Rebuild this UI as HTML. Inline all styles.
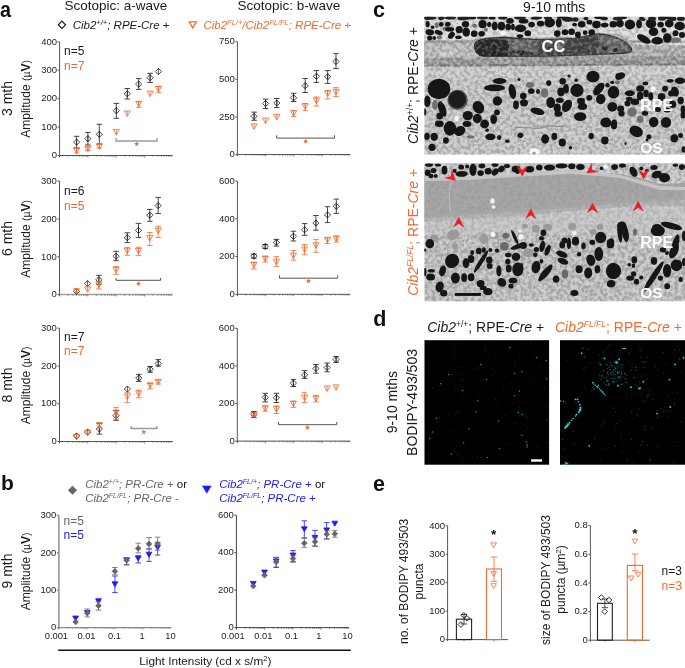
<!DOCTYPE html>
<html><head><meta charset="utf-8"><style>
html,body{margin:0;padding:0;background:#fff;}
body{width:685px;height:668px;overflow:hidden;position:relative;}
svg{display:block;position:absolute;left:0;top:0;will-change:transform;}
svg text{font-family:"Liberation Sans", sans-serif;}
</style></head><body>
<svg width="685" height="668" viewBox="0 0 685 668">
<text x="0" y="0" font-size="22" fill="#111" text-anchor="start" font-weight="bold" transform="translate(-0.1 16.9) scale(0.9 1)">a</text>
<text x="1" y="489.8" font-size="21" fill="#111" text-anchor="start" font-weight="bold" >b</text>
<text x="373.0" y="16.9" font-size="21.5" fill="#111" text-anchor="start" font-weight="bold" >c</text>
<text x="373.2" y="325.9" font-size="21.5" fill="#111" text-anchor="start" font-weight="bold" >d</text>
<text x="373.0" y="490.5" font-size="21.5" fill="#111" text-anchor="start" font-weight="bold" >e</text>
<text x="64.5" y="9.6" font-size="13.5" fill="#1a1a1a" text-anchor="start" >Scotopic: a-wave</text>
<text x="237.4" y="9.6" font-size="13.5" fill="#1a1a1a" text-anchor="start" >Scotopic: b-wave</text>
<path d="M61.9 21.2L65.5 24.8L61.9 28.400000000000002L58.3 24.8Z" fill="none" stroke="#1a1a1a" stroke-width="1.2"/>
<text x="72.7" y="29.4" font-size="11.5" fill="#1a1a1a" text-anchor="start" ><tspan font-style="italic">Cib2</tspan><tspan font-size="7.5" dy="-4.3" font-style="italic">+/+</tspan><tspan dy="4.3" font-style="italic">; RPE-Cre</tspan> +</text>
<path d="M189.20000000000002 21.799999999999997L196.4 21.799999999999997L192.8 28.0Z" fill="none" stroke="#EE6A30" stroke-width="1.2" stroke-linejoin="miter"/>
<text x="203.4" y="29.4" font-size="11.5" fill="#EE6A30" text-anchor="start" font-style="italic" >Cib2<tspan font-size="7.5" dy="-4.3">FL/+</tspan><tspan dy="4.3">/Cib2</tspan><tspan font-size="7.5" dy="-4.3">FL/FL</tspan><tspan dy="4.3">; RPE-Cre +</tspan></text>
<text x="0" y="0" font-size="14" fill="#1a1a1a" text-anchor="middle" transform="translate(12.4 98.5) rotate(-90)">3 mth</text>
<text x="0" y="0" font-size="14" fill="#1a1a1a" text-anchor="middle" transform="translate(12.4 238.5) rotate(-90)">6 mth</text>
<text x="0" y="0" font-size="14" fill="#1a1a1a" text-anchor="middle" transform="translate(12.4 385) rotate(-90)">8 mth</text>
<text x="0" y="0" font-size="14" fill="#1a1a1a" text-anchor="middle" transform="translate(12.4 571) rotate(-90)">9 mth</text>
<text x="0" y="0" font-size="12" fill="#1a1a1a" text-anchor="middle" transform="translate(30.2 98.9) rotate(-90)">Amplitude <tspan font-size="10.5">(µ</tspan><tspan font-weight="bold">V</tspan><tspan font-size="10.5">)</tspan></text>
<text x="0" y="0" font-size="12" fill="#1a1a1a" text-anchor="middle" transform="translate(30.2 238.9) rotate(-90)">Amplitude <tspan font-size="10.5">(µ</tspan><tspan font-weight="bold">V</tspan><tspan font-size="10.5">)</tspan></text>
<text x="0" y="0" font-size="12" fill="#1a1a1a" text-anchor="middle" transform="translate(30.2 385.4) rotate(-90)">Amplitude <tspan font-size="10.5">(µ</tspan><tspan font-weight="bold">V</tspan><tspan font-size="10.5">)</tspan></text>
<text x="0" y="0" font-size="12" fill="#1a1a1a" text-anchor="middle" transform="translate(30.2 571.4) rotate(-90)">Amplitude <tspan font-size="10.5">(µ</tspan><tspan font-weight="bold">V</tspan><tspan font-size="10.5">)</tspan></text>
<line x1="59.6" y1="41.8" x2="59.6" y2="157.0" stroke="#555555" stroke-width="1.0"/>
<line x1="59.6" y1="155.5" x2="172.7" y2="155.5" stroke="#555555" stroke-width="1.0"/>
<line x1="57.6" y1="41.8" x2="59.6" y2="41.8" stroke="#555555" stroke-width="1.0"/>
<text x="57.0" y="44.5" font-size="9.5" fill="#222" text-anchor="end" >400</text>
<line x1="57.6" y1="70.2" x2="59.6" y2="70.2" stroke="#555555" stroke-width="1.0"/>
<text x="57.0" y="72.9" font-size="9.5" fill="#222" text-anchor="end" >300</text>
<line x1="57.6" y1="98.7" x2="59.6" y2="98.7" stroke="#555555" stroke-width="1.0"/>
<text x="57.0" y="101.4" font-size="9.5" fill="#222" text-anchor="end" >200</text>
<line x1="57.6" y1="127.1" x2="59.6" y2="127.1" stroke="#555555" stroke-width="1.0"/>
<text x="57.0" y="129.79999999999998" font-size="9.5" fill="#222" text-anchor="end" >100</text>
<line x1="57.6" y1="155.5" x2="59.6" y2="155.5" stroke="#555555" stroke-width="1.0"/>
<text x="57.0" y="158.2" font-size="9.5" fill="#222" text-anchor="end" >0</text>
<line x1="59.60" y1="155.5" x2="59.60" y2="157.5" stroke="#555555" stroke-width="0.7"/>
<line x1="68.11" y1="155.5" x2="68.11" y2="156.7" stroke="#555555" stroke-width="0.7"/>
<line x1="73.09" y1="155.5" x2="73.09" y2="156.7" stroke="#555555" stroke-width="0.7"/>
<line x1="76.62" y1="155.5" x2="76.62" y2="156.7" stroke="#555555" stroke-width="0.7"/>
<line x1="79.36" y1="155.5" x2="79.36" y2="156.7" stroke="#555555" stroke-width="0.7"/>
<line x1="81.60" y1="155.5" x2="81.60" y2="156.7" stroke="#555555" stroke-width="0.7"/>
<line x1="83.50" y1="155.5" x2="83.50" y2="156.7" stroke="#555555" stroke-width="0.7"/>
<line x1="85.13" y1="155.5" x2="85.13" y2="156.7" stroke="#555555" stroke-width="0.7"/>
<line x1="86.58" y1="155.5" x2="86.58" y2="156.7" stroke="#555555" stroke-width="0.7"/>
<line x1="87.88" y1="155.5" x2="87.88" y2="157.5" stroke="#555555" stroke-width="0.7"/>
<line x1="96.39" y1="155.5" x2="96.39" y2="156.7" stroke="#555555" stroke-width="0.7"/>
<line x1="101.37" y1="155.5" x2="101.37" y2="156.7" stroke="#555555" stroke-width="0.7"/>
<line x1="104.90" y1="155.5" x2="104.90" y2="156.7" stroke="#555555" stroke-width="0.7"/>
<line x1="107.64" y1="155.5" x2="107.64" y2="156.7" stroke="#555555" stroke-width="0.7"/>
<line x1="109.88" y1="155.5" x2="109.88" y2="156.7" stroke="#555555" stroke-width="0.7"/>
<line x1="111.77" y1="155.5" x2="111.77" y2="156.7" stroke="#555555" stroke-width="0.7"/>
<line x1="113.41" y1="155.5" x2="113.41" y2="156.7" stroke="#555555" stroke-width="0.7"/>
<line x1="114.86" y1="155.5" x2="114.86" y2="156.7" stroke="#555555" stroke-width="0.7"/>
<line x1="116.15" y1="155.5" x2="116.15" y2="157.5" stroke="#555555" stroke-width="0.7"/>
<line x1="124.66" y1="155.5" x2="124.66" y2="156.7" stroke="#555555" stroke-width="0.7"/>
<line x1="129.64" y1="155.5" x2="129.64" y2="156.7" stroke="#555555" stroke-width="0.7"/>
<line x1="133.17" y1="155.5" x2="133.17" y2="156.7" stroke="#555555" stroke-width="0.7"/>
<line x1="135.91" y1="155.5" x2="135.91" y2="156.7" stroke="#555555" stroke-width="0.7"/>
<line x1="138.15" y1="155.5" x2="138.15" y2="156.7" stroke="#555555" stroke-width="0.7"/>
<line x1="140.05" y1="155.5" x2="140.05" y2="156.7" stroke="#555555" stroke-width="0.7"/>
<line x1="141.68" y1="155.5" x2="141.68" y2="156.7" stroke="#555555" stroke-width="0.7"/>
<line x1="143.13" y1="155.5" x2="143.13" y2="156.7" stroke="#555555" stroke-width="0.7"/>
<line x1="144.42" y1="155.5" x2="144.42" y2="157.5" stroke="#555555" stroke-width="0.7"/>
<line x1="152.94" y1="155.5" x2="152.94" y2="156.7" stroke="#555555" stroke-width="0.7"/>
<line x1="157.92" y1="155.5" x2="157.92" y2="156.7" stroke="#555555" stroke-width="0.7"/>
<line x1="161.45" y1="155.5" x2="161.45" y2="156.7" stroke="#555555" stroke-width="0.7"/>
<line x1="164.19" y1="155.5" x2="164.19" y2="156.7" stroke="#555555" stroke-width="0.7"/>
<line x1="166.43" y1="155.5" x2="166.43" y2="156.7" stroke="#555555" stroke-width="0.7"/>
<line x1="168.32" y1="155.5" x2="168.32" y2="156.7" stroke="#555555" stroke-width="0.7"/>
<line x1="169.96" y1="155.5" x2="169.96" y2="156.7" stroke="#555555" stroke-width="0.7"/>
<line x1="171.41" y1="155.5" x2="171.41" y2="156.7" stroke="#555555" stroke-width="0.7"/>
<text x="64.1" y="55.0" font-size="12" fill="#1a1a1a" text-anchor="start" >n=5</text>
<text x="64.1" y="69.9" font-size="12" fill="#EE6A30" text-anchor="start" >n=7</text>
<line x1="76.6" y1="136.3" x2="76.6" y2="148" stroke="#1a1a1a" stroke-width="0.8"/>
<line x1="73.8" y1="136.3" x2="79.39999999999999" y2="136.3" stroke="#1a1a1a" stroke-width="0.8"/>
<line x1="73.8" y1="148" x2="79.39999999999999" y2="148" stroke="#1a1a1a" stroke-width="0.8"/>
<path d="M76.6 139.0L79.69999999999999 142.1L76.6 145.2L73.5 142.1Z" fill="none" stroke="#1a1a1a" stroke-width="0.8"/>
<line x1="76.6" y1="139.1" x2="76.6" y2="145.1" stroke="#1a1a1a" stroke-width="0.7"/>
<line x1="87.9" y1="132.4" x2="87.9" y2="145" stroke="#1a1a1a" stroke-width="0.8"/>
<line x1="85.10000000000001" y1="132.4" x2="90.7" y2="132.4" stroke="#1a1a1a" stroke-width="0.8"/>
<line x1="85.10000000000001" y1="145" x2="90.7" y2="145" stroke="#1a1a1a" stroke-width="0.8"/>
<path d="M87.9 135.6L91.0 138.7L87.9 141.79999999999998L84.80000000000001 138.7Z" fill="none" stroke="#1a1a1a" stroke-width="0.8"/>
<line x1="87.9" y1="135.7" x2="87.9" y2="141.7" stroke="#1a1a1a" stroke-width="0.7"/>
<line x1="99.3" y1="124.3" x2="99.3" y2="144" stroke="#1a1a1a" stroke-width="0.8"/>
<line x1="96.5" y1="124.3" x2="102.1" y2="124.3" stroke="#1a1a1a" stroke-width="0.8"/>
<line x1="96.5" y1="144" x2="102.1" y2="144" stroke="#1a1a1a" stroke-width="0.8"/>
<path d="M99.3 131.20000000000002L102.39999999999999 134.3L99.3 137.4L96.2 134.3Z" fill="none" stroke="#1a1a1a" stroke-width="0.8"/>
<line x1="99.3" y1="131.3" x2="99.3" y2="137.3" stroke="#1a1a1a" stroke-width="0.7"/>
<line x1="116.3" y1="103.4" x2="116.3" y2="118.3" stroke="#1a1a1a" stroke-width="0.8"/>
<line x1="113.5" y1="103.4" x2="119.1" y2="103.4" stroke="#1a1a1a" stroke-width="0.8"/>
<line x1="113.5" y1="118.3" x2="119.1" y2="118.3" stroke="#1a1a1a" stroke-width="0.8"/>
<path d="M116.3 107.60000000000001L119.39999999999999 110.7L116.3 113.8L113.2 110.7Z" fill="none" stroke="#1a1a1a" stroke-width="0.8"/>
<line x1="116.3" y1="107.7" x2="116.3" y2="113.7" stroke="#1a1a1a" stroke-width="0.7"/>
<line x1="127.3" y1="88.5" x2="127.3" y2="99.0" stroke="#1a1a1a" stroke-width="0.8"/>
<line x1="124.5" y1="88.5" x2="130.1" y2="88.5" stroke="#1a1a1a" stroke-width="0.8"/>
<line x1="124.5" y1="99.0" x2="130.1" y2="99.0" stroke="#1a1a1a" stroke-width="0.8"/>
<path d="M127.3 90.7L130.4 93.8L127.3 96.89999999999999L124.2 93.8Z" fill="none" stroke="#1a1a1a" stroke-width="0.8"/>
<line x1="127.3" y1="90.8" x2="127.3" y2="96.8" stroke="#1a1a1a" stroke-width="0.7"/>
<line x1="138.7" y1="78.6" x2="138.7" y2="89.4" stroke="#1a1a1a" stroke-width="0.8"/>
<line x1="135.89999999999998" y1="78.6" x2="141.5" y2="78.6" stroke="#1a1a1a" stroke-width="0.8"/>
<line x1="135.89999999999998" y1="89.4" x2="141.5" y2="89.4" stroke="#1a1a1a" stroke-width="0.8"/>
<path d="M138.7 81.0L141.79999999999998 84.1L138.7 87.19999999999999L135.6 84.1Z" fill="none" stroke="#1a1a1a" stroke-width="0.8"/>
<line x1="138.7" y1="81.1" x2="138.7" y2="87.1" stroke="#1a1a1a" stroke-width="0.7"/>
<line x1="150.1" y1="73.3" x2="150.1" y2="82.5" stroke="#1a1a1a" stroke-width="0.8"/>
<line x1="147.29999999999998" y1="73.3" x2="152.9" y2="73.3" stroke="#1a1a1a" stroke-width="0.8"/>
<line x1="147.29999999999998" y1="82.5" x2="152.9" y2="82.5" stroke="#1a1a1a" stroke-width="0.8"/>
<path d="M150.1 74.60000000000001L153.2 77.7L150.1 80.8L147.0 77.7Z" fill="none" stroke="#1a1a1a" stroke-width="0.8"/>
<line x1="150.1" y1="74.7" x2="150.1" y2="80.7" stroke="#1a1a1a" stroke-width="0.7"/>
<path d="M158.4 68.4L161.5 71.5L158.4 74.6L155.3 71.5Z" fill="none" stroke="#1a1a1a" stroke-width="0.8"/>
<line x1="158.4" y1="68.5" x2="158.4" y2="74.5" stroke="#1a1a1a" stroke-width="0.7"/>
<line x1="76.6" y1="148" x2="76.6" y2="153" stroke="#EE6A30" stroke-width="0.8"/>
<line x1="73.8" y1="148" x2="79.39999999999999" y2="148" stroke="#EE6A30" stroke-width="0.8"/>
<line x1="73.8" y1="153" x2="79.39999999999999" y2="153" stroke="#EE6A30" stroke-width="0.8"/>
<path d="M73.5 147.9L79.69999999999999 147.9L76.6 153.29999999999998Z" fill="none" stroke="#EE6A30" stroke-width="0.8" stroke-linejoin="miter"/>
<line x1="76.6" y1="147.9" x2="76.6" y2="153.29999999999998" stroke="#EE6A30" stroke-width="0.8"/>
<line x1="87.9" y1="147" x2="87.9" y2="150.5" stroke="#EE6A30" stroke-width="0.8"/>
<line x1="85.10000000000001" y1="147" x2="90.7" y2="147" stroke="#EE6A30" stroke-width="0.8"/>
<line x1="85.10000000000001" y1="150.5" x2="90.7" y2="150.5" stroke="#EE6A30" stroke-width="0.8"/>
<path d="M84.80000000000001 146.0L91.0 146.0L87.9 151.39999999999998Z" fill="none" stroke="#EE6A30" stroke-width="0.8" stroke-linejoin="miter"/>
<line x1="87.9" y1="146.0" x2="87.9" y2="151.39999999999998" stroke="#EE6A30" stroke-width="0.8"/>
<line x1="99.3" y1="144.2" x2="99.3" y2="148" stroke="#EE6A30" stroke-width="0.8"/>
<line x1="96.5" y1="144.2" x2="102.1" y2="144.2" stroke="#EE6A30" stroke-width="0.8"/>
<line x1="96.5" y1="148" x2="102.1" y2="148" stroke="#EE6A30" stroke-width="0.8"/>
<path d="M96.2 143.9L102.39999999999999 143.9L99.3 149.29999999999998Z" fill="none" stroke="#EE6A30" stroke-width="0.8" stroke-linejoin="miter"/>
<line x1="99.3" y1="143.9" x2="99.3" y2="149.29999999999998" stroke="#EE6A30" stroke-width="0.8"/>
<path d="M113.2 129.4L119.39999999999999 129.4L116.3 134.79999999999998Z" fill="none" stroke="#EE6A30" stroke-width="0.8" stroke-linejoin="miter"/>
<line x1="116.3" y1="129.4" x2="116.3" y2="134.79999999999998" stroke="#EE6A30" stroke-width="0.8"/>
<path d="M124.2 111.0L130.4 111.0L127.3 116.4Z" fill="none" stroke="#EE6A30" stroke-width="0.8" stroke-linejoin="miter"/>
<line x1="127.3" y1="111.0" x2="127.3" y2="116.4" stroke="#EE6A30" stroke-width="0.8"/>
<line x1="138.7" y1="101.6" x2="138.7" y2="107.4" stroke="#EE6A30" stroke-width="0.8"/>
<line x1="135.89999999999998" y1="101.6" x2="141.5" y2="101.6" stroke="#EE6A30" stroke-width="0.8"/>
<line x1="135.89999999999998" y1="107.4" x2="141.5" y2="107.4" stroke="#EE6A30" stroke-width="0.8"/>
<path d="M135.6 101.3L141.79999999999998 101.3L138.7 106.7Z" fill="none" stroke="#EE6A30" stroke-width="0.8" stroke-linejoin="miter"/>
<line x1="138.7" y1="101.3" x2="138.7" y2="106.7" stroke="#EE6A30" stroke-width="0.8"/>
<path d="M147.0 91.1L153.2 91.1L150.1 96.5Z" fill="none" stroke="#EE6A30" stroke-width="0.8" stroke-linejoin="miter"/>
<line x1="150.1" y1="91.1" x2="150.1" y2="96.5" stroke="#EE6A30" stroke-width="0.8"/>
<line x1="158.4" y1="86.4" x2="158.4" y2="92.4" stroke="#EE6A30" stroke-width="0.8"/>
<line x1="155.6" y1="86.4" x2="161.20000000000002" y2="86.4" stroke="#EE6A30" stroke-width="0.8"/>
<line x1="155.6" y1="92.4" x2="161.20000000000002" y2="92.4" stroke="#EE6A30" stroke-width="0.8"/>
<path d="M155.3 86.39999999999999L161.5 86.39999999999999L158.4 91.8Z" fill="none" stroke="#EE6A30" stroke-width="0.8" stroke-linejoin="miter"/>
<line x1="158.4" y1="86.39999999999999" x2="158.4" y2="91.8" stroke="#EE6A30" stroke-width="0.8"/>
<path d="M116.2 138.2L116.2 141.0L157.1 141.0L157.1 138.2" fill="none" stroke="#9a9a9a" stroke-width="1.5"/>
<polygon points="136.70,141.30 137.38,143.07 139.27,143.17 137.79,144.36 138.29,146.18 136.70,145.15 135.11,146.18 135.61,144.36 134.13,143.17 136.02,143.07" fill="#EE6A30"/>
<line x1="237.4" y1="41.7" x2="237.4" y2="156.0" stroke="#555555" stroke-width="1.0"/>
<line x1="237.4" y1="154.5" x2="350.4" y2="154.5" stroke="#555555" stroke-width="1.0"/>
<line x1="235.4" y1="41.7" x2="237.4" y2="41.7" stroke="#555555" stroke-width="1.0"/>
<text x="234.8" y="44.400000000000006" font-size="9.5" fill="#222" text-anchor="end" >750</text>
<line x1="235.4" y1="79.3" x2="237.4" y2="79.3" stroke="#555555" stroke-width="1.0"/>
<text x="234.8" y="82.0" font-size="9.5" fill="#222" text-anchor="end" >500</text>
<line x1="235.4" y1="117.0" x2="237.4" y2="117.0" stroke="#555555" stroke-width="1.0"/>
<text x="234.8" y="119.7" font-size="9.5" fill="#222" text-anchor="end" >250</text>
<line x1="235.4" y1="154.6" x2="237.4" y2="154.6" stroke="#555555" stroke-width="1.0"/>
<text x="234.8" y="157.29999999999998" font-size="9.5" fill="#222" text-anchor="end" >0</text>
<line x1="237.40" y1="154.5" x2="237.40" y2="156.5" stroke="#555555" stroke-width="0.7"/>
<line x1="245.90" y1="154.5" x2="245.90" y2="155.7" stroke="#555555" stroke-width="0.7"/>
<line x1="250.88" y1="154.5" x2="250.88" y2="155.7" stroke="#555555" stroke-width="0.7"/>
<line x1="254.41" y1="154.5" x2="254.41" y2="155.7" stroke="#555555" stroke-width="0.7"/>
<line x1="257.15" y1="154.5" x2="257.15" y2="155.7" stroke="#555555" stroke-width="0.7"/>
<line x1="259.38" y1="154.5" x2="259.38" y2="155.7" stroke="#555555" stroke-width="0.7"/>
<line x1="261.27" y1="154.5" x2="261.27" y2="155.7" stroke="#555555" stroke-width="0.7"/>
<line x1="262.91" y1="154.5" x2="262.91" y2="155.7" stroke="#555555" stroke-width="0.7"/>
<line x1="264.36" y1="154.5" x2="264.36" y2="155.7" stroke="#555555" stroke-width="0.7"/>
<line x1="265.65" y1="154.5" x2="265.65" y2="156.5" stroke="#555555" stroke-width="0.7"/>
<line x1="274.15" y1="154.5" x2="274.15" y2="155.7" stroke="#555555" stroke-width="0.7"/>
<line x1="279.13" y1="154.5" x2="279.13" y2="155.7" stroke="#555555" stroke-width="0.7"/>
<line x1="282.66" y1="154.5" x2="282.66" y2="155.7" stroke="#555555" stroke-width="0.7"/>
<line x1="285.40" y1="154.5" x2="285.40" y2="155.7" stroke="#555555" stroke-width="0.7"/>
<line x1="287.63" y1="154.5" x2="287.63" y2="155.7" stroke="#555555" stroke-width="0.7"/>
<line x1="289.52" y1="154.5" x2="289.52" y2="155.7" stroke="#555555" stroke-width="0.7"/>
<line x1="291.16" y1="154.5" x2="291.16" y2="155.7" stroke="#555555" stroke-width="0.7"/>
<line x1="292.61" y1="154.5" x2="292.61" y2="155.7" stroke="#555555" stroke-width="0.7"/>
<line x1="293.90" y1="154.5" x2="293.90" y2="156.5" stroke="#555555" stroke-width="0.7"/>
<line x1="302.40" y1="154.5" x2="302.40" y2="155.7" stroke="#555555" stroke-width="0.7"/>
<line x1="307.38" y1="154.5" x2="307.38" y2="155.7" stroke="#555555" stroke-width="0.7"/>
<line x1="310.91" y1="154.5" x2="310.91" y2="155.7" stroke="#555555" stroke-width="0.7"/>
<line x1="313.65" y1="154.5" x2="313.65" y2="155.7" stroke="#555555" stroke-width="0.7"/>
<line x1="315.88" y1="154.5" x2="315.88" y2="155.7" stroke="#555555" stroke-width="0.7"/>
<line x1="317.77" y1="154.5" x2="317.77" y2="155.7" stroke="#555555" stroke-width="0.7"/>
<line x1="319.41" y1="154.5" x2="319.41" y2="155.7" stroke="#555555" stroke-width="0.7"/>
<line x1="320.86" y1="154.5" x2="320.86" y2="155.7" stroke="#555555" stroke-width="0.7"/>
<line x1="322.15" y1="154.5" x2="322.15" y2="156.5" stroke="#555555" stroke-width="0.7"/>
<line x1="330.65" y1="154.5" x2="330.65" y2="155.7" stroke="#555555" stroke-width="0.7"/>
<line x1="335.63" y1="154.5" x2="335.63" y2="155.7" stroke="#555555" stroke-width="0.7"/>
<line x1="339.16" y1="154.5" x2="339.16" y2="155.7" stroke="#555555" stroke-width="0.7"/>
<line x1="341.90" y1="154.5" x2="341.90" y2="155.7" stroke="#555555" stroke-width="0.7"/>
<line x1="344.13" y1="154.5" x2="344.13" y2="155.7" stroke="#555555" stroke-width="0.7"/>
<line x1="346.02" y1="154.5" x2="346.02" y2="155.7" stroke="#555555" stroke-width="0.7"/>
<line x1="347.66" y1="154.5" x2="347.66" y2="155.7" stroke="#555555" stroke-width="0.7"/>
<line x1="349.11" y1="154.5" x2="349.11" y2="155.7" stroke="#555555" stroke-width="0.7"/>
<line x1="254.1" y1="112.1" x2="254.1" y2="120.3" stroke="#1a1a1a" stroke-width="0.8"/>
<line x1="251.29999999999998" y1="112.1" x2="256.9" y2="112.1" stroke="#1a1a1a" stroke-width="0.8"/>
<line x1="251.29999999999998" y1="120.3" x2="256.9" y2="120.3" stroke="#1a1a1a" stroke-width="0.8"/>
<path d="M254.1 113.30000000000001L257.2 116.4L254.1 119.5L251.0 116.4Z" fill="none" stroke="#1a1a1a" stroke-width="0.8"/>
<line x1="254.1" y1="113.4" x2="254.1" y2="119.4" stroke="#1a1a1a" stroke-width="0.7"/>
<line x1="265.6" y1="99.1" x2="265.6" y2="108.5" stroke="#1a1a1a" stroke-width="0.8"/>
<line x1="262.8" y1="99.1" x2="268.40000000000003" y2="99.1" stroke="#1a1a1a" stroke-width="0.8"/>
<line x1="262.8" y1="108.5" x2="268.40000000000003" y2="108.5" stroke="#1a1a1a" stroke-width="0.8"/>
<path d="M265.6 100.4L268.70000000000005 103.5L265.6 106.6L262.5 103.5Z" fill="none" stroke="#1a1a1a" stroke-width="0.8"/>
<line x1="265.6" y1="100.5" x2="265.6" y2="106.5" stroke="#1a1a1a" stroke-width="0.7"/>
<line x1="276.8" y1="98.5" x2="276.8" y2="107.6" stroke="#1a1a1a" stroke-width="0.8"/>
<line x1="274.0" y1="98.5" x2="279.6" y2="98.5" stroke="#1a1a1a" stroke-width="0.8"/>
<line x1="274.0" y1="107.6" x2="279.6" y2="107.6" stroke="#1a1a1a" stroke-width="0.8"/>
<path d="M276.8 99.9L279.90000000000003 103.0L276.8 106.1L273.7 103.0Z" fill="none" stroke="#1a1a1a" stroke-width="0.8"/>
<line x1="276.8" y1="100.0" x2="276.8" y2="106.0" stroke="#1a1a1a" stroke-width="0.7"/>
<line x1="293.6" y1="93.3" x2="293.6" y2="101.5" stroke="#1a1a1a" stroke-width="0.8"/>
<line x1="290.8" y1="93.3" x2="296.40000000000003" y2="93.3" stroke="#1a1a1a" stroke-width="0.8"/>
<line x1="290.8" y1="101.5" x2="296.40000000000003" y2="101.5" stroke="#1a1a1a" stroke-width="0.8"/>
<path d="M293.6 94.7L296.70000000000005 97.8L293.6 100.89999999999999L290.5 97.8Z" fill="none" stroke="#1a1a1a" stroke-width="0.8"/>
<line x1="293.6" y1="94.8" x2="293.6" y2="100.8" stroke="#1a1a1a" stroke-width="0.7"/>
<line x1="305.2" y1="78.5" x2="305.2" y2="92.5" stroke="#1a1a1a" stroke-width="0.8"/>
<line x1="302.4" y1="78.5" x2="308.0" y2="78.5" stroke="#1a1a1a" stroke-width="0.8"/>
<line x1="302.4" y1="92.5" x2="308.0" y2="92.5" stroke="#1a1a1a" stroke-width="0.8"/>
<path d="M305.2 82.60000000000001L308.3 85.7L305.2 88.8L302.09999999999997 85.7Z" fill="none" stroke="#1a1a1a" stroke-width="0.8"/>
<line x1="305.2" y1="82.7" x2="305.2" y2="88.7" stroke="#1a1a1a" stroke-width="0.7"/>
<line x1="316.4" y1="70.6" x2="316.4" y2="82.4" stroke="#1a1a1a" stroke-width="0.8"/>
<line x1="313.59999999999997" y1="70.6" x2="319.2" y2="70.6" stroke="#1a1a1a" stroke-width="0.8"/>
<line x1="313.59999999999997" y1="82.4" x2="319.2" y2="82.4" stroke="#1a1a1a" stroke-width="0.8"/>
<path d="M316.4 73.2L319.5 76.3L316.4 79.39999999999999L313.29999999999995 76.3Z" fill="none" stroke="#1a1a1a" stroke-width="0.8"/>
<line x1="316.4" y1="73.3" x2="316.4" y2="79.3" stroke="#1a1a1a" stroke-width="0.7"/>
<line x1="327.7" y1="70.6" x2="327.7" y2="83.4" stroke="#1a1a1a" stroke-width="0.8"/>
<line x1="324.9" y1="70.6" x2="330.5" y2="70.6" stroke="#1a1a1a" stroke-width="0.8"/>
<line x1="324.9" y1="83.4" x2="330.5" y2="83.4" stroke="#1a1a1a" stroke-width="0.8"/>
<path d="M327.7 73.7L330.8 76.8L327.7 79.89999999999999L324.59999999999997 76.8Z" fill="none" stroke="#1a1a1a" stroke-width="0.8"/>
<line x1="327.7" y1="73.8" x2="327.7" y2="79.8" stroke="#1a1a1a" stroke-width="0.7"/>
<line x1="336.0" y1="53.6" x2="336.0" y2="68.6" stroke="#1a1a1a" stroke-width="0.8"/>
<line x1="333.2" y1="53.6" x2="338.8" y2="53.6" stroke="#1a1a1a" stroke-width="0.8"/>
<line x1="333.2" y1="68.6" x2="338.8" y2="68.6" stroke="#1a1a1a" stroke-width="0.8"/>
<path d="M336.0 58.4L339.1 61.5L336.0 64.6L332.9 61.5Z" fill="none" stroke="#1a1a1a" stroke-width="0.8"/>
<line x1="336.0" y1="58.5" x2="336.0" y2="64.5" stroke="#1a1a1a" stroke-width="0.7"/>
<path d="M251.0 123.89999999999999L257.2 123.89999999999999L254.1 129.29999999999998Z" fill="none" stroke="#EE6A30" stroke-width="0.8" stroke-linejoin="miter"/>
<line x1="254.1" y1="123.89999999999999" x2="254.1" y2="129.29999999999998" stroke="#EE6A30" stroke-width="0.8"/>
<path d="M262.5 118.1L268.70000000000005 118.1L265.6 123.5Z" fill="none" stroke="#EE6A30" stroke-width="0.8" stroke-linejoin="miter"/>
<line x1="265.6" y1="118.1" x2="265.6" y2="123.5" stroke="#EE6A30" stroke-width="0.8"/>
<path d="M273.7 114.5L279.90000000000003 114.5L276.8 119.9Z" fill="none" stroke="#EE6A30" stroke-width="0.8" stroke-linejoin="miter"/>
<line x1="276.8" y1="114.5" x2="276.8" y2="119.9" stroke="#EE6A30" stroke-width="0.8"/>
<line x1="293.6" y1="110.6" x2="293.6" y2="116.4" stroke="#EE6A30" stroke-width="0.8"/>
<line x1="290.8" y1="110.6" x2="296.40000000000003" y2="110.6" stroke="#EE6A30" stroke-width="0.8"/>
<line x1="290.8" y1="116.4" x2="296.40000000000003" y2="116.4" stroke="#EE6A30" stroke-width="0.8"/>
<path d="M290.5 110.7L296.70000000000005 110.7L293.6 116.10000000000001Z" fill="none" stroke="#EE6A30" stroke-width="0.8" stroke-linejoin="miter"/>
<line x1="293.6" y1="110.7" x2="293.6" y2="116.10000000000001" stroke="#EE6A30" stroke-width="0.8"/>
<line x1="305.2" y1="103.5" x2="305.2" y2="110.4" stroke="#EE6A30" stroke-width="0.8"/>
<line x1="302.4" y1="103.5" x2="308.0" y2="103.5" stroke="#EE6A30" stroke-width="0.8"/>
<line x1="302.4" y1="110.4" x2="308.0" y2="110.4" stroke="#EE6A30" stroke-width="0.8"/>
<path d="M302.09999999999997 103.8L308.3 103.8L305.2 109.2Z" fill="none" stroke="#EE6A30" stroke-width="0.8" stroke-linejoin="miter"/>
<line x1="305.2" y1="103.8" x2="305.2" y2="109.2" stroke="#EE6A30" stroke-width="0.8"/>
<line x1="316.4" y1="97" x2="316.4" y2="106" stroke="#EE6A30" stroke-width="0.8"/>
<line x1="313.59999999999997" y1="97" x2="319.2" y2="97" stroke="#EE6A30" stroke-width="0.8"/>
<line x1="313.59999999999997" y1="106" x2="319.2" y2="106" stroke="#EE6A30" stroke-width="0.8"/>
<path d="M313.29999999999995 98.0L319.5 98.0L316.4 103.4Z" fill="none" stroke="#EE6A30" stroke-width="0.8" stroke-linejoin="miter"/>
<line x1="316.4" y1="98.0" x2="316.4" y2="103.4" stroke="#EE6A30" stroke-width="0.8"/>
<line x1="327.7" y1="90.4" x2="327.7" y2="98.9" stroke="#EE6A30" stroke-width="0.8"/>
<line x1="324.9" y1="90.4" x2="330.5" y2="90.4" stroke="#EE6A30" stroke-width="0.8"/>
<line x1="324.9" y1="98.9" x2="330.5" y2="98.9" stroke="#EE6A30" stroke-width="0.8"/>
<path d="M324.59999999999997 90.89999999999999L330.8 90.89999999999999L327.7 96.3Z" fill="none" stroke="#EE6A30" stroke-width="0.8" stroke-linejoin="miter"/>
<line x1="327.7" y1="90.89999999999999" x2="327.7" y2="96.3" stroke="#EE6A30" stroke-width="0.8"/>
<line x1="336.0" y1="87.6" x2="336.0" y2="96.6" stroke="#EE6A30" stroke-width="0.8"/>
<line x1="333.2" y1="87.6" x2="338.8" y2="87.6" stroke="#EE6A30" stroke-width="0.8"/>
<line x1="333.2" y1="96.6" x2="338.8" y2="96.6" stroke="#EE6A30" stroke-width="0.8"/>
<path d="M332.9 89.3L339.1 89.3L336.0 94.7Z" fill="none" stroke="#EE6A30" stroke-width="0.8" stroke-linejoin="miter"/>
<line x1="336.0" y1="89.3" x2="336.0" y2="94.7" stroke="#EE6A30" stroke-width="0.8"/>
<path d="M276.7 135.3L276.7 138.1L334.5 138.1L334.5 135.3" fill="none" stroke="#555" stroke-width="1.0"/>
<polygon points="305.70,138.70 306.38,140.47 308.27,140.57 306.79,141.76 307.29,143.58 305.70,142.55 304.11,143.58 304.61,141.76 303.13,140.57 305.02,140.47" fill="#EE6A30"/>
<line x1="59.5" y1="181.1" x2="59.5" y2="296.0" stroke="#555555" stroke-width="1.0"/>
<line x1="59.5" y1="294.5" x2="172.7" y2="294.5" stroke="#a0a0a0" stroke-width="1.5"/>
<line x1="57.5" y1="181.1" x2="59.5" y2="181.1" stroke="#555555" stroke-width="1.0"/>
<text x="56.9" y="183.79999999999998" font-size="9.5" fill="#222" text-anchor="end" >300</text>
<line x1="57.5" y1="219.0" x2="59.5" y2="219.0" stroke="#555555" stroke-width="1.0"/>
<text x="56.9" y="221.7" font-size="9.5" fill="#222" text-anchor="end" >200</text>
<line x1="57.5" y1="256.8" x2="59.5" y2="256.8" stroke="#555555" stroke-width="1.0"/>
<text x="56.9" y="259.5" font-size="9.5" fill="#222" text-anchor="end" >100</text>
<line x1="57.5" y1="294.5" x2="59.5" y2="294.5" stroke="#555555" stroke-width="1.0"/>
<text x="56.9" y="297.2" font-size="9.5" fill="#222" text-anchor="end" >0</text>
<line x1="59.50" y1="294.5" x2="59.50" y2="296.5" stroke="#555555" stroke-width="0.7"/>
<line x1="68.02" y1="294.5" x2="68.02" y2="295.7" stroke="#555555" stroke-width="0.7"/>
<line x1="73.00" y1="294.5" x2="73.00" y2="295.7" stroke="#555555" stroke-width="0.7"/>
<line x1="76.54" y1="294.5" x2="76.54" y2="295.7" stroke="#555555" stroke-width="0.7"/>
<line x1="79.28" y1="294.5" x2="79.28" y2="295.7" stroke="#555555" stroke-width="0.7"/>
<line x1="81.52" y1="294.5" x2="81.52" y2="295.7" stroke="#555555" stroke-width="0.7"/>
<line x1="83.42" y1="294.5" x2="83.42" y2="295.7" stroke="#555555" stroke-width="0.7"/>
<line x1="85.06" y1="294.5" x2="85.06" y2="295.7" stroke="#555555" stroke-width="0.7"/>
<line x1="86.51" y1="294.5" x2="86.51" y2="295.7" stroke="#555555" stroke-width="0.7"/>
<line x1="87.80" y1="294.5" x2="87.80" y2="296.5" stroke="#555555" stroke-width="0.7"/>
<line x1="96.32" y1="294.5" x2="96.32" y2="295.7" stroke="#555555" stroke-width="0.7"/>
<line x1="101.30" y1="294.5" x2="101.30" y2="295.7" stroke="#555555" stroke-width="0.7"/>
<line x1="104.84" y1="294.5" x2="104.84" y2="295.7" stroke="#555555" stroke-width="0.7"/>
<line x1="107.58" y1="294.5" x2="107.58" y2="295.7" stroke="#555555" stroke-width="0.7"/>
<line x1="109.82" y1="294.5" x2="109.82" y2="295.7" stroke="#555555" stroke-width="0.7"/>
<line x1="111.72" y1="294.5" x2="111.72" y2="295.7" stroke="#555555" stroke-width="0.7"/>
<line x1="113.36" y1="294.5" x2="113.36" y2="295.7" stroke="#555555" stroke-width="0.7"/>
<line x1="114.81" y1="294.5" x2="114.81" y2="295.7" stroke="#555555" stroke-width="0.7"/>
<line x1="116.10" y1="294.5" x2="116.10" y2="296.5" stroke="#555555" stroke-width="0.7"/>
<line x1="124.62" y1="294.5" x2="124.62" y2="295.7" stroke="#555555" stroke-width="0.7"/>
<line x1="129.60" y1="294.5" x2="129.60" y2="295.7" stroke="#555555" stroke-width="0.7"/>
<line x1="133.14" y1="294.5" x2="133.14" y2="295.7" stroke="#555555" stroke-width="0.7"/>
<line x1="135.88" y1="294.5" x2="135.88" y2="295.7" stroke="#555555" stroke-width="0.7"/>
<line x1="138.12" y1="294.5" x2="138.12" y2="295.7" stroke="#555555" stroke-width="0.7"/>
<line x1="140.02" y1="294.5" x2="140.02" y2="295.7" stroke="#555555" stroke-width="0.7"/>
<line x1="141.66" y1="294.5" x2="141.66" y2="295.7" stroke="#555555" stroke-width="0.7"/>
<line x1="143.11" y1="294.5" x2="143.11" y2="295.7" stroke="#555555" stroke-width="0.7"/>
<line x1="144.40" y1="294.5" x2="144.40" y2="296.5" stroke="#555555" stroke-width="0.7"/>
<line x1="152.92" y1="294.5" x2="152.92" y2="295.7" stroke="#555555" stroke-width="0.7"/>
<line x1="157.90" y1="294.5" x2="157.90" y2="295.7" stroke="#555555" stroke-width="0.7"/>
<line x1="161.44" y1="294.5" x2="161.44" y2="295.7" stroke="#555555" stroke-width="0.7"/>
<line x1="164.18" y1="294.5" x2="164.18" y2="295.7" stroke="#555555" stroke-width="0.7"/>
<line x1="166.42" y1="294.5" x2="166.42" y2="295.7" stroke="#555555" stroke-width="0.7"/>
<line x1="168.32" y1="294.5" x2="168.32" y2="295.7" stroke="#555555" stroke-width="0.7"/>
<line x1="169.96" y1="294.5" x2="169.96" y2="295.7" stroke="#555555" stroke-width="0.7"/>
<line x1="171.41" y1="294.5" x2="171.41" y2="295.7" stroke="#555555" stroke-width="0.7"/>
<text x="64.1" y="194.7" font-size="12" fill="#1a1a1a" text-anchor="start" >n=6</text>
<text x="64.1" y="209.7" font-size="12" fill="#EE6A30" text-anchor="start" >n=5</text>
<path d="M76.5 288.29999999999995L79.6 291.4L76.5 294.5L73.4 291.4Z" fill="none" stroke="#1a1a1a" stroke-width="0.8"/>
<line x1="76.5" y1="288.4" x2="76.5" y2="294.4" stroke="#1a1a1a" stroke-width="0.7"/>
<path d="M87.6 280.5L90.69999999999999 283.6L87.6 286.70000000000005L84.5 283.6Z" fill="none" stroke="#1a1a1a" stroke-width="0.8"/>
<line x1="87.6" y1="280.6" x2="87.6" y2="286.6" stroke="#1a1a1a" stroke-width="0.7"/>
<line x1="98.9" y1="275.3" x2="98.9" y2="284.3" stroke="#1a1a1a" stroke-width="0.8"/>
<line x1="96.10000000000001" y1="275.3" x2="101.7" y2="275.3" stroke="#1a1a1a" stroke-width="0.8"/>
<line x1="96.10000000000001" y1="284.3" x2="101.7" y2="284.3" stroke="#1a1a1a" stroke-width="0.8"/>
<path d="M98.9 276.7L102.0 279.8L98.9 282.90000000000003L95.80000000000001 279.8Z" fill="none" stroke="#1a1a1a" stroke-width="0.8"/>
<line x1="98.9" y1="276.8" x2="98.9" y2="282.8" stroke="#1a1a1a" stroke-width="0.7"/>
<line x1="116.1" y1="251.3" x2="116.1" y2="260.7" stroke="#1a1a1a" stroke-width="0.8"/>
<line x1="113.3" y1="251.3" x2="118.89999999999999" y2="251.3" stroke="#1a1a1a" stroke-width="0.8"/>
<line x1="113.3" y1="260.7" x2="118.89999999999999" y2="260.7" stroke="#1a1a1a" stroke-width="0.8"/>
<path d="M116.1 253.1L119.19999999999999 256.2L116.1 259.3L113.0 256.2Z" fill="none" stroke="#1a1a1a" stroke-width="0.8"/>
<line x1="116.1" y1="253.2" x2="116.1" y2="259.2" stroke="#1a1a1a" stroke-width="0.7"/>
<line x1="127.3" y1="232.8" x2="127.3" y2="242.6" stroke="#1a1a1a" stroke-width="0.8"/>
<line x1="124.5" y1="232.8" x2="130.1" y2="232.8" stroke="#1a1a1a" stroke-width="0.8"/>
<line x1="124.5" y1="242.6" x2="130.1" y2="242.6" stroke="#1a1a1a" stroke-width="0.8"/>
<path d="M127.3 234.6L130.4 237.7L127.3 240.79999999999998L124.2 237.7Z" fill="none" stroke="#1a1a1a" stroke-width="0.8"/>
<line x1="127.3" y1="234.7" x2="127.3" y2="240.7" stroke="#1a1a1a" stroke-width="0.7"/>
<line x1="138.5" y1="223.4" x2="138.5" y2="237.4" stroke="#1a1a1a" stroke-width="0.8"/>
<line x1="135.7" y1="223.4" x2="141.3" y2="223.4" stroke="#1a1a1a" stroke-width="0.8"/>
<line x1="135.7" y1="237.4" x2="141.3" y2="237.4" stroke="#1a1a1a" stroke-width="0.8"/>
<path d="M138.5 227.3L141.6 230.4L138.5 233.5L135.4 230.4Z" fill="none" stroke="#1a1a1a" stroke-width="0.8"/>
<line x1="138.5" y1="227.4" x2="138.5" y2="233.4" stroke="#1a1a1a" stroke-width="0.7"/>
<line x1="149.8" y1="209.4" x2="149.8" y2="221.3" stroke="#1a1a1a" stroke-width="0.8"/>
<line x1="147.0" y1="209.4" x2="152.60000000000002" y2="209.4" stroke="#1a1a1a" stroke-width="0.8"/>
<line x1="147.0" y1="221.3" x2="152.60000000000002" y2="221.3" stroke="#1a1a1a" stroke-width="0.8"/>
<path d="M149.8 212.1L152.9 215.2L149.8 218.29999999999998L146.70000000000002 215.2Z" fill="none" stroke="#1a1a1a" stroke-width="0.8"/>
<line x1="149.8" y1="212.2" x2="149.8" y2="218.2" stroke="#1a1a1a" stroke-width="0.7"/>
<line x1="158.2" y1="197.4" x2="158.2" y2="213.5" stroke="#1a1a1a" stroke-width="0.8"/>
<line x1="155.39999999999998" y1="197.4" x2="161.0" y2="197.4" stroke="#1a1a1a" stroke-width="0.8"/>
<line x1="155.39999999999998" y1="213.5" x2="161.0" y2="213.5" stroke="#1a1a1a" stroke-width="0.8"/>
<path d="M158.2 202.5L161.29999999999998 205.6L158.2 208.7L155.1 205.6Z" fill="none" stroke="#1a1a1a" stroke-width="0.8"/>
<line x1="158.2" y1="202.6" x2="158.2" y2="208.6" stroke="#1a1a1a" stroke-width="0.7"/>
<path d="M73.4 288.7L79.6 288.7L76.5 294.09999999999997Z" fill="none" stroke="#EE6A30" stroke-width="0.8" stroke-linejoin="miter"/>
<line x1="76.5" y1="288.7" x2="76.5" y2="294.09999999999997" stroke="#EE6A30" stroke-width="0.8"/>
<path d="M84.5 286.8L90.69999999999999 286.8L87.6 292.2Z" fill="none" stroke="#EE6A30" stroke-width="0.8" stroke-linejoin="miter"/>
<line x1="87.6" y1="286.8" x2="87.6" y2="292.2" stroke="#EE6A30" stroke-width="0.8"/>
<line x1="98.9" y1="281.7" x2="98.9" y2="288.9" stroke="#EE6A30" stroke-width="0.8"/>
<line x1="96.10000000000001" y1="281.7" x2="101.7" y2="281.7" stroke="#EE6A30" stroke-width="0.8"/>
<line x1="96.10000000000001" y1="288.9" x2="101.7" y2="288.9" stroke="#EE6A30" stroke-width="0.8"/>
<path d="M95.80000000000001 282.3L102.0 282.3L98.9 287.7Z" fill="none" stroke="#EE6A30" stroke-width="0.8" stroke-linejoin="miter"/>
<line x1="98.9" y1="282.3" x2="98.9" y2="287.7" stroke="#EE6A30" stroke-width="0.8"/>
<line x1="116.1" y1="266.6" x2="116.1" y2="274.3" stroke="#EE6A30" stroke-width="0.8"/>
<line x1="113.3" y1="266.6" x2="118.89999999999999" y2="266.6" stroke="#EE6A30" stroke-width="0.8"/>
<line x1="113.3" y1="274.3" x2="118.89999999999999" y2="274.3" stroke="#EE6A30" stroke-width="0.8"/>
<path d="M113.0 267.3L119.19999999999999 267.3L116.1 272.7Z" fill="none" stroke="#EE6A30" stroke-width="0.8" stroke-linejoin="miter"/>
<line x1="116.1" y1="267.3" x2="116.1" y2="272.7" stroke="#EE6A30" stroke-width="0.8"/>
<line x1="127.3" y1="247.6" x2="127.3" y2="255.3" stroke="#EE6A30" stroke-width="0.8"/>
<line x1="124.5" y1="247.6" x2="130.1" y2="247.6" stroke="#EE6A30" stroke-width="0.8"/>
<line x1="124.5" y1="255.3" x2="130.1" y2="255.3" stroke="#EE6A30" stroke-width="0.8"/>
<path d="M124.2 248.20000000000002L130.4 248.20000000000002L127.3 253.6Z" fill="none" stroke="#EE6A30" stroke-width="0.8" stroke-linejoin="miter"/>
<line x1="127.3" y1="248.20000000000002" x2="127.3" y2="253.6" stroke="#EE6A30" stroke-width="0.8"/>
<line x1="138.5" y1="247.2" x2="138.5" y2="255.6" stroke="#EE6A30" stroke-width="0.8"/>
<line x1="135.7" y1="247.2" x2="141.3" y2="247.2" stroke="#EE6A30" stroke-width="0.8"/>
<line x1="135.7" y1="255.6" x2="141.3" y2="255.6" stroke="#EE6A30" stroke-width="0.8"/>
<path d="M135.4 248.4L141.6 248.4L138.5 253.79999999999998Z" fill="none" stroke="#EE6A30" stroke-width="0.8" stroke-linejoin="miter"/>
<line x1="138.5" y1="248.4" x2="138.5" y2="253.79999999999998" stroke="#EE6A30" stroke-width="0.8"/>
<line x1="149.8" y1="232.5" x2="149.8" y2="245.5" stroke="#EE6A30" stroke-width="0.8"/>
<line x1="147.0" y1="232.5" x2="152.60000000000002" y2="232.5" stroke="#EE6A30" stroke-width="0.8"/>
<line x1="147.0" y1="245.5" x2="152.60000000000002" y2="245.5" stroke="#EE6A30" stroke-width="0.8"/>
<path d="M146.70000000000002 235.4L152.9 235.4L149.8 240.79999999999998Z" fill="none" stroke="#EE6A30" stroke-width="0.8" stroke-linejoin="miter"/>
<line x1="149.8" y1="235.4" x2="149.8" y2="240.79999999999998" stroke="#EE6A30" stroke-width="0.8"/>
<line x1="158.2" y1="226.2" x2="158.2" y2="237.4" stroke="#EE6A30" stroke-width="0.8"/>
<line x1="155.39999999999998" y1="226.2" x2="161.0" y2="226.2" stroke="#EE6A30" stroke-width="0.8"/>
<line x1="155.39999999999998" y1="237.4" x2="161.0" y2="237.4" stroke="#EE6A30" stroke-width="0.8"/>
<path d="M155.1 228.10000000000002L161.29999999999998 228.10000000000002L158.2 233.5Z" fill="none" stroke="#EE6A30" stroke-width="0.8" stroke-linejoin="miter"/>
<line x1="158.2" y1="228.10000000000002" x2="158.2" y2="233.5" stroke="#EE6A30" stroke-width="0.8"/>
<path d="M116.1 278.0L116.1 280.3L160.6 280.3L160.6 278.0" fill="none" stroke="#555" stroke-width="1.0"/>
<polygon points="138.50,281.00 139.18,282.77 141.07,282.87 139.59,284.06 140.09,285.88 138.50,284.85 136.91,285.88 137.41,284.06 135.93,282.87 137.82,282.77" fill="#EE6A30"/>
<line x1="237.4" y1="181.1" x2="237.4" y2="295.8" stroke="#555555" stroke-width="1.0"/>
<line x1="237.4" y1="294.3" x2="350.4" y2="294.3" stroke="#555555" stroke-width="1.0"/>
<line x1="235.4" y1="181.1" x2="237.4" y2="181.1" stroke="#555555" stroke-width="1.0"/>
<text x="234.8" y="183.79999999999998" font-size="9.5" fill="#222" text-anchor="end" >600</text>
<line x1="235.4" y1="218.8" x2="237.4" y2="218.8" stroke="#555555" stroke-width="1.0"/>
<text x="234.8" y="221.5" font-size="9.5" fill="#222" text-anchor="end" >400</text>
<line x1="235.4" y1="256.6" x2="237.4" y2="256.6" stroke="#555555" stroke-width="1.0"/>
<text x="234.8" y="259.3" font-size="9.5" fill="#222" text-anchor="end" >200</text>
<line x1="235.4" y1="294.3" x2="237.4" y2="294.3" stroke="#555555" stroke-width="1.0"/>
<text x="234.8" y="297.0" font-size="9.5" fill="#222" text-anchor="end" >0</text>
<line x1="237.40" y1="294.3" x2="237.40" y2="296.3" stroke="#555555" stroke-width="0.7"/>
<line x1="245.90" y1="294.3" x2="245.90" y2="295.5" stroke="#555555" stroke-width="0.7"/>
<line x1="250.88" y1="294.3" x2="250.88" y2="295.5" stroke="#555555" stroke-width="0.7"/>
<line x1="254.41" y1="294.3" x2="254.41" y2="295.5" stroke="#555555" stroke-width="0.7"/>
<line x1="257.15" y1="294.3" x2="257.15" y2="295.5" stroke="#555555" stroke-width="0.7"/>
<line x1="259.38" y1="294.3" x2="259.38" y2="295.5" stroke="#555555" stroke-width="0.7"/>
<line x1="261.27" y1="294.3" x2="261.27" y2="295.5" stroke="#555555" stroke-width="0.7"/>
<line x1="262.91" y1="294.3" x2="262.91" y2="295.5" stroke="#555555" stroke-width="0.7"/>
<line x1="264.36" y1="294.3" x2="264.36" y2="295.5" stroke="#555555" stroke-width="0.7"/>
<line x1="265.65" y1="294.3" x2="265.65" y2="296.3" stroke="#555555" stroke-width="0.7"/>
<line x1="274.15" y1="294.3" x2="274.15" y2="295.5" stroke="#555555" stroke-width="0.7"/>
<line x1="279.13" y1="294.3" x2="279.13" y2="295.5" stroke="#555555" stroke-width="0.7"/>
<line x1="282.66" y1="294.3" x2="282.66" y2="295.5" stroke="#555555" stroke-width="0.7"/>
<line x1="285.40" y1="294.3" x2="285.40" y2="295.5" stroke="#555555" stroke-width="0.7"/>
<line x1="287.63" y1="294.3" x2="287.63" y2="295.5" stroke="#555555" stroke-width="0.7"/>
<line x1="289.52" y1="294.3" x2="289.52" y2="295.5" stroke="#555555" stroke-width="0.7"/>
<line x1="291.16" y1="294.3" x2="291.16" y2="295.5" stroke="#555555" stroke-width="0.7"/>
<line x1="292.61" y1="294.3" x2="292.61" y2="295.5" stroke="#555555" stroke-width="0.7"/>
<line x1="293.90" y1="294.3" x2="293.90" y2="296.3" stroke="#555555" stroke-width="0.7"/>
<line x1="302.40" y1="294.3" x2="302.40" y2="295.5" stroke="#555555" stroke-width="0.7"/>
<line x1="307.38" y1="294.3" x2="307.38" y2="295.5" stroke="#555555" stroke-width="0.7"/>
<line x1="310.91" y1="294.3" x2="310.91" y2="295.5" stroke="#555555" stroke-width="0.7"/>
<line x1="313.65" y1="294.3" x2="313.65" y2="295.5" stroke="#555555" stroke-width="0.7"/>
<line x1="315.88" y1="294.3" x2="315.88" y2="295.5" stroke="#555555" stroke-width="0.7"/>
<line x1="317.77" y1="294.3" x2="317.77" y2="295.5" stroke="#555555" stroke-width="0.7"/>
<line x1="319.41" y1="294.3" x2="319.41" y2="295.5" stroke="#555555" stroke-width="0.7"/>
<line x1="320.86" y1="294.3" x2="320.86" y2="295.5" stroke="#555555" stroke-width="0.7"/>
<line x1="322.15" y1="294.3" x2="322.15" y2="296.3" stroke="#555555" stroke-width="0.7"/>
<line x1="330.65" y1="294.3" x2="330.65" y2="295.5" stroke="#555555" stroke-width="0.7"/>
<line x1="335.63" y1="294.3" x2="335.63" y2="295.5" stroke="#555555" stroke-width="0.7"/>
<line x1="339.16" y1="294.3" x2="339.16" y2="295.5" stroke="#555555" stroke-width="0.7"/>
<line x1="341.90" y1="294.3" x2="341.90" y2="295.5" stroke="#555555" stroke-width="0.7"/>
<line x1="344.13" y1="294.3" x2="344.13" y2="295.5" stroke="#555555" stroke-width="0.7"/>
<line x1="346.02" y1="294.3" x2="346.02" y2="295.5" stroke="#555555" stroke-width="0.7"/>
<line x1="347.66" y1="294.3" x2="347.66" y2="295.5" stroke="#555555" stroke-width="0.7"/>
<line x1="349.11" y1="294.3" x2="349.11" y2="295.5" stroke="#555555" stroke-width="0.7"/>
<line x1="253.9" y1="254" x2="253.9" y2="258.2" stroke="#1a1a1a" stroke-width="0.8"/>
<line x1="251.1" y1="254" x2="256.7" y2="254" stroke="#1a1a1a" stroke-width="0.8"/>
<line x1="251.1" y1="258.2" x2="256.7" y2="258.2" stroke="#1a1a1a" stroke-width="0.8"/>
<path d="M253.9 253.00000000000003L257.0 256.1L253.9 259.20000000000005L250.8 256.1Z" fill="none" stroke="#1a1a1a" stroke-width="0.8"/>
<line x1="253.9" y1="253.10000000000002" x2="253.9" y2="259.1" stroke="#1a1a1a" stroke-width="0.7"/>
<line x1="265.2" y1="244.5" x2="265.2" y2="248.5" stroke="#1a1a1a" stroke-width="0.8"/>
<line x1="262.4" y1="244.5" x2="268.0" y2="244.5" stroke="#1a1a1a" stroke-width="0.8"/>
<line x1="262.4" y1="248.5" x2="268.0" y2="248.5" stroke="#1a1a1a" stroke-width="0.8"/>
<path d="M265.2 243.4L268.3 246.5L265.2 249.6L262.09999999999997 246.5Z" fill="none" stroke="#1a1a1a" stroke-width="0.8"/>
<line x1="265.2" y1="243.5" x2="265.2" y2="249.5" stroke="#1a1a1a" stroke-width="0.7"/>
<line x1="276.4" y1="239.4" x2="276.4" y2="246.1" stroke="#1a1a1a" stroke-width="0.8"/>
<line x1="273.59999999999997" y1="239.4" x2="279.2" y2="239.4" stroke="#1a1a1a" stroke-width="0.8"/>
<line x1="273.59999999999997" y1="246.1" x2="279.2" y2="246.1" stroke="#1a1a1a" stroke-width="0.8"/>
<path d="M276.4 239.3L279.5 242.4L276.4 245.5L273.29999999999995 242.4Z" fill="none" stroke="#1a1a1a" stroke-width="0.8"/>
<line x1="276.4" y1="239.4" x2="276.4" y2="245.4" stroke="#1a1a1a" stroke-width="0.7"/>
<line x1="293.4" y1="231.2" x2="293.4" y2="241" stroke="#1a1a1a" stroke-width="0.8"/>
<line x1="290.59999999999997" y1="231.2" x2="296.2" y2="231.2" stroke="#1a1a1a" stroke-width="0.8"/>
<line x1="290.59999999999997" y1="241" x2="296.2" y2="241" stroke="#1a1a1a" stroke-width="0.8"/>
<path d="M293.4 233.20000000000002L296.5 236.3L293.4 239.4L290.29999999999995 236.3Z" fill="none" stroke="#1a1a1a" stroke-width="0.8"/>
<line x1="293.4" y1="233.3" x2="293.4" y2="239.3" stroke="#1a1a1a" stroke-width="0.7"/>
<line x1="304.6" y1="223.6" x2="304.6" y2="235.3" stroke="#1a1a1a" stroke-width="0.8"/>
<line x1="301.8" y1="223.6" x2="307.40000000000003" y2="223.6" stroke="#1a1a1a" stroke-width="0.8"/>
<line x1="301.8" y1="235.3" x2="307.40000000000003" y2="235.3" stroke="#1a1a1a" stroke-width="0.8"/>
<path d="M304.6 226.70000000000002L307.70000000000005 229.8L304.6 232.9L301.5 229.8Z" fill="none" stroke="#1a1a1a" stroke-width="0.8"/>
<line x1="304.6" y1="226.8" x2="304.6" y2="232.8" stroke="#1a1a1a" stroke-width="0.7"/>
<line x1="315.9" y1="215.5" x2="315.9" y2="230.2" stroke="#1a1a1a" stroke-width="0.8"/>
<line x1="313.09999999999997" y1="215.5" x2="318.7" y2="215.5" stroke="#1a1a1a" stroke-width="0.8"/>
<line x1="313.09999999999997" y1="230.2" x2="318.7" y2="230.2" stroke="#1a1a1a" stroke-width="0.8"/>
<path d="M315.9 219.9L319.0 223.0L315.9 226.1L312.79999999999995 223.0Z" fill="none" stroke="#1a1a1a" stroke-width="0.8"/>
<line x1="315.9" y1="220.0" x2="315.9" y2="226.0" stroke="#1a1a1a" stroke-width="0.7"/>
<line x1="327.5" y1="206.7" x2="327.5" y2="222.6" stroke="#1a1a1a" stroke-width="0.8"/>
<line x1="324.7" y1="206.7" x2="330.3" y2="206.7" stroke="#1a1a1a" stroke-width="0.8"/>
<line x1="324.7" y1="222.6" x2="330.3" y2="222.6" stroke="#1a1a1a" stroke-width="0.8"/>
<path d="M327.5 211.8L330.6 214.9L327.5 218.0L324.4 214.9Z" fill="none" stroke="#1a1a1a" stroke-width="0.8"/>
<line x1="327.5" y1="211.9" x2="327.5" y2="217.9" stroke="#1a1a1a" stroke-width="0.7"/>
<line x1="336.3" y1="199.1" x2="336.3" y2="213.4" stroke="#1a1a1a" stroke-width="0.8"/>
<line x1="333.5" y1="199.1" x2="339.1" y2="199.1" stroke="#1a1a1a" stroke-width="0.8"/>
<line x1="333.5" y1="213.4" x2="339.1" y2="213.4" stroke="#1a1a1a" stroke-width="0.8"/>
<path d="M336.3 203.20000000000002L339.40000000000003 206.3L336.3 209.4L333.2 206.3Z" fill="none" stroke="#1a1a1a" stroke-width="0.8"/>
<line x1="336.3" y1="203.3" x2="336.3" y2="209.3" stroke="#1a1a1a" stroke-width="0.7"/>
<line x1="253.9" y1="262.5" x2="253.9" y2="269" stroke="#EE6A30" stroke-width="0.8"/>
<line x1="251.1" y1="262.5" x2="256.7" y2="262.5" stroke="#EE6A30" stroke-width="0.8"/>
<line x1="251.1" y1="269" x2="256.7" y2="269" stroke="#EE6A30" stroke-width="0.8"/>
<path d="M250.8 262.2L257.0 262.2L253.9 267.59999999999997Z" fill="none" stroke="#EE6A30" stroke-width="0.8" stroke-linejoin="miter"/>
<line x1="253.9" y1="262.2" x2="253.9" y2="267.59999999999997" stroke="#EE6A30" stroke-width="0.8"/>
<line x1="265.2" y1="256.3" x2="265.2" y2="261.9" stroke="#EE6A30" stroke-width="0.8"/>
<line x1="262.4" y1="256.3" x2="268.0" y2="256.3" stroke="#EE6A30" stroke-width="0.8"/>
<line x1="262.4" y1="261.9" x2="268.0" y2="261.9" stroke="#EE6A30" stroke-width="0.8"/>
<path d="M262.09999999999997 256.1L268.3 256.1L265.2 261.5Z" fill="none" stroke="#EE6A30" stroke-width="0.8" stroke-linejoin="miter"/>
<line x1="265.2" y1="256.1" x2="265.2" y2="261.5" stroke="#EE6A30" stroke-width="0.8"/>
<line x1="276.4" y1="256.7" x2="276.4" y2="266.4" stroke="#EE6A30" stroke-width="0.8"/>
<line x1="273.59999999999997" y1="256.7" x2="279.2" y2="256.7" stroke="#EE6A30" stroke-width="0.8"/>
<line x1="273.59999999999997" y1="266.4" x2="279.2" y2="266.4" stroke="#EE6A30" stroke-width="0.8"/>
<path d="M273.29999999999995 259.2L279.5 259.2L276.4 264.59999999999997Z" fill="none" stroke="#EE6A30" stroke-width="0.8" stroke-linejoin="miter"/>
<line x1="276.4" y1="259.2" x2="276.4" y2="264.59999999999997" stroke="#EE6A30" stroke-width="0.8"/>
<line x1="293.4" y1="250.6" x2="293.4" y2="260.2" stroke="#EE6A30" stroke-width="0.8"/>
<line x1="290.59999999999997" y1="250.6" x2="296.2" y2="250.6" stroke="#EE6A30" stroke-width="0.8"/>
<line x1="290.59999999999997" y1="260.2" x2="296.2" y2="260.2" stroke="#EE6A30" stroke-width="0.8"/>
<path d="M290.29999999999995 253.0L296.5 253.0L293.4 258.4Z" fill="none" stroke="#EE6A30" stroke-width="0.8" stroke-linejoin="miter"/>
<line x1="293.4" y1="253.0" x2="293.4" y2="258.4" stroke="#EE6A30" stroke-width="0.8"/>
<line x1="304.6" y1="244.5" x2="304.6" y2="254.7" stroke="#EE6A30" stroke-width="0.8"/>
<line x1="301.8" y1="244.5" x2="307.40000000000003" y2="244.5" stroke="#EE6A30" stroke-width="0.8"/>
<line x1="301.8" y1="254.7" x2="307.40000000000003" y2="254.7" stroke="#EE6A30" stroke-width="0.8"/>
<path d="M301.5 246.9L307.70000000000005 246.9L304.6 252.29999999999998Z" fill="none" stroke="#EE6A30" stroke-width="0.8" stroke-linejoin="miter"/>
<line x1="304.6" y1="246.9" x2="304.6" y2="252.29999999999998" stroke="#EE6A30" stroke-width="0.8"/>
<line x1="315.9" y1="239.4" x2="315.9" y2="252.3" stroke="#EE6A30" stroke-width="0.8"/>
<line x1="313.09999999999997" y1="239.4" x2="318.7" y2="239.4" stroke="#EE6A30" stroke-width="0.8"/>
<line x1="313.09999999999997" y1="252.3" x2="318.7" y2="252.3" stroke="#EE6A30" stroke-width="0.8"/>
<path d="M312.79999999999995 242.8L319.0 242.8L315.9 248.2Z" fill="none" stroke="#EE6A30" stroke-width="0.8" stroke-linejoin="miter"/>
<line x1="315.9" y1="242.8" x2="315.9" y2="248.2" stroke="#EE6A30" stroke-width="0.8"/>
<line x1="327.5" y1="238" x2="327.5" y2="243.5" stroke="#EE6A30" stroke-width="0.8"/>
<line x1="324.7" y1="238" x2="330.3" y2="238" stroke="#EE6A30" stroke-width="0.8"/>
<line x1="324.7" y1="243.5" x2="330.3" y2="243.5" stroke="#EE6A30" stroke-width="0.8"/>
<path d="M324.4 237.3L330.6 237.3L327.5 242.7Z" fill="none" stroke="#EE6A30" stroke-width="0.8" stroke-linejoin="miter"/>
<line x1="327.5" y1="237.3" x2="327.5" y2="242.7" stroke="#EE6A30" stroke-width="0.8"/>
<line x1="336.3" y1="235.9" x2="336.3" y2="242" stroke="#EE6A30" stroke-width="0.8"/>
<line x1="333.5" y1="235.9" x2="339.1" y2="235.9" stroke="#EE6A30" stroke-width="0.8"/>
<line x1="333.5" y1="242" x2="339.1" y2="242" stroke="#EE6A30" stroke-width="0.8"/>
<path d="M333.2 236.3L339.40000000000003 236.3L336.3 241.7Z" fill="none" stroke="#EE6A30" stroke-width="0.8" stroke-linejoin="miter"/>
<line x1="336.3" y1="236.3" x2="336.3" y2="241.7" stroke="#EE6A30" stroke-width="0.8"/>
<path d="M279.5 275.3L279.5 278.2L337.7 278.2L337.7 275.3" fill="none" stroke="#555" stroke-width="1.0"/>
<polygon points="308.50,278.30 309.18,280.07 311.07,280.17 309.59,281.36 310.09,283.18 308.50,282.15 306.91,283.18 307.41,281.36 305.93,280.17 307.82,280.07" fill="#EE6A30"/>
<line x1="59.5" y1="328.2" x2="59.5" y2="443.0" stroke="#555555" stroke-width="1.0"/>
<line x1="59.5" y1="441.5" x2="172.7" y2="441.5" stroke="#555555" stroke-width="1.0"/>
<line x1="57.5" y1="328.2" x2="59.5" y2="328.2" stroke="#555555" stroke-width="1.0"/>
<text x="56.9" y="330.9" font-size="9.5" fill="#222" text-anchor="end" >300</text>
<line x1="57.5" y1="366.0" x2="59.5" y2="366.0" stroke="#555555" stroke-width="1.0"/>
<text x="56.9" y="368.7" font-size="9.5" fill="#222" text-anchor="end" >200</text>
<line x1="57.5" y1="403.7" x2="59.5" y2="403.7" stroke="#555555" stroke-width="1.0"/>
<text x="56.9" y="406.4" font-size="9.5" fill="#222" text-anchor="end" >100</text>
<line x1="57.5" y1="441.5" x2="59.5" y2="441.5" stroke="#555555" stroke-width="1.0"/>
<text x="56.9" y="444.2" font-size="9.5" fill="#222" text-anchor="end" >0</text>
<line x1="59.50" y1="441.5" x2="59.50" y2="443.5" stroke="#555555" stroke-width="0.7"/>
<line x1="68.02" y1="441.5" x2="68.02" y2="442.7" stroke="#555555" stroke-width="0.7"/>
<line x1="73.00" y1="441.5" x2="73.00" y2="442.7" stroke="#555555" stroke-width="0.7"/>
<line x1="76.54" y1="441.5" x2="76.54" y2="442.7" stroke="#555555" stroke-width="0.7"/>
<line x1="79.28" y1="441.5" x2="79.28" y2="442.7" stroke="#555555" stroke-width="0.7"/>
<line x1="81.52" y1="441.5" x2="81.52" y2="442.7" stroke="#555555" stroke-width="0.7"/>
<line x1="83.42" y1="441.5" x2="83.42" y2="442.7" stroke="#555555" stroke-width="0.7"/>
<line x1="85.06" y1="441.5" x2="85.06" y2="442.7" stroke="#555555" stroke-width="0.7"/>
<line x1="86.51" y1="441.5" x2="86.51" y2="442.7" stroke="#555555" stroke-width="0.7"/>
<line x1="87.80" y1="441.5" x2="87.80" y2="443.5" stroke="#555555" stroke-width="0.7"/>
<line x1="96.32" y1="441.5" x2="96.32" y2="442.7" stroke="#555555" stroke-width="0.7"/>
<line x1="101.30" y1="441.5" x2="101.30" y2="442.7" stroke="#555555" stroke-width="0.7"/>
<line x1="104.84" y1="441.5" x2="104.84" y2="442.7" stroke="#555555" stroke-width="0.7"/>
<line x1="107.58" y1="441.5" x2="107.58" y2="442.7" stroke="#555555" stroke-width="0.7"/>
<line x1="109.82" y1="441.5" x2="109.82" y2="442.7" stroke="#555555" stroke-width="0.7"/>
<line x1="111.72" y1="441.5" x2="111.72" y2="442.7" stroke="#555555" stroke-width="0.7"/>
<line x1="113.36" y1="441.5" x2="113.36" y2="442.7" stroke="#555555" stroke-width="0.7"/>
<line x1="114.81" y1="441.5" x2="114.81" y2="442.7" stroke="#555555" stroke-width="0.7"/>
<line x1="116.10" y1="441.5" x2="116.10" y2="443.5" stroke="#555555" stroke-width="0.7"/>
<line x1="124.62" y1="441.5" x2="124.62" y2="442.7" stroke="#555555" stroke-width="0.7"/>
<line x1="129.60" y1="441.5" x2="129.60" y2="442.7" stroke="#555555" stroke-width="0.7"/>
<line x1="133.14" y1="441.5" x2="133.14" y2="442.7" stroke="#555555" stroke-width="0.7"/>
<line x1="135.88" y1="441.5" x2="135.88" y2="442.7" stroke="#555555" stroke-width="0.7"/>
<line x1="138.12" y1="441.5" x2="138.12" y2="442.7" stroke="#555555" stroke-width="0.7"/>
<line x1="140.02" y1="441.5" x2="140.02" y2="442.7" stroke="#555555" stroke-width="0.7"/>
<line x1="141.66" y1="441.5" x2="141.66" y2="442.7" stroke="#555555" stroke-width="0.7"/>
<line x1="143.11" y1="441.5" x2="143.11" y2="442.7" stroke="#555555" stroke-width="0.7"/>
<line x1="144.40" y1="441.5" x2="144.40" y2="443.5" stroke="#555555" stroke-width="0.7"/>
<line x1="152.92" y1="441.5" x2="152.92" y2="442.7" stroke="#555555" stroke-width="0.7"/>
<line x1="157.90" y1="441.5" x2="157.90" y2="442.7" stroke="#555555" stroke-width="0.7"/>
<line x1="161.44" y1="441.5" x2="161.44" y2="442.7" stroke="#555555" stroke-width="0.7"/>
<line x1="164.18" y1="441.5" x2="164.18" y2="442.7" stroke="#555555" stroke-width="0.7"/>
<line x1="166.42" y1="441.5" x2="166.42" y2="442.7" stroke="#555555" stroke-width="0.7"/>
<line x1="168.32" y1="441.5" x2="168.32" y2="442.7" stroke="#555555" stroke-width="0.7"/>
<line x1="169.96" y1="441.5" x2="169.96" y2="442.7" stroke="#555555" stroke-width="0.7"/>
<line x1="171.41" y1="441.5" x2="171.41" y2="442.7" stroke="#555555" stroke-width="0.7"/>
<text x="64.1" y="340.6" font-size="12" fill="#1a1a1a" text-anchor="start" >n=7</text>
<text x="64.1" y="355.0" font-size="12" fill="#EE6A30" text-anchor="start" >n=7</text>
<path d="M76.5 432.9L79.6 436L76.5 439.1L73.4 436Z" fill="none" stroke="#1a1a1a" stroke-width="0.8"/>
<line x1="76.5" y1="433" x2="76.5" y2="439" stroke="#1a1a1a" stroke-width="0.7"/>
<path d="M87.7 429.0L90.8 432.1L87.7 435.20000000000005L84.60000000000001 432.1Z" fill="none" stroke="#1a1a1a" stroke-width="0.8"/>
<line x1="87.7" y1="429.1" x2="87.7" y2="435.1" stroke="#1a1a1a" stroke-width="0.7"/>
<line x1="99.4" y1="423.3" x2="99.4" y2="434.1" stroke="#1a1a1a" stroke-width="0.8"/>
<line x1="96.60000000000001" y1="423.3" x2="102.2" y2="423.3" stroke="#1a1a1a" stroke-width="0.8"/>
<line x1="96.60000000000001" y1="434.1" x2="102.2" y2="434.1" stroke="#1a1a1a" stroke-width="0.8"/>
<path d="M99.4 425.9L102.5 429L99.4 432.1L96.30000000000001 429Z" fill="none" stroke="#1a1a1a" stroke-width="0.8"/>
<line x1="99.4" y1="426" x2="99.4" y2="432" stroke="#1a1a1a" stroke-width="0.7"/>
<line x1="116.1" y1="410.6" x2="116.1" y2="420.3" stroke="#1a1a1a" stroke-width="0.8"/>
<line x1="113.3" y1="410.6" x2="118.89999999999999" y2="410.6" stroke="#1a1a1a" stroke-width="0.8"/>
<line x1="113.3" y1="420.3" x2="118.89999999999999" y2="420.3" stroke="#1a1a1a" stroke-width="0.8"/>
<path d="M116.1 412.5L119.19999999999999 415.6L116.1 418.70000000000005L113.0 415.6Z" fill="none" stroke="#1a1a1a" stroke-width="0.8"/>
<line x1="116.1" y1="412.6" x2="116.1" y2="418.6" stroke="#1a1a1a" stroke-width="0.7"/>
<path d="M127.4 385.9L130.5 389L127.4 392.1L124.30000000000001 389Z" fill="none" stroke="#1a1a1a" stroke-width="0.8"/>
<line x1="127.4" y1="386" x2="127.4" y2="392" stroke="#1a1a1a" stroke-width="0.7"/>
<line x1="138.8" y1="374.3" x2="138.8" y2="381.4" stroke="#1a1a1a" stroke-width="0.8"/>
<line x1="136.0" y1="374.3" x2="141.60000000000002" y2="374.3" stroke="#1a1a1a" stroke-width="0.8"/>
<line x1="136.0" y1="381.4" x2="141.60000000000002" y2="381.4" stroke="#1a1a1a" stroke-width="0.8"/>
<path d="M138.8 374.9L141.9 378L138.8 381.1L135.70000000000002 378Z" fill="none" stroke="#1a1a1a" stroke-width="0.8"/>
<line x1="138.8" y1="375" x2="138.8" y2="381" stroke="#1a1a1a" stroke-width="0.7"/>
<line x1="150.1" y1="366.5" x2="150.1" y2="372.2" stroke="#1a1a1a" stroke-width="0.8"/>
<line x1="147.29999999999998" y1="366.5" x2="152.9" y2="366.5" stroke="#1a1a1a" stroke-width="0.8"/>
<line x1="147.29999999999998" y1="372.2" x2="152.9" y2="372.2" stroke="#1a1a1a" stroke-width="0.8"/>
<path d="M150.1 366.09999999999997L153.2 369.2L150.1 372.3L147.0 369.2Z" fill="none" stroke="#1a1a1a" stroke-width="0.8"/>
<line x1="150.1" y1="366.2" x2="150.1" y2="372.2" stroke="#1a1a1a" stroke-width="0.7"/>
<line x1="158.2" y1="359.6" x2="158.2" y2="366.1" stroke="#1a1a1a" stroke-width="0.8"/>
<line x1="155.39999999999998" y1="359.6" x2="161.0" y2="359.6" stroke="#1a1a1a" stroke-width="0.8"/>
<line x1="155.39999999999998" y1="366.1" x2="161.0" y2="366.1" stroke="#1a1a1a" stroke-width="0.8"/>
<path d="M158.2 360.29999999999995L161.29999999999998 363.4L158.2 366.5L155.1 363.4Z" fill="none" stroke="#1a1a1a" stroke-width="0.8"/>
<line x1="158.2" y1="360.4" x2="158.2" y2="366.4" stroke="#1a1a1a" stroke-width="0.7"/>
<path d="M73.4 434.5L79.6 434.5L76.5 439.9Z" fill="none" stroke="#EE6A30" stroke-width="0.8" stroke-linejoin="miter"/>
<line x1="76.5" y1="434.5" x2="76.5" y2="439.9" stroke="#EE6A30" stroke-width="0.8"/>
<path d="M84.60000000000001 430.40000000000003L90.8 430.40000000000003L87.7 435.8Z" fill="none" stroke="#EE6A30" stroke-width="0.8" stroke-linejoin="miter"/>
<line x1="87.7" y1="430.40000000000003" x2="87.7" y2="435.8" stroke="#EE6A30" stroke-width="0.8"/>
<line x1="99.4" y1="422.9" x2="99.4" y2="428" stroke="#EE6A30" stroke-width="0.8"/>
<line x1="96.60000000000001" y1="422.9" x2="102.2" y2="422.9" stroke="#EE6A30" stroke-width="0.8"/>
<line x1="96.60000000000001" y1="428" x2="102.2" y2="428" stroke="#EE6A30" stroke-width="0.8"/>
<path d="M96.30000000000001 422.7L102.5 422.7L99.4 428.09999999999997Z" fill="none" stroke="#EE6A30" stroke-width="0.8" stroke-linejoin="miter"/>
<line x1="99.4" y1="422.7" x2="99.4" y2="428.09999999999997" stroke="#EE6A30" stroke-width="0.8"/>
<line x1="116.1" y1="407.4" x2="116.1" y2="419.2" stroke="#EE6A30" stroke-width="0.8"/>
<line x1="113.3" y1="407.4" x2="118.89999999999999" y2="407.4" stroke="#EE6A30" stroke-width="0.8"/>
<line x1="113.3" y1="419.2" x2="118.89999999999999" y2="419.2" stroke="#EE6A30" stroke-width="0.8"/>
<path d="M113.0 410.0L119.19999999999999 410.0L116.1 415.4Z" fill="none" stroke="#EE6A30" stroke-width="0.8" stroke-linejoin="miter"/>
<line x1="116.1" y1="410.0" x2="116.1" y2="415.4" stroke="#EE6A30" stroke-width="0.8"/>
<line x1="127.4" y1="392.3" x2="127.4" y2="402.5" stroke="#EE6A30" stroke-width="0.8"/>
<line x1="124.60000000000001" y1="392.3" x2="130.20000000000002" y2="392.3" stroke="#EE6A30" stroke-width="0.8"/>
<line x1="124.60000000000001" y1="402.5" x2="130.20000000000002" y2="402.5" stroke="#EE6A30" stroke-width="0.8"/>
<path d="M124.30000000000001 394.0L130.5 394.0L127.4 399.4Z" fill="none" stroke="#EE6A30" stroke-width="0.8" stroke-linejoin="miter"/>
<line x1="127.4" y1="394.0" x2="127.4" y2="399.4" stroke="#EE6A30" stroke-width="0.8"/>
<line x1="138.8" y1="390.2" x2="138.8" y2="397.8" stroke="#EE6A30" stroke-width="0.8"/>
<line x1="136.0" y1="390.2" x2="141.60000000000002" y2="390.2" stroke="#EE6A30" stroke-width="0.8"/>
<line x1="136.0" y1="397.8" x2="141.60000000000002" y2="397.8" stroke="#EE6A30" stroke-width="0.8"/>
<path d="M135.70000000000002 391.0L141.9 391.0L138.8 396.4Z" fill="none" stroke="#EE6A30" stroke-width="0.8" stroke-linejoin="miter"/>
<line x1="138.8" y1="391.0" x2="138.8" y2="396.4" stroke="#EE6A30" stroke-width="0.8"/>
<line x1="150.1" y1="383.5" x2="150.1" y2="389" stroke="#EE6A30" stroke-width="0.8"/>
<line x1="147.29999999999998" y1="383.5" x2="152.9" y2="383.5" stroke="#EE6A30" stroke-width="0.8"/>
<line x1="147.29999999999998" y1="389" x2="152.9" y2="389" stroke="#EE6A30" stroke-width="0.8"/>
<path d="M147.0 382.8L153.2 382.8L150.1 388.2Z" fill="none" stroke="#EE6A30" stroke-width="0.8" stroke-linejoin="miter"/>
<line x1="150.1" y1="382.8" x2="150.1" y2="388.2" stroke="#EE6A30" stroke-width="0.8"/>
<line x1="158.2" y1="380" x2="158.2" y2="384" stroke="#EE6A30" stroke-width="0.8"/>
<line x1="155.39999999999998" y1="380" x2="161.0" y2="380" stroke="#EE6A30" stroke-width="0.8"/>
<line x1="155.39999999999998" y1="384" x2="161.0" y2="384" stroke="#EE6A30" stroke-width="0.8"/>
<path d="M155.1 379.3L161.29999999999998 379.3L158.2 384.7Z" fill="none" stroke="#EE6A30" stroke-width="0.8" stroke-linejoin="miter"/>
<line x1="158.2" y1="379.3" x2="158.2" y2="384.7" stroke="#EE6A30" stroke-width="0.8"/>
<path d="M131.2 426.2L131.2 428.6L156.8 428.6L156.8 426.2" fill="none" stroke="#9a9a9a" stroke-width="1.5"/>
<polygon points="143.70,429.30 144.38,431.07 146.27,431.17 144.79,432.36 145.29,434.18 143.70,433.15 142.11,434.18 142.61,432.36 141.13,431.17 143.02,431.07" fill="#EE6A30"/>
<line x1="237.3" y1="328.3" x2="237.3" y2="442.6" stroke="#555555" stroke-width="1.0"/>
<line x1="237.3" y1="441.1" x2="350.4" y2="441.1" stroke="#555555" stroke-width="1.0"/>
<line x1="235.3" y1="328.3" x2="237.3" y2="328.3" stroke="#555555" stroke-width="1.0"/>
<text x="234.70000000000002" y="331.0" font-size="9.5" fill="#222" text-anchor="end" >600</text>
<line x1="235.3" y1="365.9" x2="237.3" y2="365.9" stroke="#555555" stroke-width="1.0"/>
<text x="234.70000000000002" y="368.59999999999997" font-size="9.5" fill="#222" text-anchor="end" >400</text>
<line x1="235.3" y1="403.5" x2="237.3" y2="403.5" stroke="#555555" stroke-width="1.0"/>
<text x="234.70000000000002" y="406.2" font-size="9.5" fill="#222" text-anchor="end" >200</text>
<line x1="235.3" y1="441.1" x2="237.3" y2="441.1" stroke="#555555" stroke-width="1.0"/>
<text x="234.70000000000002" y="443.8" font-size="9.5" fill="#222" text-anchor="end" >0</text>
<line x1="237.30" y1="441.1" x2="237.30" y2="443.1" stroke="#555555" stroke-width="0.7"/>
<line x1="245.81" y1="441.1" x2="245.81" y2="442.3" stroke="#555555" stroke-width="0.7"/>
<line x1="250.79" y1="441.1" x2="250.79" y2="442.3" stroke="#555555" stroke-width="0.7"/>
<line x1="254.32" y1="441.1" x2="254.32" y2="442.3" stroke="#555555" stroke-width="0.7"/>
<line x1="257.06" y1="441.1" x2="257.06" y2="442.3" stroke="#555555" stroke-width="0.7"/>
<line x1="259.30" y1="441.1" x2="259.30" y2="442.3" stroke="#555555" stroke-width="0.7"/>
<line x1="261.20" y1="441.1" x2="261.20" y2="442.3" stroke="#555555" stroke-width="0.7"/>
<line x1="262.83" y1="441.1" x2="262.83" y2="442.3" stroke="#555555" stroke-width="0.7"/>
<line x1="264.28" y1="441.1" x2="264.28" y2="442.3" stroke="#555555" stroke-width="0.7"/>
<line x1="265.57" y1="441.1" x2="265.57" y2="443.1" stroke="#555555" stroke-width="0.7"/>
<line x1="274.09" y1="441.1" x2="274.09" y2="442.3" stroke="#555555" stroke-width="0.7"/>
<line x1="279.07" y1="441.1" x2="279.07" y2="442.3" stroke="#555555" stroke-width="0.7"/>
<line x1="282.60" y1="441.1" x2="282.60" y2="442.3" stroke="#555555" stroke-width="0.7"/>
<line x1="285.34" y1="441.1" x2="285.34" y2="442.3" stroke="#555555" stroke-width="0.7"/>
<line x1="287.58" y1="441.1" x2="287.58" y2="442.3" stroke="#555555" stroke-width="0.7"/>
<line x1="289.47" y1="441.1" x2="289.47" y2="442.3" stroke="#555555" stroke-width="0.7"/>
<line x1="291.11" y1="441.1" x2="291.11" y2="442.3" stroke="#555555" stroke-width="0.7"/>
<line x1="292.56" y1="441.1" x2="292.56" y2="442.3" stroke="#555555" stroke-width="0.7"/>
<line x1="293.85" y1="441.1" x2="293.85" y2="443.1" stroke="#555555" stroke-width="0.7"/>
<line x1="302.36" y1="441.1" x2="302.36" y2="442.3" stroke="#555555" stroke-width="0.7"/>
<line x1="307.34" y1="441.1" x2="307.34" y2="442.3" stroke="#555555" stroke-width="0.7"/>
<line x1="310.87" y1="441.1" x2="310.87" y2="442.3" stroke="#555555" stroke-width="0.7"/>
<line x1="313.61" y1="441.1" x2="313.61" y2="442.3" stroke="#555555" stroke-width="0.7"/>
<line x1="315.85" y1="441.1" x2="315.85" y2="442.3" stroke="#555555" stroke-width="0.7"/>
<line x1="317.75" y1="441.1" x2="317.75" y2="442.3" stroke="#555555" stroke-width="0.7"/>
<line x1="319.38" y1="441.1" x2="319.38" y2="442.3" stroke="#555555" stroke-width="0.7"/>
<line x1="320.83" y1="441.1" x2="320.83" y2="442.3" stroke="#555555" stroke-width="0.7"/>
<line x1="322.12" y1="441.1" x2="322.12" y2="443.1" stroke="#555555" stroke-width="0.7"/>
<line x1="330.64" y1="441.1" x2="330.64" y2="442.3" stroke="#555555" stroke-width="0.7"/>
<line x1="335.62" y1="441.1" x2="335.62" y2="442.3" stroke="#555555" stroke-width="0.7"/>
<line x1="339.15" y1="441.1" x2="339.15" y2="442.3" stroke="#555555" stroke-width="0.7"/>
<line x1="341.89" y1="441.1" x2="341.89" y2="442.3" stroke="#555555" stroke-width="0.7"/>
<line x1="344.13" y1="441.1" x2="344.13" y2="442.3" stroke="#555555" stroke-width="0.7"/>
<line x1="346.02" y1="441.1" x2="346.02" y2="442.3" stroke="#555555" stroke-width="0.7"/>
<line x1="347.66" y1="441.1" x2="347.66" y2="442.3" stroke="#555555" stroke-width="0.7"/>
<line x1="349.11" y1="441.1" x2="349.11" y2="442.3" stroke="#555555" stroke-width="0.7"/>
<line x1="253.9" y1="411.5" x2="253.9" y2="417.6" stroke="#1a1a1a" stroke-width="0.8"/>
<line x1="251.1" y1="411.5" x2="256.7" y2="411.5" stroke="#1a1a1a" stroke-width="0.8"/>
<line x1="251.1" y1="417.6" x2="256.7" y2="417.6" stroke="#1a1a1a" stroke-width="0.8"/>
<path d="M253.9 411.4L257.0 414.5L253.9 417.6L250.8 414.5Z" fill="none" stroke="#1a1a1a" stroke-width="0.8"/>
<line x1="253.9" y1="411.5" x2="253.9" y2="417.5" stroke="#1a1a1a" stroke-width="0.7"/>
<line x1="265.2" y1="393.3" x2="265.2" y2="401.9" stroke="#1a1a1a" stroke-width="0.8"/>
<line x1="262.4" y1="393.3" x2="268.0" y2="393.3" stroke="#1a1a1a" stroke-width="0.8"/>
<line x1="262.4" y1="401.9" x2="268.0" y2="401.9" stroke="#1a1a1a" stroke-width="0.8"/>
<path d="M265.2 394.29999999999995L268.3 397.4L265.2 400.5L262.09999999999997 397.4Z" fill="none" stroke="#1a1a1a" stroke-width="0.8"/>
<line x1="265.2" y1="394.4" x2="265.2" y2="400.4" stroke="#1a1a1a" stroke-width="0.7"/>
<line x1="276.4" y1="393.3" x2="276.4" y2="402.5" stroke="#1a1a1a" stroke-width="0.8"/>
<line x1="273.59999999999997" y1="393.3" x2="279.2" y2="393.3" stroke="#1a1a1a" stroke-width="0.8"/>
<line x1="273.59999999999997" y1="402.5" x2="279.2" y2="402.5" stroke="#1a1a1a" stroke-width="0.8"/>
<path d="M276.4 394.7L279.5 397.8L276.4 400.90000000000003L273.29999999999995 397.8Z" fill="none" stroke="#1a1a1a" stroke-width="0.8"/>
<line x1="276.4" y1="394.8" x2="276.4" y2="400.8" stroke="#1a1a1a" stroke-width="0.7"/>
<line x1="293.4" y1="379.4" x2="293.4" y2="386.5" stroke="#1a1a1a" stroke-width="0.8"/>
<line x1="290.59999999999997" y1="379.4" x2="296.2" y2="379.4" stroke="#1a1a1a" stroke-width="0.8"/>
<line x1="290.59999999999997" y1="386.5" x2="296.2" y2="386.5" stroke="#1a1a1a" stroke-width="0.8"/>
<path d="M293.4 380.0L296.5 383.1L293.4 386.20000000000005L290.29999999999995 383.1Z" fill="none" stroke="#1a1a1a" stroke-width="0.8"/>
<line x1="293.4" y1="380.1" x2="293.4" y2="386.1" stroke="#1a1a1a" stroke-width="0.7"/>
<line x1="304.6" y1="370.6" x2="304.6" y2="378.4" stroke="#1a1a1a" stroke-width="0.8"/>
<line x1="301.8" y1="370.6" x2="307.40000000000003" y2="370.6" stroke="#1a1a1a" stroke-width="0.8"/>
<line x1="301.8" y1="378.4" x2="307.40000000000003" y2="378.4" stroke="#1a1a1a" stroke-width="0.8"/>
<path d="M304.6 371.79999999999995L307.70000000000005 374.9L304.6 378.0L301.5 374.9Z" fill="none" stroke="#1a1a1a" stroke-width="0.8"/>
<line x1="304.6" y1="371.9" x2="304.6" y2="377.9" stroke="#1a1a1a" stroke-width="0.7"/>
<line x1="315.9" y1="364.5" x2="315.9" y2="373.2" stroke="#1a1a1a" stroke-width="0.8"/>
<line x1="313.09999999999997" y1="364.5" x2="318.7" y2="364.5" stroke="#1a1a1a" stroke-width="0.8"/>
<line x1="313.09999999999997" y1="373.2" x2="318.7" y2="373.2" stroke="#1a1a1a" stroke-width="0.8"/>
<path d="M315.9 365.4L319.0 368.5L315.9 371.6L312.79999999999995 368.5Z" fill="none" stroke="#1a1a1a" stroke-width="0.8"/>
<line x1="315.9" y1="365.5" x2="315.9" y2="371.5" stroke="#1a1a1a" stroke-width="0.7"/>
<line x1="327.1" y1="363" x2="327.1" y2="371.8" stroke="#1a1a1a" stroke-width="0.8"/>
<line x1="324.3" y1="363" x2="329.90000000000003" y2="363" stroke="#1a1a1a" stroke-width="0.8"/>
<line x1="324.3" y1="371.8" x2="329.90000000000003" y2="371.8" stroke="#1a1a1a" stroke-width="0.8"/>
<path d="M327.1 364.4L330.20000000000005 367.5L327.1 370.6L324.0 367.5Z" fill="none" stroke="#1a1a1a" stroke-width="0.8"/>
<line x1="327.1" y1="364.5" x2="327.1" y2="370.5" stroke="#1a1a1a" stroke-width="0.7"/>
<line x1="336.1" y1="356.5" x2="336.1" y2="362.4" stroke="#1a1a1a" stroke-width="0.8"/>
<line x1="333.3" y1="356.5" x2="338.90000000000003" y2="356.5" stroke="#1a1a1a" stroke-width="0.8"/>
<line x1="333.3" y1="362.4" x2="338.90000000000003" y2="362.4" stroke="#1a1a1a" stroke-width="0.8"/>
<path d="M336.1 356.5L339.20000000000005 359.6L336.1 362.70000000000005L333.0 359.6Z" fill="none" stroke="#1a1a1a" stroke-width="0.8"/>
<line x1="336.1" y1="356.6" x2="336.1" y2="362.6" stroke="#1a1a1a" stroke-width="0.7"/>
<path d="M250.8 412.40000000000003L257.0 412.40000000000003L253.9 417.8Z" fill="none" stroke="#EE6A30" stroke-width="0.8" stroke-linejoin="miter"/>
<line x1="253.9" y1="412.40000000000003" x2="253.9" y2="417.8" stroke="#EE6A30" stroke-width="0.8"/>
<line x1="265.2" y1="405.9" x2="265.2" y2="411.1" stroke="#EE6A30" stroke-width="0.8"/>
<line x1="262.4" y1="405.9" x2="268.0" y2="405.9" stroke="#EE6A30" stroke-width="0.8"/>
<line x1="262.4" y1="411.1" x2="268.0" y2="411.1" stroke="#EE6A30" stroke-width="0.8"/>
<path d="M262.09999999999997 405.90000000000003L268.3 405.90000000000003L265.2 411.3Z" fill="none" stroke="#EE6A30" stroke-width="0.8" stroke-linejoin="miter"/>
<line x1="265.2" y1="405.90000000000003" x2="265.2" y2="411.3" stroke="#EE6A30" stroke-width="0.8"/>
<line x1="276.4" y1="405.9" x2="276.4" y2="413.5" stroke="#EE6A30" stroke-width="0.8"/>
<line x1="273.59999999999997" y1="405.9" x2="279.2" y2="405.9" stroke="#EE6A30" stroke-width="0.8"/>
<line x1="273.59999999999997" y1="413.5" x2="279.2" y2="413.5" stroke="#EE6A30" stroke-width="0.8"/>
<path d="M273.29999999999995 406.7L279.5 406.7L276.4 412.09999999999997Z" fill="none" stroke="#EE6A30" stroke-width="0.8" stroke-linejoin="miter"/>
<line x1="276.4" y1="406.7" x2="276.4" y2="412.09999999999997" stroke="#EE6A30" stroke-width="0.8"/>
<line x1="293.4" y1="401.2" x2="293.4" y2="407.4" stroke="#EE6A30" stroke-width="0.8"/>
<line x1="290.59999999999997" y1="401.2" x2="296.2" y2="401.2" stroke="#EE6A30" stroke-width="0.8"/>
<line x1="290.59999999999997" y1="407.4" x2="296.2" y2="407.4" stroke="#EE6A30" stroke-width="0.8"/>
<path d="M290.29999999999995 401.2L296.5 401.2L293.4 406.59999999999997Z" fill="none" stroke="#EE6A30" stroke-width="0.8" stroke-linejoin="miter"/>
<line x1="293.4" y1="401.2" x2="293.4" y2="406.59999999999997" stroke="#EE6A30" stroke-width="0.8"/>
<line x1="304.6" y1="392.7" x2="304.6" y2="402.5" stroke="#EE6A30" stroke-width="0.8"/>
<line x1="301.8" y1="392.7" x2="307.40000000000003" y2="392.7" stroke="#EE6A30" stroke-width="0.8"/>
<line x1="301.8" y1="402.5" x2="307.40000000000003" y2="402.5" stroke="#EE6A30" stroke-width="0.8"/>
<path d="M301.5 395.1L307.70000000000005 395.1L304.6 400.5Z" fill="none" stroke="#EE6A30" stroke-width="0.8" stroke-linejoin="miter"/>
<line x1="304.6" y1="395.1" x2="304.6" y2="400.5" stroke="#EE6A30" stroke-width="0.8"/>
<line x1="315.9" y1="395.3" x2="315.9" y2="401.9" stroke="#EE6A30" stroke-width="0.8"/>
<line x1="313.09999999999997" y1="395.3" x2="318.7" y2="395.3" stroke="#EE6A30" stroke-width="0.8"/>
<line x1="313.09999999999997" y1="401.9" x2="318.7" y2="401.9" stroke="#EE6A30" stroke-width="0.8"/>
<path d="M312.79999999999995 396.1L319.0 396.1L315.9 401.5Z" fill="none" stroke="#EE6A30" stroke-width="0.8" stroke-linejoin="miter"/>
<line x1="315.9" y1="396.1" x2="315.9" y2="401.5" stroke="#EE6A30" stroke-width="0.8"/>
<path d="M324.0 385.90000000000003L330.20000000000005 385.90000000000003L327.1 391.3Z" fill="none" stroke="#EE6A30" stroke-width="0.8" stroke-linejoin="miter"/>
<line x1="327.1" y1="385.90000000000003" x2="327.1" y2="391.3" stroke="#EE6A30" stroke-width="0.8"/>
<path d="M333.0 384.90000000000003L339.20000000000005 384.90000000000003L336.1 390.3Z" fill="none" stroke="#EE6A30" stroke-width="0.8" stroke-linejoin="miter"/>
<line x1="336.1" y1="384.90000000000003" x2="336.1" y2="390.3" stroke="#EE6A30" stroke-width="0.8"/>
<path d="M278.5 422.0L278.5 424.7L336.7 424.7L336.7 422.0" fill="none" stroke="#555" stroke-width="1.0"/>
<polygon points="307.50,424.80 308.18,426.57 310.07,426.67 308.59,427.86 309.09,429.68 307.50,428.65 305.91,429.68 306.41,427.86 304.93,426.67 306.82,426.57" fill="#EE6A30"/>
<path d="M72.5 485.9L76.8 490.2L72.5 494.5L68.2 490.2Z" fill="#666666" stroke="#666666" stroke-width="0.5"/>
<text x="85.2" y="488.2" font-size="11.5" fill="#666666" text-anchor="start" ><tspan font-style="italic">Cib2</tspan><tspan font-size="7" dy="-4" font-style="italic">+/+</tspan><tspan dy="4" font-style="italic">; PR-Cre</tspan> + <tspan fill="#111">or</tspan></text>
<text x="85.2" y="502.0" font-size="11.5" fill="#666666" text-anchor="start" ><tspan font-style="italic">Cib2</tspan><tspan font-size="7" dy="-4" font-style="italic">FL/FL</tspan><tspan dy="4" font-style="italic">; PR-Cre</tspan> -</text>
<path d="M202.4 485.90000000000003L211.20000000000002 485.90000000000003L206.8 493.3Z" fill="#1c1cf8" stroke="#1c1cf8" stroke-width="0.5" stroke-linejoin="miter"/>
<text x="219.2" y="488.2" font-size="11.5" fill="#1c1cf8" text-anchor="start" ><tspan font-style="italic">Cib2</tspan><tspan font-size="7" dy="-4" font-style="italic">FL/+</tspan><tspan dy="4" font-style="italic">; PR-Cre</tspan> + <tspan fill="#111">or</tspan></text>
<text x="219.2" y="502.0" font-size="11.5" fill="#1c1cf8" text-anchor="start" ><tspan font-style="italic">Cib2</tspan><tspan font-size="7" dy="-4" font-style="italic">FL/FL</tspan><tspan dy="4" font-style="italic">; PR-Cre</tspan> +</text>
<line x1="58.9" y1="515.4" x2="58.9" y2="629.1" stroke="#888" stroke-width="1.4"/>
<line x1="58.9" y1="627.6" x2="171.4" y2="627.6" stroke="#888" stroke-width="1.4"/>
<line x1="56.9" y1="515.4" x2="58.9" y2="515.4" stroke="#888" stroke-width="1.4"/>
<text x="56.3" y="518.1" font-size="9.5" fill="#222" text-anchor="end" >300</text>
<line x1="56.9" y1="552.8" x2="58.9" y2="552.8" stroke="#888" stroke-width="1.4"/>
<text x="56.3" y="555.5" font-size="9.5" fill="#222" text-anchor="end" >200</text>
<line x1="56.9" y1="590.2" x2="58.9" y2="590.2" stroke="#888" stroke-width="1.4"/>
<text x="56.3" y="592.9000000000001" font-size="9.5" fill="#222" text-anchor="end" >100</text>
<line x1="56.9" y1="627.7" x2="58.9" y2="627.7" stroke="#888" stroke-width="1.4"/>
<text x="56.3" y="630.4000000000001" font-size="9.5" fill="#222" text-anchor="end" >0</text>
<line x1="58.90" y1="627.6" x2="58.90" y2="629.6" stroke="#888" stroke-width="0.7"/>
<line x1="67.37" y1="627.6" x2="67.37" y2="628.8000000000001" stroke="#888" stroke-width="0.7"/>
<line x1="72.32" y1="627.6" x2="72.32" y2="628.8000000000001" stroke="#888" stroke-width="0.7"/>
<line x1="75.83" y1="627.6" x2="75.83" y2="628.8000000000001" stroke="#888" stroke-width="0.7"/>
<line x1="78.56" y1="627.6" x2="78.56" y2="628.8000000000001" stroke="#888" stroke-width="0.7"/>
<line x1="80.79" y1="627.6" x2="80.79" y2="628.8000000000001" stroke="#888" stroke-width="0.7"/>
<line x1="82.67" y1="627.6" x2="82.67" y2="628.8000000000001" stroke="#888" stroke-width="0.7"/>
<line x1="84.30" y1="627.6" x2="84.30" y2="628.8000000000001" stroke="#888" stroke-width="0.7"/>
<line x1="85.74" y1="627.6" x2="85.74" y2="628.8000000000001" stroke="#888" stroke-width="0.7"/>
<line x1="87.03" y1="627.6" x2="87.03" y2="629.6" stroke="#888" stroke-width="0.7"/>
<line x1="95.49" y1="627.6" x2="95.49" y2="628.8000000000001" stroke="#888" stroke-width="0.7"/>
<line x1="100.44" y1="627.6" x2="100.44" y2="628.8000000000001" stroke="#888" stroke-width="0.7"/>
<line x1="103.96" y1="627.6" x2="103.96" y2="628.8000000000001" stroke="#888" stroke-width="0.7"/>
<line x1="106.68" y1="627.6" x2="106.68" y2="628.8000000000001" stroke="#888" stroke-width="0.7"/>
<line x1="108.91" y1="627.6" x2="108.91" y2="628.8000000000001" stroke="#888" stroke-width="0.7"/>
<line x1="110.79" y1="627.6" x2="110.79" y2="628.8000000000001" stroke="#888" stroke-width="0.7"/>
<line x1="112.42" y1="627.6" x2="112.42" y2="628.8000000000001" stroke="#888" stroke-width="0.7"/>
<line x1="113.86" y1="627.6" x2="113.86" y2="628.8000000000001" stroke="#888" stroke-width="0.7"/>
<line x1="115.15" y1="627.6" x2="115.15" y2="629.6" stroke="#888" stroke-width="0.7"/>
<line x1="123.62" y1="627.6" x2="123.62" y2="628.8000000000001" stroke="#888" stroke-width="0.7"/>
<line x1="128.57" y1="627.6" x2="128.57" y2="628.8000000000001" stroke="#888" stroke-width="0.7"/>
<line x1="132.08" y1="627.6" x2="132.08" y2="628.8000000000001" stroke="#888" stroke-width="0.7"/>
<line x1="134.81" y1="627.6" x2="134.81" y2="628.8000000000001" stroke="#888" stroke-width="0.7"/>
<line x1="137.04" y1="627.6" x2="137.04" y2="628.8000000000001" stroke="#888" stroke-width="0.7"/>
<line x1="138.92" y1="627.6" x2="138.92" y2="628.8000000000001" stroke="#888" stroke-width="0.7"/>
<line x1="140.55" y1="627.6" x2="140.55" y2="628.8000000000001" stroke="#888" stroke-width="0.7"/>
<line x1="141.99" y1="627.6" x2="141.99" y2="628.8000000000001" stroke="#888" stroke-width="0.7"/>
<line x1="143.28" y1="627.6" x2="143.28" y2="629.6" stroke="#888" stroke-width="0.7"/>
<line x1="151.74" y1="627.6" x2="151.74" y2="628.8000000000001" stroke="#888" stroke-width="0.7"/>
<line x1="156.69" y1="627.6" x2="156.69" y2="628.8000000000001" stroke="#888" stroke-width="0.7"/>
<line x1="160.21" y1="627.6" x2="160.21" y2="628.8000000000001" stroke="#888" stroke-width="0.7"/>
<line x1="162.93" y1="627.6" x2="162.93" y2="628.8000000000001" stroke="#888" stroke-width="0.7"/>
<line x1="165.16" y1="627.6" x2="165.16" y2="628.8000000000001" stroke="#888" stroke-width="0.7"/>
<line x1="167.04" y1="627.6" x2="167.04" y2="628.8000000000001" stroke="#888" stroke-width="0.7"/>
<line x1="168.67" y1="627.6" x2="168.67" y2="628.8000000000001" stroke="#888" stroke-width="0.7"/>
<line x1="170.11" y1="627.6" x2="170.11" y2="628.8000000000001" stroke="#888" stroke-width="0.7"/>
<text x="63.5" y="524.8" font-size="12" fill="#666666" text-anchor="start" >n=5</text>
<text x="63.5" y="539.4" font-size="12" fill="#1c1cf8" text-anchor="start" >n=5</text>
<path d="M72.69999999999999 616.0L78.5 616.0L75.6 621.0Z" fill="#1c1cf8" stroke="#1c1cf8" stroke-width="0.8" stroke-linejoin="miter"/>
<path d="M84.39999999999999 610.6L90.2 610.6L87.3 615.6Z" fill="#1c1cf8" stroke="#1c1cf8" stroke-width="0.8" stroke-linejoin="miter"/>
<path d="M95.6 598.7L101.4 598.7L98.5 603.7Z" fill="#1c1cf8" stroke="#1c1cf8" stroke-width="0.8" stroke-linejoin="miter"/>
<line x1="114.9" y1="576" x2="114.9" y2="592.6" stroke="#1c1cf8" stroke-width="0.8"/>
<line x1="112.10000000000001" y1="576" x2="117.7" y2="576" stroke="#1c1cf8" stroke-width="0.8"/>
<line x1="112.10000000000001" y1="592.6" x2="117.7" y2="592.6" stroke="#1c1cf8" stroke-width="0.8"/>
<path d="M112.0 581.8L117.80000000000001 581.8L114.9 586.8Z" fill="#1c1cf8" stroke="#1c1cf8" stroke-width="0.8" stroke-linejoin="miter"/>
<line x1="126.6" y1="558.5" x2="126.6" y2="564.8" stroke="#1c1cf8" stroke-width="0.8"/>
<line x1="123.8" y1="558.5" x2="129.4" y2="558.5" stroke="#1c1cf8" stroke-width="0.8"/>
<line x1="123.8" y1="564.8" x2="129.4" y2="564.8" stroke="#1c1cf8" stroke-width="0.8"/>
<path d="M123.69999999999999 557.8L129.5 557.8L126.6 562.8Z" fill="#1c1cf8" stroke="#1c1cf8" stroke-width="0.8" stroke-linejoin="miter"/>
<line x1="138.2" y1="555.8" x2="138.2" y2="563" stroke="#1c1cf8" stroke-width="0.8"/>
<line x1="135.39999999999998" y1="555.8" x2="141.0" y2="555.8" stroke="#1c1cf8" stroke-width="0.8"/>
<line x1="135.39999999999998" y1="563" x2="141.0" y2="563" stroke="#1c1cf8" stroke-width="0.8"/>
<path d="M135.29999999999998 556.0L141.1 556.0L138.2 561.0Z" fill="#1c1cf8" stroke="#1c1cf8" stroke-width="0.8" stroke-linejoin="miter"/>
<line x1="149.0" y1="548.8" x2="149.0" y2="561.4" stroke="#1c1cf8" stroke-width="0.8"/>
<line x1="146.2" y1="548.8" x2="151.8" y2="548.8" stroke="#1c1cf8" stroke-width="0.8"/>
<line x1="146.2" y1="561.4" x2="151.8" y2="561.4" stroke="#1c1cf8" stroke-width="0.8"/>
<path d="M146.1 552.2L151.9 552.2L149.0 557.2Z" fill="#1c1cf8" stroke="#1c1cf8" stroke-width="0.8" stroke-linejoin="miter"/>
<line x1="157.6" y1="542.3" x2="157.6" y2="555.1" stroke="#1c1cf8" stroke-width="0.8"/>
<line x1="154.79999999999998" y1="542.3" x2="160.4" y2="542.3" stroke="#1c1cf8" stroke-width="0.8"/>
<line x1="154.79999999999998" y1="555.1" x2="160.4" y2="555.1" stroke="#1c1cf8" stroke-width="0.8"/>
<path d="M154.7 545.2L160.5 545.2L157.6 550.2Z" fill="#1c1cf8" stroke="#1c1cf8" stroke-width="0.8" stroke-linejoin="miter"/>
<path d="M75.6 619.2L78.39999999999999 622.0L75.6 624.8L72.8 622.0Z" fill="#666666" stroke="#666666" stroke-width="0.8"/>
<line x1="87.3" y1="609" x2="87.3" y2="616.9" stroke="#666666" stroke-width="0.8"/>
<line x1="84.5" y1="609" x2="90.1" y2="609" stroke="#666666" stroke-width="0.8"/>
<line x1="84.5" y1="616.9" x2="90.1" y2="616.9" stroke="#666666" stroke-width="0.8"/>
<path d="M87.3 610.3000000000001L90.1 613.1L87.3 615.9L84.5 613.1Z" fill="#666666" stroke="#666666" stroke-width="0.8"/>
<line x1="98.5" y1="601.6" x2="98.5" y2="610.1" stroke="#666666" stroke-width="0.8"/>
<line x1="95.7" y1="601.6" x2="101.3" y2="601.6" stroke="#666666" stroke-width="0.8"/>
<line x1="95.7" y1="610.1" x2="101.3" y2="610.1" stroke="#666666" stroke-width="0.8"/>
<path d="M98.5 602.9000000000001L101.3 605.7L98.5 608.5L95.7 605.7Z" fill="#666666" stroke="#666666" stroke-width="0.8"/>
<line x1="114.9" y1="567.5" x2="114.9" y2="574.9" stroke="#666666" stroke-width="0.8"/>
<line x1="112.10000000000001" y1="567.5" x2="117.7" y2="567.5" stroke="#666666" stroke-width="0.8"/>
<line x1="112.10000000000001" y1="574.9" x2="117.7" y2="574.9" stroke="#666666" stroke-width="0.8"/>
<path d="M114.9 568.5L117.7 571.3L114.9 574.0999999999999L112.10000000000001 571.3Z" fill="#666666" stroke="#666666" stroke-width="0.8"/>
<line x1="126.6" y1="558" x2="126.6" y2="564.8" stroke="#666666" stroke-width="0.8"/>
<line x1="123.8" y1="558" x2="129.4" y2="558" stroke="#666666" stroke-width="0.8"/>
<line x1="123.8" y1="564.8" x2="129.4" y2="564.8" stroke="#666666" stroke-width="0.8"/>
<path d="M126.6 557.5L129.4 560.3L126.6 563.0999999999999L123.8 560.3Z" fill="#666666" stroke="#666666" stroke-width="0.8"/>
<line x1="138.2" y1="543.2" x2="138.2" y2="552.9" stroke="#666666" stroke-width="0.8"/>
<line x1="135.39999999999998" y1="543.2" x2="141.0" y2="543.2" stroke="#666666" stroke-width="0.8"/>
<line x1="135.39999999999998" y1="552.9" x2="141.0" y2="552.9" stroke="#666666" stroke-width="0.8"/>
<path d="M138.2 545.6L141.0 548.4L138.2 551.1999999999999L135.39999999999998 548.4Z" fill="#666666" stroke="#666666" stroke-width="0.8"/>
<line x1="149.0" y1="537.6" x2="149.0" y2="549.1" stroke="#666666" stroke-width="0.8"/>
<line x1="146.2" y1="537.6" x2="151.8" y2="537.6" stroke="#666666" stroke-width="0.8"/>
<line x1="146.2" y1="549.1" x2="151.8" y2="549.1" stroke="#666666" stroke-width="0.8"/>
<path d="M149.0 541.1L151.8 543.9L149.0 546.6999999999999L146.2 543.9Z" fill="#666666" stroke="#666666" stroke-width="0.8"/>
<line x1="157.6" y1="537.2" x2="157.6" y2="550.2" stroke="#666666" stroke-width="0.8"/>
<line x1="154.79999999999998" y1="537.2" x2="160.4" y2="537.2" stroke="#666666" stroke-width="0.8"/>
<line x1="154.79999999999998" y1="550.2" x2="160.4" y2="550.2" stroke="#666666" stroke-width="0.8"/>
<path d="M157.6 541.1L160.4 543.9L157.6 546.6999999999999L154.79999999999998 543.9Z" fill="#666666" stroke="#666666" stroke-width="0.8"/>
<line x1="236.4" y1="515.2" x2="236.4" y2="629.1" stroke="#444" stroke-width="1.0"/>
<line x1="236.4" y1="627.6" x2="349.2" y2="627.6" stroke="#444" stroke-width="1.0"/>
<line x1="234.4" y1="515.2" x2="236.4" y2="515.2" stroke="#444" stroke-width="1.0"/>
<text x="233.8" y="517.9000000000001" font-size="9.5" fill="#222" text-anchor="end" >600</text>
<line x1="234.4" y1="552.7" x2="236.4" y2="552.7" stroke="#444" stroke-width="1.0"/>
<text x="233.8" y="555.4000000000001" font-size="9.5" fill="#222" text-anchor="end" >400</text>
<line x1="234.4" y1="590.1" x2="236.4" y2="590.1" stroke="#444" stroke-width="1.0"/>
<text x="233.8" y="592.8000000000001" font-size="9.5" fill="#222" text-anchor="end" >200</text>
<line x1="234.4" y1="627.6" x2="236.4" y2="627.6" stroke="#444" stroke-width="1.0"/>
<text x="233.8" y="630.3000000000001" font-size="9.5" fill="#222" text-anchor="end" >0</text>
<line x1="236.40" y1="627.6" x2="236.40" y2="629.6" stroke="#444" stroke-width="0.7"/>
<line x1="244.89" y1="627.6" x2="244.89" y2="628.8000000000001" stroke="#444" stroke-width="0.7"/>
<line x1="249.85" y1="627.6" x2="249.85" y2="628.8000000000001" stroke="#444" stroke-width="0.7"/>
<line x1="253.38" y1="627.6" x2="253.38" y2="628.8000000000001" stroke="#444" stroke-width="0.7"/>
<line x1="256.11" y1="627.6" x2="256.11" y2="628.8000000000001" stroke="#444" stroke-width="0.7"/>
<line x1="258.34" y1="627.6" x2="258.34" y2="628.8000000000001" stroke="#444" stroke-width="0.7"/>
<line x1="260.23" y1="627.6" x2="260.23" y2="628.8000000000001" stroke="#444" stroke-width="0.7"/>
<line x1="261.87" y1="627.6" x2="261.87" y2="628.8000000000001" stroke="#444" stroke-width="0.7"/>
<line x1="263.31" y1="627.6" x2="263.31" y2="628.8000000000001" stroke="#444" stroke-width="0.7"/>
<line x1="264.60" y1="627.6" x2="264.60" y2="629.6" stroke="#444" stroke-width="0.7"/>
<line x1="273.09" y1="627.6" x2="273.09" y2="628.8000000000001" stroke="#444" stroke-width="0.7"/>
<line x1="278.05" y1="627.6" x2="278.05" y2="628.8000000000001" stroke="#444" stroke-width="0.7"/>
<line x1="281.58" y1="627.6" x2="281.58" y2="628.8000000000001" stroke="#444" stroke-width="0.7"/>
<line x1="284.31" y1="627.6" x2="284.31" y2="628.8000000000001" stroke="#444" stroke-width="0.7"/>
<line x1="286.54" y1="627.6" x2="286.54" y2="628.8000000000001" stroke="#444" stroke-width="0.7"/>
<line x1="288.43" y1="627.6" x2="288.43" y2="628.8000000000001" stroke="#444" stroke-width="0.7"/>
<line x1="290.07" y1="627.6" x2="290.07" y2="628.8000000000001" stroke="#444" stroke-width="0.7"/>
<line x1="291.51" y1="627.6" x2="291.51" y2="628.8000000000001" stroke="#444" stroke-width="0.7"/>
<line x1="292.80" y1="627.6" x2="292.80" y2="629.6" stroke="#444" stroke-width="0.7"/>
<line x1="301.29" y1="627.6" x2="301.29" y2="628.8000000000001" stroke="#444" stroke-width="0.7"/>
<line x1="306.25" y1="627.6" x2="306.25" y2="628.8000000000001" stroke="#444" stroke-width="0.7"/>
<line x1="309.78" y1="627.6" x2="309.78" y2="628.8000000000001" stroke="#444" stroke-width="0.7"/>
<line x1="312.51" y1="627.6" x2="312.51" y2="628.8000000000001" stroke="#444" stroke-width="0.7"/>
<line x1="314.74" y1="627.6" x2="314.74" y2="628.8000000000001" stroke="#444" stroke-width="0.7"/>
<line x1="316.63" y1="627.6" x2="316.63" y2="628.8000000000001" stroke="#444" stroke-width="0.7"/>
<line x1="318.27" y1="627.6" x2="318.27" y2="628.8000000000001" stroke="#444" stroke-width="0.7"/>
<line x1="319.71" y1="627.6" x2="319.71" y2="628.8000000000001" stroke="#444" stroke-width="0.7"/>
<line x1="321.00" y1="627.6" x2="321.00" y2="629.6" stroke="#444" stroke-width="0.7"/>
<line x1="329.49" y1="627.6" x2="329.49" y2="628.8000000000001" stroke="#444" stroke-width="0.7"/>
<line x1="334.45" y1="627.6" x2="334.45" y2="628.8000000000001" stroke="#444" stroke-width="0.7"/>
<line x1="337.98" y1="627.6" x2="337.98" y2="628.8000000000001" stroke="#444" stroke-width="0.7"/>
<line x1="340.71" y1="627.6" x2="340.71" y2="628.8000000000001" stroke="#444" stroke-width="0.7"/>
<line x1="342.94" y1="627.6" x2="342.94" y2="628.8000000000001" stroke="#444" stroke-width="0.7"/>
<line x1="344.83" y1="627.6" x2="344.83" y2="628.8000000000001" stroke="#444" stroke-width="0.7"/>
<line x1="346.47" y1="627.6" x2="346.47" y2="628.8000000000001" stroke="#444" stroke-width="0.7"/>
<line x1="347.91" y1="627.6" x2="347.91" y2="628.8000000000001" stroke="#444" stroke-width="0.7"/>
<path d="M250.4 581.4L256.2 581.4L253.3 586.4Z" fill="#1c1cf8" stroke="#1c1cf8" stroke-width="0.8" stroke-linejoin="miter"/>
<path d="M261.6 570.1L267.4 570.1L264.5 575.1Z" fill="#1c1cf8" stroke="#1c1cf8" stroke-width="0.8" stroke-linejoin="miter"/>
<line x1="276.2" y1="557.4" x2="276.2" y2="567.5" stroke="#1c1cf8" stroke-width="0.8"/>
<line x1="273.4" y1="557.4" x2="279.0" y2="557.4" stroke="#1c1cf8" stroke-width="0.8"/>
<line x1="273.4" y1="567.5" x2="279.0" y2="567.5" stroke="#1c1cf8" stroke-width="0.8"/>
<path d="M273.3 558.9L279.09999999999997 558.9L276.2 563.9Z" fill="#1c1cf8" stroke="#1c1cf8" stroke-width="0.8" stroke-linejoin="miter"/>
<line x1="293.0" y1="550.6" x2="293.0" y2="561.4" stroke="#1c1cf8" stroke-width="0.8"/>
<line x1="290.2" y1="550.6" x2="295.8" y2="550.6" stroke="#1c1cf8" stroke-width="0.8"/>
<line x1="290.2" y1="561.4" x2="295.8" y2="561.4" stroke="#1c1cf8" stroke-width="0.8"/>
<path d="M290.1 553.1L295.9 553.1L293.0 558.1Z" fill="#1c1cf8" stroke="#1c1cf8" stroke-width="0.8" stroke-linejoin="miter"/>
<line x1="304.3" y1="520.8" x2="304.3" y2="537.8" stroke="#1c1cf8" stroke-width="0.8"/>
<line x1="301.5" y1="520.8" x2="307.1" y2="520.8" stroke="#1c1cf8" stroke-width="0.8"/>
<line x1="301.5" y1="537.8" x2="307.1" y2="537.8" stroke="#1c1cf8" stroke-width="0.8"/>
<path d="M301.40000000000003 526.8L307.2 526.8L304.3 531.8Z" fill="#1c1cf8" stroke="#1c1cf8" stroke-width="0.8" stroke-linejoin="miter"/>
<line x1="315.0" y1="530.4" x2="315.0" y2="546.1" stroke="#1c1cf8" stroke-width="0.8"/>
<line x1="312.2" y1="530.4" x2="317.8" y2="530.4" stroke="#1c1cf8" stroke-width="0.8"/>
<line x1="312.2" y1="546.1" x2="317.8" y2="546.1" stroke="#1c1cf8" stroke-width="0.8"/>
<path d="M312.1 535.3L317.9 535.3L315.0 540.3Z" fill="#1c1cf8" stroke="#1c1cf8" stroke-width="0.8" stroke-linejoin="miter"/>
<line x1="326.7" y1="522.6" x2="326.7" y2="539" stroke="#1c1cf8" stroke-width="0.8"/>
<line x1="323.9" y1="522.6" x2="329.5" y2="522.6" stroke="#1c1cf8" stroke-width="0.8"/>
<line x1="323.9" y1="539" x2="329.5" y2="539" stroke="#1c1cf8" stroke-width="0.8"/>
<path d="M323.8 527.9L329.59999999999997 527.9L326.7 532.9Z" fill="#1c1cf8" stroke="#1c1cf8" stroke-width="0.8" stroke-linejoin="miter"/>
<path d="M331.90000000000003 521.2L337.7 521.2L334.8 526.2Z" fill="#1c1cf8" stroke="#1c1cf8" stroke-width="0.8" stroke-linejoin="miter"/>
<path d="M253.3 583.3000000000001L256.1 586.1L253.3 588.9L250.5 586.1Z" fill="#666666" stroke="#666666" stroke-width="0.8"/>
<path d="M264.5 572.5L267.3 575.3L264.5 578.0999999999999L261.7 575.3Z" fill="#666666" stroke="#666666" stroke-width="0.8"/>
<line x1="276.2" y1="557.4" x2="276.2" y2="567" stroke="#666666" stroke-width="0.8"/>
<line x1="273.4" y1="557.4" x2="279.0" y2="557.4" stroke="#666666" stroke-width="0.8"/>
<line x1="273.4" y1="567" x2="279.0" y2="567" stroke="#666666" stroke-width="0.8"/>
<path d="M276.2 559.1L279.0 561.9L276.2 564.6999999999999L273.4 561.9Z" fill="#666666" stroke="#666666" stroke-width="0.8"/>
<line x1="293.0" y1="555.1" x2="293.0" y2="562.3" stroke="#666666" stroke-width="0.8"/>
<line x1="290.2" y1="555.1" x2="295.8" y2="555.1" stroke="#666666" stroke-width="0.8"/>
<line x1="290.2" y1="562.3" x2="295.8" y2="562.3" stroke="#666666" stroke-width="0.8"/>
<path d="M293.0 555.7L295.8 558.5L293.0 561.3L290.2 558.5Z" fill="#666666" stroke="#666666" stroke-width="0.8"/>
<line x1="304.3" y1="538.3" x2="304.3" y2="547.3" stroke="#666666" stroke-width="0.8"/>
<line x1="301.5" y1="538.3" x2="307.1" y2="538.3" stroke="#666666" stroke-width="0.8"/>
<line x1="301.5" y1="547.3" x2="307.1" y2="547.3" stroke="#666666" stroke-width="0.8"/>
<path d="M304.3 540.4000000000001L307.1 543.2L304.3 546.0L301.5 543.2Z" fill="#666666" stroke="#666666" stroke-width="0.8"/>
<line x1="315.0" y1="537.2" x2="315.0" y2="546.1" stroke="#666666" stroke-width="0.8"/>
<line x1="312.2" y1="537.2" x2="317.8" y2="537.2" stroke="#666666" stroke-width="0.8"/>
<line x1="312.2" y1="546.1" x2="317.8" y2="546.1" stroke="#666666" stroke-width="0.8"/>
<path d="M315.0 538.9000000000001L317.8 541.7L315.0 544.5L312.2 541.7Z" fill="#666666" stroke="#666666" stroke-width="0.8"/>
<line x1="326.7" y1="530.4" x2="326.7" y2="539" stroke="#666666" stroke-width="0.8"/>
<line x1="323.9" y1="530.4" x2="329.5" y2="530.4" stroke="#666666" stroke-width="0.8"/>
<line x1="323.9" y1="539" x2="329.5" y2="539" stroke="#666666" stroke-width="0.8"/>
<path d="M326.7 531.4000000000001L329.5 534.2L326.7 537.0L323.9 534.2Z" fill="#666666" stroke="#666666" stroke-width="0.8"/>
<line x1="334.8" y1="530.4" x2="334.8" y2="537.2" stroke="#666666" stroke-width="0.8"/>
<line x1="332.0" y1="530.4" x2="337.6" y2="530.4" stroke="#666666" stroke-width="0.8"/>
<line x1="332.0" y1="537.2" x2="337.6" y2="537.2" stroke="#666666" stroke-width="0.8"/>
<path d="M334.8 531.0L337.6 533.8L334.8 536.5999999999999L332.0 533.8Z" fill="#666666" stroke="#666666" stroke-width="0.8"/>
<text x="56.4" y="638.8" font-size="9.3" fill="#222" text-anchor="middle" >0.001</text>
<text x="86.5" y="638.8" font-size="9.3" fill="#222" text-anchor="middle" >0.01</text>
<text x="114.5" y="638.8" font-size="9.3" fill="#222" text-anchor="middle" >0.1</text>
<text x="142.2" y="638.8" font-size="9.3" fill="#222" text-anchor="middle" >1</text>
<text x="170.5" y="638.8" font-size="9.3" fill="#222" text-anchor="middle" >10</text>
<text x="233.0" y="638.8" font-size="9.3" fill="#222" text-anchor="middle" >0.001</text>
<text x="263.4" y="638.8" font-size="9.3" fill="#222" text-anchor="middle" >0.01</text>
<text x="291.5" y="638.8" font-size="9.3" fill="#222" text-anchor="middle" >0.1</text>
<text x="318.9" y="638.8" font-size="9.3" fill="#222" text-anchor="middle" >1</text>
<text x="347.4" y="638.8" font-size="9.3" fill="#222" text-anchor="middle" >10</text>
<line x1="58.2" y1="650.2" x2="350.7" y2="650.2" stroke="#111" stroke-width="1.4"/>
<text x="139.3" y="664.7" font-size="11.8" fill="#1a1a1a" text-anchor="start" >Light Intensity (cd x s/m<tspan font-size="7.5" dy="-4">2</tspan><tspan dy="4">)</tspan></text>
<text x="523.1" y="11.6" font-size="14" fill="#1a1a1a" text-anchor="start" >9-10 mths</text>
<defs>
<clipPath id="c1clip"><rect x="424.3" y="16.7" width="260.7" height="138.1"/></clipPath>
<clipPath id="c2clip"><rect x="424.3" y="163.3" width="260.7" height="138.2"/></clipPath>
<filter id="grain" x="0" y="0" width="1" height="1" filterUnits="objectBoundingBox">
 <feTurbulence type="fractalNoise" baseFrequency="0.28" numOctaves="3" seed="7"/><feGaussianBlur stdDeviation="0.7"/>
 <feColorMatrix type="matrix" values="0 0 0 0 0  0 0 0 0 0  0 0 0 0 0  -7 0 0 0 3.5"/>
</filter>
<filter id="grainw" x="0" y="0" width="1" height="1" filterUnits="objectBoundingBox">
 <feTurbulence type="fractalNoise" baseFrequency="0.28" numOctaves="3" seed="7"/><feGaussianBlur stdDeviation="0.7"/>
 <feColorMatrix type="matrix" values="0 0 0 0 1  0 0 0 0 1  0 0 0 0 1  7 0 0 0 -3.5"/>
</filter>
<filter id="grain2" x="0" y="0" width="1" height="1" filterUnits="objectBoundingBox">
 <feTurbulence type="fractalNoise" baseFrequency="0.28" numOctaves="3" seed="19"/><feGaussianBlur stdDeviation="0.7"/>
 <feColorMatrix type="matrix" values="0 0 0 0 0  0 0 0 0 0  0 0 0 0 0  -7 0 0 0 3.5"/>
</filter>
<filter id="grain2w" x="0" y="0" width="1" height="1" filterUnits="objectBoundingBox">
 <feTurbulence type="fractalNoise" baseFrequency="0.28" numOctaves="3" seed="19"/><feGaussianBlur stdDeviation="0.7"/>
 <feColorMatrix type="matrix" values="0 0 0 0 1  0 0 0 0 1  0 0 0 0 1  7 0 0 0 -3.5"/>
</filter>
<filter id="soft" x="-20%" y="-20%" width="140%" height="140%"><feGaussianBlur stdDeviation="0.45"/></filter>
<filter id="soft2" x="-20%" y="-20%" width="140%" height="140%"><feGaussianBlur stdDeviation="1.2"/></filter>
</defs>
<g clip-path="url(#c1clip)">
<rect x="424.3" y="16.7" width="260.7" height="138.1" fill="#c2c2c2"/>
<path d="M424 16 L685 16 L685 45 L660 46 L636 44 L620 34 L600 33 L575 38 L555 37 L530 38 L505 36 L480 38 L470 41 L424 41 Z" fill="#d8d8d8"/>
<path d="M424 40.5 L470 40.5 L480 38 L505 36 L530 38 L555 37 L575 38 L600 33 L620 34 L636 44 L660 46 L685 45 L685 63 L424 63 Z" fill="#acacac"/>
<rect x="424" y="43" width="60" height="15" fill="#b9b9b9" filter="url(#soft2)"/>
<ellipse cx="447.5" cy="53.3" rx="7" ry="2.6" fill="#d2d2d2" filter="url(#soft2)"/>
<rect x="424" y="40.5" width="261" height="2.5" fill="#9c9c9c" filter="url(#soft)"/>
<path d="M424 58 L685 56 L685 65.5 L424 67 Z" fill="#979797" filter="url(#soft)"/>
<path d="M424 64.8 L685 63.5 L685 65 L424 66.5 Z" fill="#7c7c7c" filter="url(#soft)"/>
<rect x="424" y="67" width="261" height="12" fill="#c8c8c8" filter="url(#soft2)"/>
<rect x="424.3" y="16.7" width="260.7" height="138.1" filter="url(#grain)" opacity="0.13"/>
<rect x="424.3" y="16.7" width="260.7" height="138.1" filter="url(#grainw)" opacity="0.26"/>
<path d="M474.6 45 C475.5 39.5 484 38 504 37.4 C520 38.5 530 39.5 537 39.5 C555 39.5 565 39 575 38.3 C585 37 590 34.5 596 34.1 C602 33.8 606 34.5 610 35.5 C618 37.5 626 42 631 47.8 C633 51 630 53 624.6 53.2 C600 54.2 585 55 566 55.3 C545 56 530 56.2 524.8 56.2 C510 56.3 495 56.3 483.2 56.2 C477 55.5 474.5 52 474.6 45 Z" fill="#666" stroke="#2e2e2e" stroke-width="1.2" filter="url(#soft)"/>
<path d="M475.2 47 C475.5 41 482 39.3 492 39.3 C500 39.3 505 39.8 508 41 C510 46 510 52 507 56.2 C498 56.5 488 56.4 483 56.2 C477 55.5 475 52 475.2 47 Z" fill="#2c2c2c" filter="url(#soft)"/>
<path d="M538 40 C550 39.6 565 39 578 38.2 C585 37.5 590 35.5 596 34.5 L599 36 C599 45 598 52 597 54.2 C580 55 560 55.6 538 56.1 Z" fill="#454545" filter="url(#soft2)"/>
<g fill="#2e2e2e" filter="url(#soft)"><ellipse cx="522" cy="53" rx="5" ry="2.4"/><ellipse cx="511.5" cy="52.5" rx="3" ry="2"/><ellipse cx="493" cy="49" rx="4" ry="3"/><ellipse cx="530" cy="53.5" rx="3" ry="1.8"/><ellipse cx="605" cy="48" rx="3" ry="2.5"/><ellipse cx="615" cy="50" rx="3" ry="2"/></g>
<g fill="#7a7a7a" filter="url(#soft2)"><ellipse cx="520" cy="45" rx="6" ry="3"/><ellipse cx="612" cy="41" rx="6" ry="3"/><ellipse cx="560" cy="47" rx="4" ry="3"/></g>
<clipPath id="ccclip"><path d="M474.6 45 C475.5 39.5 484 38 504 37.4 C520 38.5 530 39.5 537 39.5 C555 39.5 565 39 575 38.3 C585 37 590 34.5 596 34.1 C602 33.8 606 34.5 610 35.5 C618 37.5 626 42 631 47.8 C633 51 630 53 624.6 53.2 C600 54.2 585 55 566 55.3 C545 56 530 56.2 524.8 56.2 C510 56.3 495 56.3 483.2 56.2 C477 55.5 474.5 52 474.6 45 Z"/></clipPath>
<g clip-path="url(#ccclip)"><rect x="470" y="30" width="165" height="30" filter="url(#grainw)" opacity="0.2"/><rect x="470" y="30" width="165" height="30" filter="url(#grain)" opacity="0.15"/></g>
<g fill="#6f6f6f" filter="url(#soft)"><ellipse cx="436.8" cy="25.2" rx="2" ry="3"/><ellipse cx="474.6" cy="25.7" rx="2.5" ry="2"/><ellipse cx="445" cy="28.6" rx="2.5" ry="2"/><ellipse cx="486" cy="29.8" rx="2" ry="2"/><ellipse cx="439.3" cy="37.4" rx="2.5" ry="2"/><ellipse cx="544.5" cy="93" rx="4" ry="4.7"/><ellipse cx="632" cy="112" rx="4.8" ry="4.5"/><ellipse cx="640.3" cy="119.2" rx="3.2" ry="3.8"/><ellipse cx="435" cy="105" rx="2.9" ry="5.1"/><ellipse cx="470.4" cy="136.8" rx="4" ry="1.5"/><ellipse cx="530" cy="85" rx="4" ry="3"/><ellipse cx="617.5" cy="82.5" rx="2.5" ry="2"/><ellipse cx="676" cy="40" rx="5" ry="2.5"/></g>
<g fill="#151515" filter="url(#soft)"><ellipse cx="427.6" cy="18" rx="3.3" ry="1.8"/><ellipse cx="440.8" cy="18.5" rx="2.5" ry="1.8"/><ellipse cx="448.3" cy="18" rx="3.3" ry="1.4"/><ellipse cx="462.2" cy="18.5" rx="4.6" ry="1.8"/><ellipse cx="472.6" cy="18" rx="3.6" ry="1.4"/><ellipse cx="427.6" cy="24.2" rx="2" ry="3.1"/><ellipse cx="441.2" cy="24.2" rx="2.3" ry="2.5"/><ellipse cx="447.8" cy="24.2" rx="2.8" ry="2.5"/><ellipse cx="465.5" cy="24.2" rx="3.6" ry="3.1"/><ellipse cx="482.6" cy="24.2" rx="4.1" ry="4.1"/><ellipse cx="489.2" cy="24.4" rx="2.2" ry="2.6"/><ellipse cx="432.5" cy="27.3" rx="1.8" ry="1.8"/><ellipse cx="449.6" cy="29.2" rx="4.6" ry="2.3"/><ellipse cx="459.2" cy="29.7" rx="3.6" ry="3.6"/><ellipse cx="466.2" cy="32.1" rx="3.8" ry="4.6"/><ellipse cx="474.2" cy="33.8" rx="3.3" ry="3.3"/><ellipse cx="481.6" cy="33.7" rx="3.3" ry="2.8"/><ellipse cx="429.8" cy="32.3" rx="4.3" ry="3" transform="rotate(10 429.8 32.3)"/><ellipse cx="438.8" cy="32.6" rx="4.3" ry="2.3" transform="rotate(20 438.8 32.6)"/><ellipse cx="451.4" cy="35.2" rx="4" ry="2.8" transform="rotate(-50 451.4 35.2)"/><ellipse cx="458.4" cy="37.3" rx="3.3" ry="1.8"/><ellipse cx="429.6" cy="37.9" rx="2.5" ry="2.5"/><ellipse cx="434.2" cy="37.9" rx="2" ry="2"/><ellipse cx="494.7" cy="26" rx="2.9" ry="4.3"/><ellipse cx="501.4" cy="26" rx="3.8" ry="4.3"/><ellipse cx="508.2" cy="27" rx="2.9" ry="3.3"/><ellipse cx="512.9" cy="27" rx="1.9" ry="3.3"/><ellipse cx="520.5" cy="28.4" rx="5.7" ry="3.8"/><ellipse cx="510" cy="20.8" rx="3.8" ry="2.9"/><ellipse cx="523.5" cy="21.2" rx="4.8" ry="2.4"/><ellipse cx="531.6" cy="24.6" rx="3.3" ry="2.9"/><ellipse cx="540.6" cy="23.6" rx="3.8" ry="2.9"/><ellipse cx="549.7" cy="22.7" rx="5.3" ry="4.8"/><ellipse cx="527.8" cy="33.2" rx="3.3" ry="2.9"/><ellipse cx="520" cy="36.1" rx="3.3" ry="1.9"/><ellipse cx="492" cy="18" rx="3.5" ry="1.5"/><ellipse cx="535" cy="18" rx="4" ry="1.5"/><ellipse cx="558.8" cy="22.8" rx="2.9" ry="4.8"/><ellipse cx="568.3" cy="19.8" rx="4.8" ry="1.9"/><ellipse cx="574.6" cy="24.6" rx="2.4" ry="1.9"/><ellipse cx="581.7" cy="24.2" rx="3.8" ry="3.3"/><ellipse cx="589.4" cy="22.2" rx="2.9" ry="2.4"/><ellipse cx="596.5" cy="24.6" rx="4.3" ry="3.8"/><ellipse cx="604.7" cy="25.1" rx="3.8" ry="2.4"/><ellipse cx="613.3" cy="24.2" rx="3.8" ry="3.3"/><ellipse cx="620" cy="23.6" rx="3.8" ry="3.8"/><ellipse cx="630" cy="24.6" rx="5.3" ry="4.8"/><ellipse cx="639.1" cy="24.1" rx="2.9" ry="4.3"/><ellipse cx="643.4" cy="19.5" rx="2" ry="1.6"/><ellipse cx="651" cy="23.7" rx="5.3" ry="4.8"/><ellipse cx="660.6" cy="24.6" rx="3.3" ry="2.9"/><ellipse cx="669.2" cy="23.6" rx="4.3" ry="3.8"/><ellipse cx="679.7" cy="26" rx="5.3" ry="4.3"/><ellipse cx="562.6" cy="17.2" rx="6" ry="1.5"/><ellipse cx="600" cy="17.5" rx="6" ry="1.6"/><ellipse cx="622" cy="17.5" rx="5" ry="1.5"/><ellipse cx="665" cy="17.5" rx="7" ry="1.6"/><ellipse cx="557.3" cy="33.6" rx="3.3" ry="3.3"/><ellipse cx="565" cy="32.2" rx="3.3" ry="2.9"/><ellipse cx="571.6" cy="31.8" rx="3.3" ry="3.3"/><ellipse cx="577.9" cy="34.7" rx="2.9" ry="3.3"/><ellipse cx="585.1" cy="32.7" rx="2.4" ry="2.4"/><ellipse cx="591.7" cy="32.2" rx="3.3" ry="2.9"/><ellipse cx="653.5" cy="31.8" rx="4.8" ry="4.3"/><ellipse cx="667.3" cy="38" rx="4.3" ry="4.8"/><ellipse cx="675.5" cy="33.2" rx="2.9" ry="2.9"/><ellipse cx="663.9" cy="30.3" rx="2.5" ry="2.5"/><ellipse cx="643.8" cy="39" rx="7.5" ry="3.5" transform="rotate(30 643.8 39)"/><ellipse cx="657.3" cy="40.8" rx="5.7" ry="3.8"/><ellipse cx="682" cy="35" rx="3" ry="3"/></g>
<g fill="#151515" filter="url(#soft)"><ellipse cx="439" cy="89" rx="11.3" ry="10.2"/><ellipse cx="427.3" cy="101.4" rx="3.3" ry="5.8"/><ellipse cx="442.2" cy="109" rx="3.6" ry="8" transform="rotate(-20 442.2 109)"/><ellipse cx="424.5" cy="112" rx="1.8" ry="3.5"/><ellipse cx="439.7" cy="116" rx="3.3" ry="3.6"/><ellipse cx="439.3" cy="123.7" rx="4.4" ry="3.3"/><ellipse cx="449.9" cy="128.4" rx="6.2" ry="7.3"/><ellipse cx="459.8" cy="131" rx="5.8" ry="4.7" transform="rotate(-30 459.8 131)"/><ellipse cx="467.8" cy="115.6" rx="5.1" ry="4.7"/><ellipse cx="467" cy="124" rx="4.4" ry="2.9"/><ellipse cx="478.4" cy="107.3" rx="5.5" ry="6.6" transform="rotate(-30 478.4 107.3)"/><ellipse cx="477.3" cy="118.5" rx="4.4" ry="4.7" transform="rotate(30 477.3 118.5)"/><ellipse cx="484.6" cy="124" rx="4.4" ry="4.4"/><ellipse cx="494.5" cy="87.9" rx="10.6" ry="3.3"/><ellipse cx="499.6" cy="81" rx="7" ry="3"/><ellipse cx="497.4" cy="101" rx="4.7" ry="4.7"/><ellipse cx="497" cy="112.3" rx="2.9" ry="2.9"/><ellipse cx="493.7" cy="119.3" rx="3.3" ry="4.7"/><ellipse cx="487.1" cy="130.2" rx="1.8" ry="1.8"/><ellipse cx="490.4" cy="136.8" rx="5.1" ry="3.3"/><ellipse cx="499.2" cy="137.5" rx="2.2" ry="2.6"/><ellipse cx="507.2" cy="141.2" rx="2.2" ry="1.8"/><ellipse cx="512.4" cy="91.5" rx="3.6" ry="7.6" transform="rotate(-10 512.4 91.5)"/><ellipse cx="516" cy="105" rx="2.9" ry="4.4"/><ellipse cx="519" cy="79.5" rx="1.5" ry="1.5"/><ellipse cx="520.4" cy="135.3" rx="2.9" ry="2.6"/><ellipse cx="426.9" cy="136.4" rx="2.9" ry="3.6"/><ellipse cx="434.2" cy="136.8" rx="3.6" ry="4.1"/><ellipse cx="445.9" cy="140.5" rx="2.9" ry="3.3"/><ellipse cx="432" cy="147.3" rx="3.6" ry="3.6"/><ellipse cx="593" cy="76.6" rx="6.6" ry="5.8"/><ellipse cx="577" cy="90.4" rx="6.6" ry="6.6"/><ellipse cx="598.8" cy="89" rx="4" ry="7.5" transform="rotate(40 598.8 89)"/><ellipse cx="613.5" cy="92.3" rx="5.8" ry="6.2"/><ellipse cx="617.8" cy="76.5" rx="2.2" ry="3.2"/><ellipse cx="607.5" cy="85.3" rx="2.2" ry="2.2"/><ellipse cx="550.7" cy="102.5" rx="4.4" ry="5.5"/><ellipse cx="557.2" cy="108" rx="3.6" ry="4.4"/><ellipse cx="567" cy="105.8" rx="4.4" ry="6.6" transform="rotate(30 567 105.8)"/><ellipse cx="559.8" cy="100.3" rx="4" ry="2.6"/><ellipse cx="558.3" cy="113.8" rx="4" ry="2.9"/><ellipse cx="560.9" cy="91.9" rx="3.6" ry="4.4"/><ellipse cx="566" cy="88.7" rx="2.9" ry="4.7"/><ellipse cx="562.7" cy="81.3" rx="3.3" ry="3.3"/><ellipse cx="548.8" cy="83.1" rx="2.6" ry="2.9"/><ellipse cx="576.2" cy="80.2" rx="1.8" ry="1.8"/><ellipse cx="569" cy="76" rx="1.6" ry="1.6"/><ellipse cx="581" cy="101" rx="4" ry="3.3"/><ellipse cx="582.4" cy="106.4" rx="4.7" ry="3.6"/><ellipse cx="580.2" cy="116.7" rx="6.2" ry="4.4"/><ellipse cx="589.3" cy="97.8" rx="2.9" ry="2.9"/><ellipse cx="600.7" cy="99.2" rx="4.7" ry="5.1"/><ellipse cx="612.3" cy="106.9" rx="4.7" ry="4.7"/><ellipse cx="605.8" cy="122.5" rx="5.5" ry="5.1"/><ellipse cx="614.2" cy="124.3" rx="2.9" ry="4.7"/><ellipse cx="537.5" cy="111.3" rx="7.3" ry="3.3" transform="rotate(15 537.5 111.3)"/><ellipse cx="523.3" cy="96" rx="3.3" ry="3.3"/><ellipse cx="524" cy="102.8" rx="4" ry="3.6"/><ellipse cx="531.3" cy="91.1" rx="3.3" ry="2.9"/><ellipse cx="538" cy="91.5" rx="2" ry="2.5"/><ellipse cx="545.2" cy="139" rx="4" ry="4.7"/><ellipse cx="554.3" cy="136.4" rx="2.9" ry="3.6"/><ellipse cx="562.3" cy="142.6" rx="3.6" ry="4"/><ellipse cx="570.5" cy="147.8" rx="1.8" ry="1.8"/><ellipse cx="591.2" cy="136.1" rx="2.6" ry="3.3"/><ellipse cx="604.7" cy="140.5" rx="3.6" ry="4"/><ellipse cx="521" cy="135" rx="1.5" ry="2"/><ellipse cx="620.3" cy="76" rx="5.1" ry="3.5" transform="rotate(-20 620.3 76)"/><ellipse cx="612.3" cy="82.4" rx="2.2" ry="1.6"/><ellipse cx="629.8" cy="93.2" rx="5.1" ry="2.9"/><ellipse cx="640.3" cy="88.5" rx="4.1" ry="3.2"/><ellipse cx="645.3" cy="83.4" rx="2.9" ry="1.9"/><ellipse cx="665.1" cy="88.7" rx="2.9" ry="2.9"/><ellipse cx="670.2" cy="80.8" rx="3.5" ry="1.9"/><ellipse cx="680" cy="80.8" rx="5.3" ry="3.2"/><ellipse cx="675" cy="91.6" rx="3.8" ry="5.1" transform="rotate(-20 675 91.6)"/><ellipse cx="680.7" cy="100.5" rx="3.2" ry="3.8"/><ellipse cx="683" cy="109.4" rx="2.5" ry="3.8"/><ellipse cx="683" cy="115" rx="2.5" ry="3.5"/><ellipse cx="640" cy="96" rx="3.2" ry="4.4"/><ellipse cx="646" cy="93.5" rx="2.8" ry="3.8"/><ellipse cx="650.8" cy="96.4" rx="2.5" ry="4.1"/><ellipse cx="661.6" cy="97" rx="3.8" ry="4.1"/><ellipse cx="671" cy="93.5" rx="3" ry="3"/><ellipse cx="672.7" cy="104.3" rx="3.5" ry="3.8"/><ellipse cx="629.2" cy="99" rx="3.2" ry="2.2"/><ellipse cx="634.8" cy="101.8" rx="4.4" ry="3.2"/><ellipse cx="627.5" cy="103.4" rx="2.9" ry="2.9"/><ellipse cx="612.3" cy="106.9" rx="4.8" ry="4.5"/><ellipse cx="620.6" cy="108.8" rx="3.5" ry="3.2"/><ellipse cx="621.5" cy="113.6" rx="3.2" ry="2.9"/><ellipse cx="645" cy="113.3" rx="3.2" ry="2.5"/><ellipse cx="657.8" cy="109.4" rx="3.2" ry="2.5"/><ellipse cx="667" cy="110" rx="3.5" ry="2.5"/><ellipse cx="653.7" cy="122.1" rx="4.8" ry="5.1"/><ellipse cx="666" cy="122.4" rx="5.1" ry="5.4"/><ellipse cx="607.5" cy="122.4" rx="2.8" ry="4.7"/><ellipse cx="613.9" cy="124.7" rx="3.2" ry="4.5"/><ellipse cx="636.2" cy="131.4" rx="7" ry="5.4" transform="rotate(25 636.2 131.4)"/><ellipse cx="648.9" cy="136.7" rx="2.5" ry="2.5"/><ellipse cx="647" cy="140" rx="1.5" ry="1.5"/><ellipse cx="674.3" cy="138.3" rx="3.8" ry="4.1"/><ellipse cx="680.6" cy="135.5" rx="2.5" ry="2.5"/><ellipse cx="683.5" cy="149.5" rx="2" ry="3.2"/><ellipse cx="606.6" cy="140.3" rx="1.8" ry="3.5"/><ellipse cx="625.5" cy="143.6" rx="1" ry="1.6"/></g>
<circle cx="457.6" cy="99.9" r="10.2" fill="#555" filter="url(#soft)"/>
<circle cx="457.3" cy="99.4" r="8.8" fill="#1e1e1e" filter="url(#soft)"/>
<g fill="#f4f4f4" filter="url(#soft)"><ellipse cx="456.5" cy="118.5" rx="2.3" ry="2.8"/><ellipse cx="653" cy="89" rx="2.7" ry="3"/><ellipse cx="503" cy="33" rx="3" ry="2"/></g>
<ellipse cx="534.5" cy="152.2" rx="5.2" ry="4.3" fill="#f6f6f6" filter="url(#soft)"/><ellipse cx="534" cy="153.2" rx="1.8" ry="1.5" fill="#9a9a9a" filter="url(#soft)"/>
<path d="M515 128 C525 125 535 131 545 127 C552 124 558 128 565 126" fill="none" stroke="#8a8a8a" stroke-width="1.2" filter="url(#soft)"/>
<g fill="#222" filter="url(#soft)"><ellipse cx="430" cy="17.8" rx="6.5" ry="1.9"/><ellipse cx="441.7" cy="17.8" rx="3.2" ry="1.7"/><ellipse cx="451.2" cy="17.8" rx="4.8" ry="1.8"/><ellipse cx="464.5" cy="17.8" rx="7.2" ry="1.9"/><ellipse cx="482.5" cy="17.8" rx="5.5" ry="1.7"/><ellipse cx="502.7" cy="17.8" rx="4.7" ry="1.8"/><ellipse cx="520" cy="17.8" rx="6" ry="1.8"/><ellipse cx="537" cy="17.8" rx="5" ry="1.7"/><ellipse cx="548" cy="18" rx="4" ry="1.8"/><ellipse cx="567.4" cy="19.1" rx="5.7" ry="2.4"/><ellipse cx="575.5" cy="19.5" rx="3" ry="2.2"/><ellipse cx="586" cy="18.6" rx="2.5" ry="1.8"/><ellipse cx="604" cy="18.5" rx="4" ry="1.8"/><ellipse cx="618" cy="18.5" rx="5" ry="2"/><ellipse cx="641.5" cy="18.6" rx="2.5" ry="2"/><ellipse cx="652" cy="18.6" rx="4" ry="2"/><ellipse cx="662" cy="18.6" rx="4" ry="2.2"/><ellipse cx="672" cy="18.8" rx="4.5" ry="2.3"/><ellipse cx="681" cy="18.8" rx="4" ry="2.2"/></g>
<text x="541.6" y="52.2" font-size="16.5" fill="#fff" text-anchor="start" font-weight="bold" >CC</text>
<text x="640.2" y="110.7" font-size="16" fill="#fff" text-anchor="start" font-weight="bold" >RPE</text>
<text x="640.2" y="152.7" font-size="15.5" fill="#fff" text-anchor="start" font-weight="bold" >OS</text>
</g>
<g clip-path="url(#c2clip)">
<rect x="424.3" y="163.3" width="260.7" height="138.2" fill="#bdbdbd"/>
<path d="M424 163 L685 163 L685 183 L660 184 L640 178 L620 174 L600 172.5 L570 170 L530 172.5 L500 175 L470 177 L424 178 Z" fill="#c4c4c4"/>
<rect x="424.3" y="163.3" width="260.7" height="138.2" filter="url(#grain2)" opacity="0.13"/>
<rect x="424.3" y="163.3" width="260.7" height="138.2" filter="url(#grain2w)" opacity="0.26"/>
<path d="M424 178 L470 177 L500 175 L530 172.5 L570 170 L600 172.5 L620 174 L640 178 L660 184 L685 183 L685 200 L640 202 L600 205 L560 208.5 L530 211 L480 214.5 L424 218 Z" fill="#9c9c9c" opacity="0.78"/>
<path d="M424 177 L470 176 L500 174 L530 172 L570 170 L600 172 L620 175 L640 180 L660 186 L685 187 L685 190 L660 190 L640 184 L620 178 L600 176 L570 174 L530 176 L500 178 L470 180 L424 181 Z" fill="#cdcdcd" opacity="0.8" filter="url(#soft)"/>
<path d="M424 215 L480 211.5 L530 208 L560 205.5 L600 202 L640 199 L685 197 L685 206 L640 206 L600 209 L560 212.5 L530 215 L480 218.5 L424 222 Z" fill="#a8a8a8" opacity="0.6" filter="url(#soft)"/>
<path d="M424 222 L480 218.5 L530 215 L560 212.5 L600 209 L640 206 L685 206 L685 234 L424 234 Z" fill="#cacaca" opacity="0.45" filter="url(#soft2)"/>
<path d="M451 182 C449 190 449 205 451 214" fill="none" stroke="#c8c8c8" stroke-width="0.7"/>
<path d="M489 185 C492 192 492 200 488 208" fill="none" stroke="#b0b0b0" stroke-width="0.6"/>
<g fill="#f0f0f0" filter="url(#soft)"><ellipse cx="492.5" cy="201" rx="2.2" ry="2.8"/><ellipse cx="493.5" cy="207" rx="2" ry="1.8"/></g>
<g fill="#9a9a9a" filter="url(#soft)"><ellipse cx="453.2" cy="234.7" rx="6.4" ry="5" transform="rotate(-20 453.2 234.7)"/><ellipse cx="484" cy="238.7" rx="4.5" ry="5"/><ellipse cx="434.5" cy="238.2" rx="4.4" ry="3.5"/><ellipse cx="494.5" cy="235.3" rx="4" ry="3.5"/><ellipse cx="536" cy="228.8" rx="4" ry="4"/><ellipse cx="547.5" cy="227.3" rx="4.5" ry="3.5"/><ellipse cx="525" cy="226" rx="3" ry="2.5"/><ellipse cx="572.2" cy="226.5" rx="4" ry="3.6"/><ellipse cx="600" cy="227" rx="3.5" ry="3"/><ellipse cx="593" cy="232" rx="3.5" ry="3"/><ellipse cx="455.4" cy="246.6" rx="2.6" ry="3.3"/><ellipse cx="528.4" cy="252.8" rx="5.5" ry="4.4"/><ellipse cx="432" cy="186" rx="2" ry="1.5"/></g>
<g fill="#6a6a6a" filter="url(#soft)"><ellipse cx="505.8" cy="235.7" rx="3.5" ry="3"/><ellipse cx="504.3" cy="246.3" rx="4.4" ry="4.4"/><ellipse cx="564.9" cy="274" rx="3.3" ry="4.4"/><ellipse cx="635" cy="232" rx="2" ry="3.5"/></g>
<g fill="#151515" filter="url(#soft)"><ellipse cx="429" cy="165" rx="4" ry="1.8"/><ellipse cx="438" cy="165" rx="3" ry="1.6"/><ellipse cx="427.7" cy="172.7" rx="3" ry="3.3"/><ellipse cx="433.5" cy="170.6" rx="2.9" ry="2.6"/><ellipse cx="431" cy="176" rx="2.6" ry="2.2"/><ellipse cx="435.7" cy="176" rx="2" ry="2"/><ellipse cx="444.5" cy="170.2" rx="2.9" ry="4.4"/><ellipse cx="454.6" cy="170.9" rx="2" ry="2"/><ellipse cx="461.6" cy="173.9" rx="6.2" ry="2.9"/><ellipse cx="461.2" cy="167" rx="2.9" ry="2.6"/><ellipse cx="467.1" cy="166.6" rx="2" ry="2"/><ellipse cx="473" cy="169.8" rx="3.6" ry="6.2"/><ellipse cx="480.6" cy="173.1" rx="3.3" ry="2.9"/><ellipse cx="482" cy="166" rx="3.3" ry="2.4"/><ellipse cx="488.2" cy="171.3" rx="3.6" ry="3.3"/><ellipse cx="495.2" cy="172" rx="4" ry="3" transform="rotate(-45 495.2 172)"/><ellipse cx="501.4" cy="169" rx="3.5" ry="3" transform="rotate(-40 501.4 169)"/><ellipse cx="495" cy="165" rx="3.5" ry="1.8"/><ellipse cx="516" cy="169.1" rx="4.4" ry="3.3"/><ellipse cx="507" cy="166" rx="3" ry="2"/><ellipse cx="517.5" cy="170.5" rx="2.5" ry="3.5"/><ellipse cx="529.5" cy="169.2" rx="4.6" ry="3.3"/><ellipse cx="539.3" cy="167.6" rx="3.3" ry="3"/><ellipse cx="549.5" cy="167.6" rx="5.6" ry="3"/><ellipse cx="561.6" cy="165.9" rx="5.9" ry="2.6"/><ellipse cx="571.8" cy="166.2" rx="3.6" ry="3"/><ellipse cx="580.4" cy="167" rx="4.3" ry="3"/><ellipse cx="622.5" cy="165.5" rx="3.5" ry="2"/><ellipse cx="641.3" cy="168.5" rx="2" ry="2"/><ellipse cx="601.5" cy="168.4" rx="1.8" ry="1.8"/><ellipse cx="614.6" cy="167.1" rx="3.4" ry="2.8"/><ellipse cx="621.7" cy="165.6" rx="2.5" ry="1.9"/><ellipse cx="633.5" cy="171.8" rx="3.5" ry="5.5" transform="rotate(-30 633.5 171.8)"/><ellipse cx="654" cy="167.5" rx="3.7" ry="2.5"/><ellipse cx="656.7" cy="174.6" rx="5.3" ry="3.7" transform="rotate(-20 656.7 174.6)"/><ellipse cx="664.5" cy="177.7" rx="5.6" ry="4.7"/><ellipse cx="675.4" cy="165.2" rx="2.8" ry="1.6"/><ellipse cx="681.9" cy="167.1" rx="3.1" ry="2.8"/><ellipse cx="647" cy="170.5" rx="2" ry="1.6"/><ellipse cx="429.8" cy="243.7" rx="4.4" ry="4.7"/><ellipse cx="452.1" cy="260.9" rx="6.9" ry="7.3" transform="rotate(30 452.1 260.9)"/><ellipse cx="442.6" cy="270.8" rx="3.3" ry="5.5" transform="rotate(15 442.6 270.8)"/><ellipse cx="431.3" cy="270.7" rx="3.6" ry="1.8"/><ellipse cx="430.6" cy="277" rx="4.4" ry="3.6"/><ellipse cx="455.4" cy="278" rx="4.4" ry="5.5"/><ellipse cx="464.1" cy="277.7" rx="2.9" ry="4.4"/><ellipse cx="471.1" cy="277.3" rx="3.3" ry="4"/><ellipse cx="439.7" cy="286.8" rx="4" ry="5.5" transform="rotate(15 439.7 286.8)"/><ellipse cx="443.7" cy="293.3" rx="3.6" ry="3.3"/><ellipse cx="466" cy="263.1" rx="3.3" ry="5.1"/><ellipse cx="471.1" cy="259" rx="3.3" ry="4"/><ellipse cx="472.2" cy="252.5" rx="2" ry="2.5"/><ellipse cx="478.8" cy="251" rx="2.9" ry="3.3"/><ellipse cx="483.8" cy="250" rx="2" ry="2.8"/><ellipse cx="481" cy="261.6" rx="13" ry="2.2" transform="rotate(-58 481 261.6)"/><ellipse cx="489.3" cy="260.1" rx="3.3" ry="3.6"/><ellipse cx="489.7" cy="266" rx="2.9" ry="2.9"/><ellipse cx="490.4" cy="249.9" rx="2" ry="2"/><ellipse cx="497" cy="250.6" rx="2.2" ry="2.2"/><ellipse cx="498.9" cy="270.8" rx="2.6" ry="5.5"/><ellipse cx="501.8" cy="282.4" rx="4.7" ry="4.2" transform="rotate(45 501.8 282.4)"/><ellipse cx="480.6" cy="283.6" rx="4" ry="3.6"/><ellipse cx="483.1" cy="287.9" rx="3.6" ry="2.2"/><ellipse cx="487.8" cy="291.6" rx="4.7" ry="3.6"/><ellipse cx="508.3" cy="255" rx="3.3" ry="2.2"/><ellipse cx="507.8" cy="261.6" rx="2.6" ry="2.9"/><ellipse cx="508.7" cy="268.5" rx="2.9" ry="4"/><ellipse cx="516" cy="256.8" rx="4.4" ry="4"/><ellipse cx="517.8" cy="269.3" rx="5.5" ry="6.9"/><ellipse cx="513" cy="280.6" rx="4.4" ry="2.9"/><ellipse cx="511" cy="286" rx="2.6" ry="2.6"/><ellipse cx="514.8" cy="237.2" rx="1.6" ry="8" transform="rotate(-25 514.8 237.2)"/><ellipse cx="518" cy="246.3" rx="8" ry="2.3" transform="rotate(-20 518 246.3)"/><ellipse cx="425" cy="250" rx="1.5" ry="1.5"/><ellipse cx="425" cy="272" rx="1.5" ry="4"/><ellipse cx="523.3" cy="245.5" rx="3.6" ry="3.6"/><ellipse cx="531.3" cy="245" rx="2.6" ry="1.8"/><ellipse cx="536.4" cy="249.5" rx="2.6" ry="2.6"/><ellipse cx="535.3" cy="254.8" rx="2.2" ry="2.2"/><ellipse cx="543.4" cy="232.7" rx="2.9" ry="3.3"/><ellipse cx="541.5" cy="238.2" rx="2.6" ry="2.2"/><ellipse cx="542.3" cy="246.3" rx="2.7" ry="5.8" transform="rotate(12 542.3 246.3)"/><ellipse cx="547.6" cy="250.2" rx="2.5" ry="5.8" transform="rotate(22 547.6 250.2)"/><ellipse cx="541.5" cy="261.2" rx="1.8" ry="2.2"/><ellipse cx="536" cy="267.1" rx="4.4" ry="6.2" transform="rotate(10 536 267.1)"/><ellipse cx="521.5" cy="268" rx="1.8" ry="5"/><ellipse cx="545.5" cy="272.9" rx="10.5" ry="3.2" transform="rotate(-50 545.5 272.9)"/><ellipse cx="556.1" cy="279.2" rx="3.3" ry="3.6"/><ellipse cx="562.3" cy="244.9" rx="2.9" ry="3.6"/><ellipse cx="564.5" cy="240.4" rx="2.9" ry="2.9"/><ellipse cx="568.9" cy="243.4" rx="2.2" ry="5.8"/><ellipse cx="575.5" cy="241.2" rx="3.6" ry="4.4"/><ellipse cx="561.8" cy="254.2" rx="6" ry="3" transform="rotate(22 561.8 254.2)"/><ellipse cx="562.9" cy="261.2" rx="5.6" ry="3" transform="rotate(22 562.9 261.2)"/><ellipse cx="579.1" cy="254.3" rx="2.2" ry="2.2"/><ellipse cx="583.5" cy="245.9" rx="2.2" ry="3.3"/><ellipse cx="592.3" cy="242.3" rx="2.9" ry="2.6"/><ellipse cx="579.1" cy="269.3" rx="3.6" ry="4"/><ellipse cx="588.2" cy="272.9" rx="4" ry="5.5"/><ellipse cx="590.8" cy="260.2" rx="4.4" ry="5.8" transform="rotate(-15 590.8 260.2)"/><ellipse cx="598.8" cy="254" rx="4.4" ry="6.9"/><ellipse cx="597.4" cy="269.3" rx="2.9" ry="4"/><ellipse cx="600.7" cy="237.5" rx="5.5" ry="5.8"/><ellipse cx="610.5" cy="243.7" rx="3.6" ry="4.7" transform="rotate(-20 610.5 243.7)"/><ellipse cx="613" cy="271.1" rx="7" ry="8"/><ellipse cx="610.9" cy="283.9" rx="4" ry="3.3"/><ellipse cx="574.4" cy="293" rx="4" ry="2.9"/><ellipse cx="619.5" cy="232" rx="1.2" ry="6"/><ellipse cx="619.8" cy="232.4" rx="2.4" ry="10.3" transform="rotate(-5 619.8 232.4)"/><ellipse cx="625.3" cy="233" rx="3.3" ry="9" transform="rotate(-10 625.3 233)"/><ellipse cx="610.5" cy="243.3" rx="3.5" ry="5.2" transform="rotate(20 610.5 243.3)"/><ellipse cx="657.8" cy="230.8" rx="7.1" ry="5.5"/><ellipse cx="671.6" cy="226" rx="11" ry="3.2" transform="rotate(15 671.6 226)"/><ellipse cx="675" cy="246" rx="3.3" ry="12" transform="rotate(15 675 246)"/><ellipse cx="674" cy="251" rx="4" ry="8" transform="rotate(25 674 251)"/><ellipse cx="663" cy="249.8" rx="3.2" ry="2.6"/><ellipse cx="667" cy="253" rx="2" ry="2"/><ellipse cx="654" cy="260.8" rx="3.2" ry="3.9"/><ellipse cx="653.6" cy="276.5" rx="18" ry="2.8" transform="rotate(-57 653.6 276.5)"/><ellipse cx="667.1" cy="270.8" rx="4.2" ry="6.8"/><ellipse cx="676.5" cy="265.2" rx="5.8" ry="5.8" transform="rotate(-20 676.5 265.2)"/><ellipse cx="660.4" cy="278.1" rx="2.6" ry="2.6"/><ellipse cx="667.2" cy="286.2" rx="2.9" ry="2.9"/><ellipse cx="680.7" cy="279.4" rx="2.2" ry="2.6"/><ellipse cx="613.7" cy="271" rx="7.4" ry="7.7"/><ellipse cx="611.2" cy="283.6" rx="4.2" ry="3.6"/><ellipse cx="634.3" cy="259.8" rx="2.9" ry="3.6"/><ellipse cx="629.3" cy="264.8" rx="1.8" ry="1.8"/><ellipse cx="633.4" cy="265.7" rx="1.8" ry="2.2"/><ellipse cx="633.6" cy="273.9" rx="2.6" ry="2.6"/><ellipse cx="630.2" cy="278.1" rx="3.9" ry="2.6"/><ellipse cx="636.5" cy="281.7" rx="2.6" ry="2.9"/><ellipse cx="641.3" cy="277.5" rx="2" ry="2"/><ellipse cx="621.9" cy="225.7" rx="4.6" ry="4.3"/><ellipse cx="657" cy="227" rx="5" ry="3"/><ellipse cx="684" cy="236" rx="2" ry="5"/><ellipse cx="684" cy="262" rx="2" ry="4"/></g>
<g fill="#f2f2f2" filter="url(#soft)"><ellipse cx="493" cy="234.5" rx="2.5" ry="2.8"/><ellipse cx="574.3" cy="233.1" rx="2.5" ry="2.2"/><ellipse cx="521" cy="236.8" rx="2.5" ry="2.8"/><ellipse cx="605.6" cy="166.8" rx="2.3" ry="2.3"/><ellipse cx="520" cy="231" rx="1.5" ry="1.5"/></g>
<rect x="454.7" y="293" width="26.2" height="2.9" fill="#111"/>
<path d="M0 0 L-5.2 -9.5 L0 -6 L5.2 -9.5 Z" fill="#ee1d25" transform="translate(455.8 180.8) rotate(-48) scale(1.12)"/>
<path d="M0 0 L-5.2 -9.5 L0 -6 L5.2 -9.5 Z" fill="#ee1d25" transform="translate(522.2 176.4) rotate(0) scale(1.12)"/>
<path d="M0 0 L-5.2 -9.5 L0 -6 L5.2 -9.5 Z" fill="#ee1d25" transform="translate(586.5 173.3) rotate(55) scale(1.12)"/>
<path d="M0 0 L-5.2 -9.5 L0 -6 L5.2 -9.5 Z" fill="#ee1d25" transform="translate(643.7 179.6) rotate(0) scale(1.12)"/>
<path d="M0 0 L-5.2 -9.5 L0 -6 L5.2 -9.5 Z" fill="#ee1d25" transform="translate(458.7 217.0) rotate(180) scale(1.12)"/>
<path d="M0 0 L-5.2 -9.5 L0 -6 L5.2 -9.5 Z" fill="#ee1d25" transform="translate(530.8 208.6) rotate(180) scale(1.12)"/>
<path d="M0 0 L-5.2 -9.5 L0 -6 L5.2 -9.5 Z" fill="#ee1d25" transform="translate(592.5 202.7) rotate(180) scale(1.12)"/>
<path d="M0 0 L-5.2 -9.5 L0 -6 L5.2 -9.5 Z" fill="#ee1d25" transform="translate(638.2 201.0) rotate(180) scale(1.12)"/>
<text x="640.2" y="248.0" font-size="16" fill="#fff" text-anchor="start" font-weight="bold" >RPE</text>
<text x="640.2" y="298.2" font-size="15.5" fill="#fff" text-anchor="start" font-weight="bold" >OS</text>
</g>
<text x="0" y="0" font-size="14" fill="#1a1a1a" text-anchor="middle" transform="translate(417.6 85.5) rotate(-90)"><tspan font-style="italic">Cib2</tspan><tspan font-size="8.5" dy="-4.8">+/+</tspan><tspan dy="4.8">; RPE-</tspan><tspan font-style="italic">Cre</tspan> +</text>
<text x="0" y="0" font-size="14" fill="#EE6A30" text-anchor="middle" transform="translate(417.6 232.3) rotate(-90)"><tspan font-style="italic">Cib2</tspan><tspan font-size="8.5" dy="-4.8" font-style="italic">FL/FL</tspan><tspan dy="4.8">; RPE-</tspan><tspan font-style="italic">Cre</tspan> +</text>
<text x="427.2" y="332.2" font-size="14" fill="#1a1a1a" text-anchor="start" ><tspan font-style="italic">Cib2</tspan><tspan font-size="8.5" dy="-4.8">+/+</tspan><tspan dy="4.8">; RPE-</tspan><tspan font-style="italic">Cre</tspan> +</text>
<text x="555.0" y="332.2" font-size="14" fill="#EE6A30" text-anchor="start" ><tspan font-style="italic">Cib2</tspan><tspan font-size="8.5" dy="-4.8" font-style="italic">FL/FL</tspan><tspan dy="4.8">; RPE-</tspan><tspan font-style="italic">Cre</tspan> +</text>
<text x="0" y="0" font-size="14" fill="#1a1a1a" text-anchor="middle" transform="translate(396.5 402.2) rotate(-90)">9-10 mths</text>
<text x="0" y="0" font-size="14" fill="#1a1a1a" text-anchor="middle" transform="translate(417.4 402.5) rotate(-90)">BODIPY-493/503</text>
<rect x="424.5" y="340.2" width="124.6" height="124.5" fill="#000"/>
<rect x="560" y="340.2" width="125" height="124.5" fill="#000"/>
<g><circle cx="509.8" cy="347.5" r="0.75" fill="#1fb5bb" opacity="0.85"/><circle cx="546.3" cy="360.8" r="0.75" fill="#1fb5bb" opacity="0.85"/><circle cx="546.6" cy="378.7" r="0.75" fill="#1fb5bb" opacity="0.85"/><circle cx="527.4" cy="444.7" r="0.75" fill="#1fb5bb" opacity="0.85"/><circle cx="521.7" cy="435.3" r="0.75" fill="#1fb5bb" opacity="0.85"/><circle cx="519.3" cy="391" r="0.75" fill="#1fb5bb" opacity="0.85"/><circle cx="514.6" cy="395.7" r="0.75" fill="#1fb5bb" opacity="0.85"/><circle cx="518.3" cy="412.6" r="0.75" fill="#1fb5bb" opacity="0.85"/><circle cx="522.1" cy="414.5" r="0.75" fill="#1fb5bb" opacity="0.85"/><circle cx="462.7" cy="390.6" r="0.75" fill="#1fb5bb" opacity="0.85"/><circle cx="486.6" cy="379.6" r="0.75" fill="#1fb5bb" opacity="0.85"/><circle cx="440.6" cy="383.8" r="0.75" fill="#1fb5bb" opacity="0.85"/><circle cx="432.5" cy="432.1" r="0.75" fill="#1fb5bb" opacity="0.85"/><circle cx="436.3" cy="418.3" r="0.75" fill="#1fb5bb" opacity="0.85"/><circle cx="468.9" cy="428.7" r="0.75" fill="#1fb5bb" opacity="0.85"/><circle cx="475.9" cy="411.7" r="0.75" fill="#1fb5bb" opacity="0.85"/><circle cx="463.6" cy="442.8" r="0.75" fill="#1fb5bb" opacity="0.85"/><circle cx="499.5" cy="448.5" r="0.75" fill="#1fb5bb" opacity="0.85"/><circle cx="451.4" cy="454.2" r="0.75" fill="#1fb5bb" opacity="0.85"/><circle cx="480.6" cy="364.5" r="0.75" fill="#1fb5bb" opacity="0.85"/><circle cx="514.6" cy="373.6" r="0.75" fill="#1fb5bb" opacity="0.85"/><circle cx="448.5" cy="374.5" r="0.75" fill="#1fb5bb" opacity="0.85"/><circle cx="536.8" cy="357.4" r="0.75" fill="#1fb5bb" opacity="0.85"/><circle cx="477.8" cy="400.8" r="0.75" fill="#1fb5bb" opacity="0.85"/><circle cx="487.2" cy="457.4" r="0.75" fill="#1fb5bb" opacity="0.85"/><circle cx="498.5" cy="421.1" r="0.75" fill="#1fb5bb" opacity="0.85"/><circle cx="522.1" cy="371.7" r="0.75" fill="#1fb5bb" opacity="0.85"/><circle cx="429.7" cy="438.5" r="0.75" fill="#1fb5bb" opacity="0.85"/><circle cx="527" cy="447" r="0.75" fill="#1fb5bb" opacity="0.85"/><circle cx="526.5" cy="442" r="0.75" fill="#1fb5bb" opacity="0.85"/><circle cx="504.0" cy="345.0" r="0.6" fill="#178f96" opacity="0.28"/><circle cx="453.2" cy="431.1" r="0.6" fill="#178f96" opacity="0.40"/><circle cx="534.8" cy="352.5" r="0.6" fill="#178f96" opacity="0.33"/><circle cx="429.6" cy="368.5" r="0.6" fill="#178f96" opacity="0.35"/><circle cx="429.2" cy="366.1" r="0.6" fill="#178f96" opacity="0.39"/><circle cx="492.5" cy="368.7" r="0.6" fill="#178f96" opacity="0.38"/><circle cx="524.8" cy="342.8" r="0.6" fill="#178f96" opacity="0.44"/><circle cx="511.2" cy="383.2" r="0.6" fill="#178f96" opacity="0.25"/><circle cx="542.8" cy="382.7" r="0.6" fill="#178f96" opacity="0.23"/><circle cx="437.8" cy="444.5" r="0.6" fill="#178f96" opacity="0.38"/><circle cx="524.5" cy="430.3" r="0.6" fill="#178f96" opacity="0.36"/><circle cx="544.7" cy="387.8" r="0.6" fill="#178f96" opacity="0.37"/><circle cx="527.2" cy="416.8" r="0.6" fill="#178f96" opacity="0.46"/><circle cx="496.4" cy="427.3" r="0.6" fill="#178f96" opacity="0.21"/><circle cx="453.8" cy="377.0" r="0.6" fill="#178f96" opacity="0.22"/><circle cx="454.4" cy="354.2" r="0.6" fill="#178f96" opacity="0.28"/><circle cx="503.6" cy="386.1" r="0.6" fill="#178f96" opacity="0.31"/><circle cx="451.6" cy="374.3" r="0.6" fill="#178f96" opacity="0.48"/><circle cx="505.1" cy="415.7" r="0.6" fill="#178f96" opacity="0.25"/><circle cx="515.0" cy="361.8" r="0.6" fill="#178f96" opacity="0.31"/><circle cx="546.7" cy="419.4" r="0.6" fill="#178f96" opacity="0.37"/><circle cx="509.5" cy="444.0" r="0.6" fill="#178f96" opacity="0.43"/><circle cx="453.9" cy="345.9" r="0.6" fill="#178f96" opacity="0.29"/><circle cx="458.7" cy="367.5" r="0.6" fill="#178f96" opacity="0.48"/><circle cx="532.9" cy="380.1" r="0.6" fill="#178f96" opacity="0.40"/><circle cx="474.3" cy="452.7" r="0.6" fill="#178f96" opacity="0.34"/><circle cx="458.3" cy="371.8" r="0.6" fill="#178f96" opacity="0.37"/><circle cx="458.1" cy="412.7" r="0.6" fill="#178f96" opacity="0.47"/><circle cx="474.7" cy="368.5" r="0.6" fill="#178f96" opacity="0.50"/><circle cx="488.2" cy="353.0" r="0.6" fill="#178f96" opacity="0.21"/><circle cx="439.4" cy="417.9" r="0.6" fill="#178f96" opacity="0.44"/><circle cx="477.5" cy="349.7" r="0.6" fill="#178f96" opacity="0.31"/><circle cx="547.5" cy="406.0" r="0.6" fill="#178f96" opacity="0.49"/><circle cx="531.0" cy="343.4" r="0.6" fill="#178f96" opacity="0.42"/><circle cx="509.2" cy="407.0" r="0.6" fill="#178f96" opacity="0.28"/><circle cx="504.2" cy="355.5" r="0.6" fill="#178f96" opacity="0.33"/><circle cx="481.4" cy="457.4" r="0.6" fill="#178f96" opacity="0.46"/><circle cx="458.1" cy="402.6" r="0.6" fill="#178f96" opacity="0.25"/><circle cx="537.3" cy="447.3" r="0.6" fill="#178f96" opacity="0.29"/><circle cx="504.0" cy="415.7" r="0.6" fill="#178f96" opacity="0.25"/><circle cx="519.0" cy="407.3" r="0.6" fill="#178f96" opacity="0.43"/><circle cx="490.7" cy="342.1" r="0.6" fill="#178f96" opacity="0.30"/><circle cx="428.4" cy="454.4" r="0.6" fill="#178f96" opacity="0.46"/><circle cx="527.5" cy="379.2" r="0.6" fill="#178f96" opacity="0.22"/><circle cx="533.1" cy="456.6" r="0.6" fill="#178f96" opacity="0.23"/><circle cx="485.3" cy="350.4" r="0.6" fill="#178f96" opacity="0.43"/><circle cx="519.4" cy="357.5" r="0.6" fill="#178f96" opacity="0.34"/><circle cx="493.1" cy="374.1" r="0.6" fill="#178f96" opacity="0.46"/><circle cx="477.6" cy="367.6" r="0.6" fill="#178f96" opacity="0.36"/><circle cx="515.1" cy="366.3" r="0.6" fill="#178f96" opacity="0.29"/><circle cx="547.4" cy="420.6" r="0.6" fill="#178f96" opacity="0.33"/><circle cx="489.1" cy="356.6" r="0.6" fill="#178f96" opacity="0.27"/><circle cx="467.2" cy="413.2" r="0.6" fill="#178f96" opacity="0.27"/><circle cx="452.9" cy="350.6" r="0.6" fill="#178f96" opacity="0.39"/><circle cx="453.9" cy="451.6" r="0.6" fill="#178f96" opacity="0.46"/><circle cx="434.6" cy="370.8" r="0.6" fill="#178f96" opacity="0.40"/><circle cx="452.1" cy="358.0" r="0.6" fill="#178f96" opacity="0.48"/><circle cx="495.7" cy="399.2" r="0.6" fill="#178f96" opacity="0.44"/><circle cx="524.5" cy="365.0" r="0.6" fill="#178f96" opacity="0.23"/><circle cx="478.6" cy="393.3" r="0.6" fill="#178f96" opacity="0.34"/><circle cx="514.9" cy="423.5" r="0.6" fill="#178f96" opacity="0.50"/><circle cx="438.0" cy="390.7" r="0.6" fill="#178f96" opacity="0.30"/><circle cx="531.1" cy="372.1" r="0.6" fill="#178f96" opacity="0.26"/><circle cx="480.7" cy="393.0" r="0.6" fill="#178f96" opacity="0.28"/><circle cx="456.5" cy="453.7" r="0.6" fill="#178f96" opacity="0.33"/><circle cx="531.1" cy="408.6" r="0.6" fill="#178f96" opacity="0.22"/><circle cx="547.9" cy="443.2" r="0.6" fill="#178f96" opacity="0.49"/><circle cx="539.0" cy="444.7" r="0.6" fill="#178f96" opacity="0.25"/><circle cx="485.2" cy="367.9" r="0.6" fill="#178f96" opacity="0.32"/><circle cx="433.2" cy="387.9" r="0.6" fill="#178f96" opacity="0.50"/><circle cx="458.4" cy="436.9" r="0.6" fill="#178f96" opacity="0.34"/><circle cx="477.6" cy="457.8" r="0.6" fill="#178f96" opacity="0.50"/><circle cx="493.8" cy="428.9" r="0.6" fill="#178f96" opacity="0.25"/><circle cx="462.2" cy="459.2" r="0.6" fill="#178f96" opacity="0.37"/><circle cx="492.1" cy="432.5" r="0.6" fill="#178f96" opacity="0.22"/><circle cx="497.3" cy="402.8" r="0.6" fill="#178f96" opacity="0.46"/><circle cx="445.2" cy="458.3" r="0.6" fill="#178f96" opacity="0.22"/><circle cx="448.7" cy="414.0" r="0.6" fill="#178f96" opacity="0.40"/><circle cx="454.7" cy="356.5" r="0.6" fill="#178f96" opacity="0.47"/><circle cx="456.0" cy="413.9" r="0.6" fill="#178f96" opacity="0.39"/><circle cx="477.1" cy="412.6" r="0.6" fill="#178f96" opacity="0.36"/><circle cx="540.0" cy="366.7" r="0.6" fill="#178f96" opacity="0.41"/><circle cx="455.1" cy="389.9" r="0.6" fill="#178f96" opacity="0.40"/><circle cx="462.6" cy="380.3" r="0.6" fill="#178f96" opacity="0.43"/><circle cx="434.9" cy="397.5" r="0.6" fill="#178f96" opacity="0.50"/><circle cx="547.5" cy="350.9" r="0.6" fill="#178f96" opacity="0.26"/><circle cx="458.4" cy="454.9" r="0.6" fill="#178f96" opacity="0.46"/><circle cx="533.3" cy="386.7" r="0.6" fill="#178f96" opacity="0.25"/><circle cx="527.7" cy="427.1" r="0.6" fill="#178f96" opacity="0.38"/><circle cx="546.4" cy="421.1" r="0.6" fill="#178f96" opacity="0.20"/></g>
<g><circle cx="615.7" cy="368.4" r="0.78" fill="#1fb8bf" opacity="0.58"/><circle cx="615.6" cy="375.2" r="0.67" fill="#1fb8bf" opacity="0.30"/><circle cx="612.3" cy="381.1" r="0.56" fill="#1fb8bf" opacity="0.61"/><circle cx="610.1" cy="369.5" r="0.77" fill="#1fb8bf" opacity="0.49"/><circle cx="615.1" cy="370.8" r="0.58" fill="#1fb8bf" opacity="0.46"/><circle cx="624.7" cy="373.2" r="0.58" fill="#1fb8bf" opacity="0.57"/><circle cx="613.0" cy="365.4" r="0.50" fill="#1fb8bf" opacity="0.46"/><circle cx="625.5" cy="378.7" r="0.66" fill="#1fb8bf" opacity="0.70"/><circle cx="617.9" cy="366.2" r="0.54" fill="#1fb8bf" opacity="0.32"/><circle cx="608.5" cy="385.0" r="0.76" fill="#1fb8bf" opacity="0.65"/><circle cx="617.1" cy="370.6" r="0.53" fill="#1fb8bf" opacity="0.37"/><circle cx="616.0" cy="360.8" r="0.69" fill="#1fb8bf" opacity="0.45"/><circle cx="622.0" cy="384.4" r="0.79" fill="#1fb8bf" opacity="0.68"/><circle cx="618.5" cy="361.5" r="0.72" fill="#1fb8bf" opacity="0.26"/><circle cx="606.1" cy="385.1" r="0.76" fill="#1fb8bf" opacity="0.65"/><circle cx="615.4" cy="368.6" r="0.53" fill="#1fb8bf" opacity="0.64"/><circle cx="622.4" cy="364.5" r="0.74" fill="#1fb8bf" opacity="0.36"/><circle cx="608.1" cy="374.3" r="0.57" fill="#1fb8bf" opacity="0.65"/><circle cx="617.7" cy="373.6" r="0.76" fill="#1fb8bf" opacity="0.41"/><circle cx="618.6" cy="372.0" r="0.62" fill="#1fb8bf" opacity="0.57"/><circle cx="621.5" cy="372.1" r="0.53" fill="#1fb8bf" opacity="0.72"/><circle cx="617.5" cy="372.3" r="0.58" fill="#1fb8bf" opacity="0.73"/><circle cx="618.9" cy="377.0" r="0.59" fill="#1fb8bf" opacity="0.61"/><circle cx="607.4" cy="368.6" r="0.67" fill="#1fb8bf" opacity="0.44"/><circle cx="613.2" cy="382.4" r="0.78" fill="#1fb8bf" opacity="0.25"/><circle cx="603.4" cy="370.7" r="0.70" fill="#1fb8bf" opacity="0.62"/><circle cx="611.9" cy="374.7" r="0.60" fill="#1fb8bf" opacity="0.58"/><circle cx="608.6" cy="383.7" r="0.59" fill="#1fb8bf" opacity="0.61"/><circle cx="611.1" cy="378.7" r="0.59" fill="#1fb8bf" opacity="0.45"/><circle cx="618.2" cy="377.5" r="0.70" fill="#1fb8bf" opacity="0.72"/><circle cx="620.9" cy="368.2" r="0.66" fill="#1fb8bf" opacity="0.40"/><circle cx="618.8" cy="373.0" r="0.67" fill="#1fb8bf" opacity="0.46"/><circle cx="609.4" cy="367.5" r="0.56" fill="#1fb8bf" opacity="0.47"/><circle cx="599.7" cy="375.2" r="0.55" fill="#1fb8bf" opacity="0.65"/><circle cx="620.2" cy="376.7" r="0.60" fill="#1fb8bf" opacity="0.57"/><circle cx="618.0" cy="363.9" r="0.57" fill="#1fb8bf" opacity="0.59"/><circle cx="614.0" cy="374.3" r="0.64" fill="#1fb8bf" opacity="0.37"/><circle cx="615.0" cy="371.1" r="0.69" fill="#1fb8bf" opacity="0.46"/><circle cx="616.9" cy="381.7" r="0.57" fill="#1fb8bf" opacity="0.50"/><circle cx="613.1" cy="372.5" r="0.73" fill="#1fb8bf" opacity="0.63"/><circle cx="618.9" cy="376.9" r="0.79" fill="#1fb8bf" opacity="0.34"/><circle cx="611.4" cy="372.8" r="0.75" fill="#1fb8bf" opacity="0.37"/><circle cx="602.2" cy="375.9" r="0.80" fill="#1fb8bf" opacity="0.58"/><circle cx="600.4" cy="364.7" r="0.68" fill="#1fb8bf" opacity="0.70"/><circle cx="612.0" cy="366.0" r="0.66" fill="#1fb8bf" opacity="0.67"/><circle cx="622.1" cy="367.0" r="0.58" fill="#1fb8bf" opacity="0.49"/><circle cx="613.7" cy="381.5" r="0.66" fill="#1fb8bf" opacity="0.63"/><circle cx="609.9" cy="369.6" r="0.59" fill="#1fb8bf" opacity="0.29"/><circle cx="612.7" cy="378.2" r="0.54" fill="#1fb8bf" opacity="0.52"/><circle cx="614.7" cy="382.2" r="0.52" fill="#1fb8bf" opacity="0.60"/><circle cx="606.7" cy="377.1" r="0.56" fill="#1fb8bf" opacity="0.46"/><circle cx="601.1" cy="379.3" r="0.71" fill="#1fb8bf" opacity="0.54"/><circle cx="620.4" cy="365.0" r="0.50" fill="#1fb8bf" opacity="0.44"/><circle cx="607.0" cy="381.1" r="0.79" fill="#1fb8bf" opacity="0.68"/><circle cx="604.1" cy="377.8" r="0.68" fill="#1fb8bf" opacity="0.52"/><circle cx="614.3" cy="377.2" r="0.51" fill="#1fb8bf" opacity="0.47"/><circle cx="608.5" cy="380.8" r="0.55" fill="#1fb8bf" opacity="0.45"/><circle cx="610.2" cy="373.6" r="0.51" fill="#1fb8bf" opacity="0.56"/><circle cx="606.9" cy="377.8" r="0.69" fill="#1fb8bf" opacity="0.26"/><circle cx="618.3" cy="378.0" r="0.61" fill="#1fb8bf" opacity="0.28"/><circle cx="614.9" cy="378.2" r="0.61" fill="#1fb8bf" opacity="0.63"/><circle cx="613.7" cy="361.7" r="0.52" fill="#1fb8bf" opacity="0.38"/><circle cx="621.5" cy="373.9" r="0.60" fill="#1fb8bf" opacity="0.75"/><circle cx="606.8" cy="364.5" r="0.73" fill="#1fb8bf" opacity="0.58"/><circle cx="617.6" cy="371.8" r="0.55" fill="#1fb8bf" opacity="0.26"/><circle cx="620.3" cy="379.4" r="0.57" fill="#1fb8bf" opacity="0.53"/><circle cx="610.0" cy="363.3" r="0.68" fill="#1fb8bf" opacity="0.33"/><circle cx="613.5" cy="370.0" r="0.79" fill="#1fb8bf" opacity="0.66"/><circle cx="614.7" cy="373.9" r="0.70" fill="#1fb8bf" opacity="0.41"/><circle cx="619.8" cy="371.4" r="0.52" fill="#1fb8bf" opacity="0.61"/><circle cx="610.2" cy="365.2" r="0.73" fill="#1fb8bf" opacity="0.30"/><circle cx="618.7" cy="366.4" r="0.80" fill="#1fb8bf" opacity="0.31"/><circle cx="614.7" cy="367.6" r="0.61" fill="#1fb8bf" opacity="0.46"/><circle cx="607.6" cy="372.8" r="0.75" fill="#1fb8bf" opacity="0.67"/><circle cx="626.5" cy="382.4" r="0.75" fill="#1fb8bf" opacity="0.57"/><circle cx="648.0" cy="394.7" r="0.74" fill="#1aa6ad" opacity="0.44"/><circle cx="594.2" cy="439.8" r="0.62" fill="#1aa6ad" opacity="0.37"/><circle cx="614.6" cy="430.5" r="0.71" fill="#1aa6ad" opacity="0.26"/><circle cx="663.2" cy="352.5" r="0.56" fill="#1aa6ad" opacity="0.50"/><circle cx="618.2" cy="415.9" r="0.51" fill="#1aa6ad" opacity="0.30"/><circle cx="665.7" cy="364.0" r="0.70" fill="#1aa6ad" opacity="0.23"/><circle cx="602.9" cy="448.5" r="0.57" fill="#1aa6ad" opacity="0.43"/><circle cx="562.2" cy="456.7" r="0.68" fill="#1aa6ad" opacity="0.18"/><circle cx="621.1" cy="433.7" r="0.66" fill="#1aa6ad" opacity="0.43"/><circle cx="621.4" cy="437.9" r="0.56" fill="#1aa6ad" opacity="0.19"/><circle cx="646.1" cy="379.1" r="0.62" fill="#1aa6ad" opacity="0.38"/><circle cx="626.3" cy="393.5" r="0.58" fill="#1aa6ad" opacity="0.45"/><circle cx="647.5" cy="374.8" r="0.53" fill="#1aa6ad" opacity="0.25"/><circle cx="584.7" cy="356.5" r="0.69" fill="#1aa6ad" opacity="0.36"/><circle cx="583.8" cy="368.2" r="0.68" fill="#1aa6ad" opacity="0.34"/><circle cx="681.1" cy="405.5" r="0.53" fill="#1aa6ad" opacity="0.26"/><circle cx="584.9" cy="369.5" r="0.50" fill="#1aa6ad" opacity="0.22"/><circle cx="626.7" cy="375.2" r="0.64" fill="#1aa6ad" opacity="0.54"/><circle cx="646.8" cy="357.3" r="0.62" fill="#1aa6ad" opacity="0.50"/><circle cx="668.3" cy="411.5" r="0.61" fill="#1aa6ad" opacity="0.34"/><circle cx="583.7" cy="348.2" r="0.62" fill="#1aa6ad" opacity="0.53"/><circle cx="662.1" cy="390.5" r="0.66" fill="#1aa6ad" opacity="0.18"/><circle cx="567.6" cy="360.1" r="0.58" fill="#1aa6ad" opacity="0.38"/><circle cx="683.3" cy="356.3" r="0.65" fill="#1aa6ad" opacity="0.46"/><circle cx="658.3" cy="369.3" r="0.61" fill="#1aa6ad" opacity="0.36"/><circle cx="615.5" cy="446.1" r="0.58" fill="#1aa6ad" opacity="0.55"/><circle cx="637.4" cy="415.8" r="0.74" fill="#1aa6ad" opacity="0.45"/><circle cx="586.6" cy="367.5" r="0.54" fill="#1aa6ad" opacity="0.41"/><circle cx="582.4" cy="351.1" r="0.61" fill="#1aa6ad" opacity="0.15"/><circle cx="634.0" cy="377.2" r="0.68" fill="#1aa6ad" opacity="0.24"/><circle cx="647.5" cy="396.9" r="0.73" fill="#1aa6ad" opacity="0.42"/><circle cx="657.9" cy="417.6" r="0.73" fill="#1aa6ad" opacity="0.41"/><circle cx="613.3" cy="407.9" r="0.73" fill="#1aa6ad" opacity="0.41"/><circle cx="662.7" cy="350.6" r="0.58" fill="#1aa6ad" opacity="0.22"/><circle cx="653.1" cy="410.9" r="0.53" fill="#1aa6ad" opacity="0.27"/><circle cx="645.7" cy="426.7" r="0.63" fill="#1aa6ad" opacity="0.53"/><circle cx="621.7" cy="351.7" r="0.61" fill="#1aa6ad" opacity="0.17"/><circle cx="600.6" cy="372.3" r="0.74" fill="#1aa6ad" opacity="0.19"/><circle cx="663.8" cy="411.6" r="0.75" fill="#1aa6ad" opacity="0.53"/><circle cx="643.7" cy="374.6" r="0.69" fill="#1aa6ad" opacity="0.17"/><circle cx="618.9" cy="420.8" r="0.55" fill="#1aa6ad" opacity="0.52"/><circle cx="633.0" cy="418.8" r="0.52" fill="#1aa6ad" opacity="0.35"/><circle cx="603.8" cy="382.3" r="0.71" fill="#1aa6ad" opacity="0.42"/><circle cx="601.6" cy="425.9" r="0.74" fill="#1aa6ad" opacity="0.27"/><circle cx="661.1" cy="408.6" r="0.58" fill="#1aa6ad" opacity="0.33"/><circle cx="600.8" cy="459.4" r="0.63" fill="#1aa6ad" opacity="0.31"/><circle cx="682.5" cy="421.6" r="0.60" fill="#1aa6ad" opacity="0.37"/><circle cx="584.1" cy="385.8" r="0.66" fill="#1aa6ad" opacity="0.45"/><circle cx="654.5" cy="366.6" r="0.73" fill="#1aa6ad" opacity="0.37"/><circle cx="614.9" cy="426.5" r="0.74" fill="#1aa6ad" opacity="0.20"/><circle cx="635.9" cy="371.0" r="0.64" fill="#1aa6ad" opacity="0.21"/><circle cx="628.9" cy="353.3" r="0.73" fill="#1aa6ad" opacity="0.55"/><circle cx="617.8" cy="356.2" r="0.62" fill="#1aa6ad" opacity="0.48"/><circle cx="649.1" cy="403.6" r="0.71" fill="#1aa6ad" opacity="0.26"/><circle cx="681.6" cy="371.5" r="0.60" fill="#1aa6ad" opacity="0.37"/><circle cx="674.4" cy="403.5" r="0.72" fill="#1aa6ad" opacity="0.50"/><circle cx="595.0" cy="437.6" r="0.73" fill="#1aa6ad" opacity="0.32"/><circle cx="623.5" cy="441.3" r="0.57" fill="#1aa6ad" opacity="0.26"/><circle cx="633.2" cy="462.9" r="0.54" fill="#1aa6ad" opacity="0.35"/><circle cx="627.2" cy="383.8" r="0.64" fill="#1aa6ad" opacity="0.37"/><circle cx="617.0" cy="380.9" r="0.67" fill="#1aa6ad" opacity="0.23"/><circle cx="631.3" cy="370.3" r="0.51" fill="#1aa6ad" opacity="0.46"/><circle cx="652.6" cy="427.3" r="0.60" fill="#1aa6ad" opacity="0.47"/><circle cx="642.6" cy="441.3" r="0.62" fill="#1aa6ad" opacity="0.54"/><circle cx="565.6" cy="402.8" r="0.72" fill="#1aa6ad" opacity="0.39"/><circle cx="668.5" cy="395.3" r="0.61" fill="#1aa6ad" opacity="0.36"/><circle cx="649.9" cy="391.6" r="0.54" fill="#1aa6ad" opacity="0.41"/><circle cx="618.7" cy="459.3" r="0.67" fill="#1aa6ad" opacity="0.29"/><circle cx="640.9" cy="445.1" r="0.71" fill="#1aa6ad" opacity="0.49"/><circle cx="607.7" cy="380.3" r="0.69" fill="#1aa6ad" opacity="0.44"/><circle cx="668.3" cy="346.3" r="0.66" fill="#1aa6ad" opacity="0.18"/><circle cx="674.3" cy="462.7" r="0.61" fill="#1aa6ad" opacity="0.45"/><circle cx="573.1" cy="418.7" r="0.61" fill="#1aa6ad" opacity="0.50"/><circle cx="646.4" cy="451.3" r="0.70" fill="#1aa6ad" opacity="0.17"/><circle cx="597.1" cy="387.4" r="0.63" fill="#1aa6ad" opacity="0.21"/><circle cx="630.6" cy="437.9" r="0.52" fill="#1aa6ad" opacity="0.22"/><circle cx="668.1" cy="417.0" r="0.73" fill="#1aa6ad" opacity="0.25"/><circle cx="578.6" cy="397.8" r="0.56" fill="#1aa6ad" opacity="0.25"/><circle cx="562.2" cy="439.4" r="0.67" fill="#1aa6ad" opacity="0.51"/><circle cx="580.4" cy="395.4" r="0.65" fill="#1aa6ad" opacity="0.29"/><circle cx="639.6" cy="393.3" r="0.71" fill="#1aa6ad" opacity="0.25"/><circle cx="585.5" cy="388.5" r="0.56" fill="#1aa6ad" opacity="0.34"/><circle cx="631.3" cy="411.6" r="0.57" fill="#1aa6ad" opacity="0.55"/><circle cx="681.3" cy="421.6" r="0.64" fill="#1aa6ad" opacity="0.26"/><circle cx="645.4" cy="432.1" r="0.65" fill="#1aa6ad" opacity="0.17"/><circle cx="622.1" cy="451.4" r="0.70" fill="#1aa6ad" opacity="0.26"/><circle cx="635.7" cy="384.6" r="0.66" fill="#1aa6ad" opacity="0.40"/><circle cx="644.4" cy="429.2" r="0.71" fill="#1aa6ad" opacity="0.41"/><circle cx="638.3" cy="451.3" r="0.58" fill="#1aa6ad" opacity="0.41"/><circle cx="615.2" cy="412.1" r="0.52" fill="#1aa6ad" opacity="0.44"/><circle cx="597.3" cy="432.4" r="0.53" fill="#1aa6ad" opacity="0.22"/><circle cx="627.3" cy="459.6" r="0.73" fill="#1aa6ad" opacity="0.36"/><circle cx="663.1" cy="373.1" r="0.62" fill="#1aa6ad" opacity="0.48"/><circle cx="660.2" cy="432.3" r="0.53" fill="#1aa6ad" opacity="0.29"/><circle cx="679.4" cy="359.0" r="0.72" fill="#1aa6ad" opacity="0.54"/><circle cx="650.1" cy="460.6" r="0.70" fill="#1aa6ad" opacity="0.54"/><circle cx="606.0" cy="437.7" r="0.63" fill="#1aa6ad" opacity="0.16"/><circle cx="616.9" cy="423.4" r="0.65" fill="#1aa6ad" opacity="0.42"/><circle cx="662.2" cy="455.8" r="0.56" fill="#1aa6ad" opacity="0.19"/><circle cx="564.1" cy="449.0" r="0.73" fill="#1aa6ad" opacity="0.37"/><circle cx="588.2" cy="349.6" r="0.73" fill="#1aa6ad" opacity="0.48"/><circle cx="598.2" cy="391.4" r="0.74" fill="#1aa6ad" opacity="0.21"/><circle cx="598.4" cy="401.6" r="0.72" fill="#1aa6ad" opacity="0.19"/><circle cx="577.7" cy="396.9" r="0.69" fill="#1aa6ad" opacity="0.42"/><circle cx="677.4" cy="392.7" r="0.54" fill="#1aa6ad" opacity="0.45"/><circle cx="612.0" cy="354.0" r="0.60" fill="#1aa6ad" opacity="0.35"/><circle cx="678.0" cy="346.0" r="0.61" fill="#1aa6ad" opacity="0.30"/><circle cx="677.9" cy="445.5" r="0.67" fill="#1aa6ad" opacity="0.19"/><circle cx="628.0" cy="460.3" r="0.60" fill="#1aa6ad" opacity="0.29"/><circle cx="584.3" cy="356.8" r="0.61" fill="#1aa6ad" opacity="0.49"/><circle cx="642.5" cy="419.6" r="0.51" fill="#1aa6ad" opacity="0.39"/><circle cx="657.8" cy="371.5" r="0.64" fill="#1aa6ad" opacity="0.20"/><circle cx="569.4" cy="434.6" r="0.55" fill="#1aa6ad" opacity="0.23"/><circle cx="668.0" cy="381.8" r="0.73" fill="#1aa6ad" opacity="0.21"/><circle cx="561.3" cy="445.9" r="0.53" fill="#1aa6ad" opacity="0.21"/><circle cx="591.8" cy="363.1" r="0.51" fill="#1aa6ad" opacity="0.41"/><circle cx="562.8" cy="437.6" r="0.58" fill="#1aa6ad" opacity="0.25"/><circle cx="582.4" cy="348.3" r="0.63" fill="#1aa6ad" opacity="0.45"/><circle cx="652.7" cy="399.6" r="0.63" fill="#1aa6ad" opacity="0.46"/><circle cx="574.4" cy="403.0" r="0.51" fill="#1aa6ad" opacity="0.53"/><circle cx="657.3" cy="446.9" r="0.61" fill="#1aa6ad" opacity="0.36"/><circle cx="679.6" cy="349.4" r="0.60" fill="#1aa6ad" opacity="0.34"/><circle cx="645.4" cy="401.3" r="0.52" fill="#1aa6ad" opacity="0.51"/><circle cx="570.9" cy="415.6" r="0.57" fill="#1aa6ad" opacity="0.18"/><circle cx="638.9" cy="408.4" r="0.75" fill="#1aa6ad" opacity="0.28"/><circle cx="626.3" cy="396.9" r="0.52" fill="#1aa6ad" opacity="0.39"/><circle cx="647.3" cy="445.2" r="0.69" fill="#1aa6ad" opacity="0.41"/><circle cx="649.7" cy="368.0" r="0.56" fill="#1aa6ad" opacity="0.33"/><circle cx="602.7" cy="396.9" r="0.52" fill="#1aa6ad" opacity="0.32"/><circle cx="613.5" cy="422.5" r="0.54" fill="#1aa6ad" opacity="0.30"/><circle cx="674.5" cy="350.1" r="0.52" fill="#1aa6ad" opacity="0.48"/><circle cx="572.9" cy="431.4" r="0.64" fill="#1aa6ad" opacity="0.47"/><circle cx="633.1" cy="410.0" r="0.53" fill="#1aa6ad" opacity="0.28"/><circle cx="604.5" cy="422.5" r="0.72" fill="#1aa6ad" opacity="0.45"/><circle cx="649.7" cy="459.2" r="0.59" fill="#1aa6ad" opacity="0.39"/><circle cx="632.1" cy="367.7" r="0.56" fill="#1aa6ad" opacity="0.41"/><circle cx="574.3" cy="444.3" r="0.69" fill="#1aa6ad" opacity="0.30"/><circle cx="631.6" cy="439.7" r="0.74" fill="#1aa6ad" opacity="0.49"/><circle cx="661.7" cy="416.2" r="0.51" fill="#1aa6ad" opacity="0.41"/><circle cx="675.3" cy="442.4" r="0.55" fill="#1aa6ad" opacity="0.26"/><circle cx="647.4" cy="379.4" r="0.50" fill="#1aa6ad" opacity="0.29"/><circle cx="668.0" cy="410.5" r="0.54" fill="#1aa6ad" opacity="0.31"/><circle cx="638.9" cy="345.7" r="0.55" fill="#1aa6ad" opacity="0.45"/><circle cx="612.6" cy="383.2" r="0.68" fill="#1aa6ad" opacity="0.30"/><circle cx="656.6" cy="410.7" r="0.51" fill="#1aa6ad" opacity="0.18"/><circle cx="580.4" cy="416.8" r="0.57" fill="#1aa6ad" opacity="0.42"/><circle cx="642.4" cy="400.8" r="0.57" fill="#1aa6ad" opacity="0.33"/><circle cx="653.9" cy="355.8" r="0.57" fill="#1aa6ad" opacity="0.32"/><circle cx="644.5" cy="400.9" r="0.51" fill="#1aa6ad" opacity="0.42"/><circle cx="609.6" cy="414.5" r="0.58" fill="#1aa6ad" opacity="0.15"/><circle cx="602.7" cy="351.9" r="0.6" fill="#1aa6ad" opacity="0.30"/><circle cx="609.7" cy="345.4" r="0.6" fill="#1aa6ad" opacity="0.50"/><circle cx="600.5" cy="364.0" r="0.6" fill="#1aa6ad" opacity="0.48"/><circle cx="620.0" cy="386.7" r="0.6" fill="#1aa6ad" opacity="0.52"/><circle cx="594.3" cy="388.1" r="0.6" fill="#1aa6ad" opacity="0.22"/><circle cx="591.1" cy="391.1" r="0.6" fill="#1aa6ad" opacity="0.54"/><circle cx="624.5" cy="373.7" r="0.6" fill="#1aa6ad" opacity="0.48"/><circle cx="615.1" cy="350.8" r="0.6" fill="#1aa6ad" opacity="0.21"/><circle cx="609.5" cy="385.1" r="0.6" fill="#1aa6ad" opacity="0.45"/><circle cx="639.9" cy="391.0" r="0.6" fill="#1aa6ad" opacity="0.24"/><circle cx="640.7" cy="357.2" r="0.6" fill="#1aa6ad" opacity="0.44"/><circle cx="621.4" cy="364.8" r="0.6" fill="#1aa6ad" opacity="0.32"/><circle cx="610.4" cy="361.7" r="0.6" fill="#1aa6ad" opacity="0.27"/><circle cx="620.6" cy="350.7" r="0.6" fill="#1aa6ad" opacity="0.40"/><circle cx="644.4" cy="362.5" r="0.6" fill="#1aa6ad" opacity="0.49"/><circle cx="639.1" cy="385.8" r="0.6" fill="#1aa6ad" opacity="0.29"/><circle cx="598.8" cy="354.9" r="0.6" fill="#1aa6ad" opacity="0.44"/><circle cx="635.6" cy="377.8" r="0.6" fill="#1aa6ad" opacity="0.27"/><circle cx="636.4" cy="369.7" r="0.6" fill="#1aa6ad" opacity="0.50"/><circle cx="635.6" cy="367.4" r="0.6" fill="#1aa6ad" opacity="0.57"/><circle cx="623.9" cy="376.8" r="0.6" fill="#1aa6ad" opacity="0.45"/><circle cx="641.9" cy="376.4" r="0.6" fill="#1aa6ad" opacity="0.26"/><circle cx="594.1" cy="367.1" r="0.6" fill="#1aa6ad" opacity="0.32"/><circle cx="606.5" cy="347.8" r="0.6" fill="#1aa6ad" opacity="0.40"/><circle cx="608.6" cy="367.6" r="0.6" fill="#1aa6ad" opacity="0.22"/><circle cx="639.9" cy="348.8" r="0.6" fill="#1aa6ad" opacity="0.55"/><circle cx="641.3" cy="375.8" r="0.6" fill="#1aa6ad" opacity="0.40"/><circle cx="617.8" cy="372.7" r="0.6" fill="#1aa6ad" opacity="0.52"/><circle cx="643.8" cy="367.5" r="0.6" fill="#1aa6ad" opacity="0.52"/><circle cx="629.1" cy="361.1" r="0.6" fill="#1aa6ad" opacity="0.39"/><circle cx="599.1" cy="348.1" r="0.6" fill="#1aa6ad" opacity="0.24"/><circle cx="643.9" cy="362.2" r="0.6" fill="#1aa6ad" opacity="0.49"/><circle cx="620.3" cy="353.6" r="0.6" fill="#1aa6ad" opacity="0.30"/><circle cx="616.3" cy="367.0" r="0.6" fill="#1aa6ad" opacity="0.41"/><circle cx="599.5" cy="363.6" r="0.6" fill="#1aa6ad" opacity="0.31"/><circle cx="614.5" cy="361.9" r="0.6" fill="#1aa6ad" opacity="0.44"/><circle cx="637.4" cy="377.4" r="0.6" fill="#1aa6ad" opacity="0.23"/><circle cx="595.7" cy="378.9" r="0.6" fill="#1aa6ad" opacity="0.31"/><circle cx="633.4" cy="377.8" r="0.6" fill="#1aa6ad" opacity="0.56"/><circle cx="642.4" cy="361.7" r="0.6" fill="#1aa6ad" opacity="0.43"/><circle cx="598.5" cy="362.5" r="0.6" fill="#1aa6ad" opacity="0.59"/><circle cx="631.9" cy="364.6" r="0.6" fill="#1aa6ad" opacity="0.44"/><circle cx="646.3" cy="360.5" r="0.6" fill="#1aa6ad" opacity="0.35"/><circle cx="637.5" cy="385.7" r="0.6" fill="#1aa6ad" opacity="0.47"/><circle cx="639.7" cy="381.9" r="0.6" fill="#1aa6ad" opacity="0.47"/><circle cx="621.6" cy="377.3" r="0.6" fill="#1aa6ad" opacity="0.37"/><circle cx="611.7" cy="363.1" r="0.6" fill="#1aa6ad" opacity="0.27"/><circle cx="602.9" cy="392.4" r="0.6" fill="#1aa6ad" opacity="0.39"/><circle cx="603.6" cy="351.9" r="0.6" fill="#1aa6ad" opacity="0.23"/><circle cx="640.7" cy="350.1" r="0.6" fill="#1aa6ad" opacity="0.51"/><circle cx="616.5" cy="362.5" r="0.95" fill="#25cad0"/><circle cx="643.4" cy="381.8" r="0.95" fill="#25cad0"/><circle cx="630.9" cy="387.2" r="0.95" fill="#25cad0"/><circle cx="617.8" cy="385.8" r="0.95" fill="#25cad0"/><circle cx="639" cy="388.5" r="0.95" fill="#25cad0"/><circle cx="604.4" cy="358.4" r="0.95" fill="#25cad0"/><circle cx="619.2" cy="359.3" r="0.95" fill="#25cad0"/><circle cx="683.5" cy="357.9" r="0.95" fill="#25cad0"/><circle cx="675" cy="364.5" r="0.95" fill="#25cad0"/><circle cx="581.6" cy="353.2" r="0.95" fill="#25cad0"/><circle cx="657.1" cy="413.6" r="0.95" fill="#25cad0"/><circle cx="669.4" cy="379.6" r="0.95" fill="#25cad0"/><circle cx="670.3" cy="407" r="0.95" fill="#25cad0"/><circle cx="589.2" cy="445.7" r="0.95" fill="#25cad0"/><circle cx="640.1" cy="388.1" r="0.95" fill="#25cad0"/><ellipse cx="624.1" cy="348.5" rx="1.8" ry="0.8" fill="#2ad4da"/><ellipse cx="616.5" cy="362.5" rx="1.5" ry="0.9" fill="#2ad4da"/></g>
<g><circle cx="592.8" cy="382.6" r="0.9" fill="#22c4ca"/><circle cx="593.8" cy="384" r="0.8" fill="#22c4ca"/><circle cx="595.3" cy="385.3" r="0.8" fill="#22c4ca"/><circle cx="597" cy="386.7" r="0.9" fill="#22c4ca"/><circle cx="598.2" cy="387.3" r="0.7" fill="#22c4ca"/><circle cx="599.5" cy="389" r="0.8" fill="#22c4ca"/><circle cx="601" cy="390.5" r="0.9" fill="#22c4ca"/><circle cx="602.5" cy="392" r="0.9" fill="#22c4ca"/><circle cx="603.8" cy="393.5" r="0.8" fill="#22c4ca"/><circle cx="605" cy="395" r="0.8" fill="#22c4ca"/><circle cx="598.5" cy="385.5" r="0.7" fill="#22c4ca"/><circle cx="594" cy="389" r="0.6" fill="#22c4ca"/><circle cx="575.5" cy="399.3" r="0.9" fill="#2ad2d8"/><circle cx="577.5" cy="399.3" r="0.9" fill="#2ad2d8"/><circle cx="578.6" cy="401.8" r="0.8" fill="#2ad2d8"/><circle cx="579.8" cy="404.8" r="0.9" fill="#2ad2d8"/><circle cx="580.5" cy="407.8" r="1.1" fill="#2ad2d8"/><circle cx="580" cy="410" r="1.3" fill="#2ad2d8"/><circle cx="579" cy="412" r="1.1" fill="#2ad2d8"/><circle cx="576.5" cy="414.5" r="0.9" fill="#2ad2d8"/><circle cx="575.5" cy="416" r="0.8" fill="#2ad2d8"/><circle cx="573" cy="418.8" r="0.8" fill="#2ad2d8"/><circle cx="571.5" cy="420.5" r="0.8" fill="#2ad2d8"/><circle cx="569.5" cy="422.8" r="1.0" fill="#2ad2d8"/><circle cx="568" cy="424.5" r="1.3" fill="#2ad2d8"/><circle cx="566.5" cy="426.3" r="1.3" fill="#2ad2d8"/><circle cx="565.2" cy="427.8" r="1.1" fill="#2ad2d8"/><circle cx="563.5" cy="401.7" r="0.6" fill="#2ad2d8"/><circle cx="560.8" cy="401" r="0.8" fill="#2ad2d8"/><path d="M565 462 L567.5 463.5 L563.5 464.5" stroke="#22c2c8" stroke-width="1.1" fill="none"/></g>
<rect x="531.1" y="459.3" width="10.9" height="2.4" fill="#fff"/>
<line x1="447.6" y1="525.8" x2="447.6" y2="641.1" stroke="#555555" stroke-width="1.0"/>
<line x1="447.6" y1="639.6" x2="507.9" y2="639.6" stroke="#555555" stroke-width="1.0"/>
<line x1="445.6" y1="525.8" x2="447.6" y2="525.8" stroke="#555555" stroke-width="1.0"/>
<text x="445.0" y="528.5" font-size="9.5" fill="#222" text-anchor="end" >400</text>
<line x1="445.6" y1="554.3" x2="447.6" y2="554.3" stroke="#555555" stroke-width="1.0"/>
<text x="445.0" y="557.0" font-size="9.5" fill="#222" text-anchor="end" >300</text>
<line x1="445.6" y1="582.7" x2="447.6" y2="582.7" stroke="#555555" stroke-width="1.0"/>
<text x="445.0" y="585.4000000000001" font-size="9.5" fill="#222" text-anchor="end" >200</text>
<line x1="445.6" y1="611.2" x2="447.6" y2="611.2" stroke="#555555" stroke-width="1.0"/>
<text x="445.0" y="613.9000000000001" font-size="9.5" fill="#222" text-anchor="end" >100</text>
<line x1="445.6" y1="639.6" x2="447.6" y2="639.6" stroke="#555555" stroke-width="1.0"/>
<text x="445.0" y="642.3000000000001" font-size="9.5" fill="#222" text-anchor="end" >0</text>
<line x1="464" y1="639.6" x2="464" y2="641.2" stroke="#555" stroke-width="0.8"/><line x1="494" y1="639.6" x2="494" y2="641.2" stroke="#555" stroke-width="0.8"/>
<rect x="456.4" y="619.2" width="15.2" height="20.4" fill="none" stroke="#222" stroke-width="1.1"/>
<rect x="486.5" y="569" width="15" height="70.6" fill="none" stroke="#EE6A30" stroke-width="1.1"/>
<line x1="464" y1="614.5" x2="464" y2="624" stroke="#222" stroke-width="0.8"/>
<line x1="460.8" y1="614.5" x2="467.2" y2="614.5" stroke="#222" stroke-width="0.8"/>
<line x1="460.8" y1="624" x2="467.2" y2="624" stroke="#222" stroke-width="0.8"/>
<line x1="494" y1="557" x2="494" y2="581.3" stroke="#EE6A30" stroke-width="0.8"/>
<line x1="490.8" y1="557" x2="497.2" y2="557" stroke="#EE6A30" stroke-width="0.8"/>
<line x1="490.8" y1="581.3" x2="497.2" y2="581.3" stroke="#EE6A30" stroke-width="0.8"/>
<path d="M463.8 612.5L466.6 615.3L463.8 618.0999999999999L461.0 615.3Z" fill="none" stroke="#1a1a1a" stroke-width="0.9"/>
<path d="M467 615.6L469.8 618.4L467 621.1999999999999L464.2 618.4Z" fill="none" stroke="#1a1a1a" stroke-width="0.9"/>
<path d="M460.9 621.8000000000001L463.7 624.6L460.9 627.4L458.09999999999997 624.6Z" fill="none" stroke="#1a1a1a" stroke-width="0.9"/>
<path d="M490.9 542.9L496.5 542.9L493.7 547.6999999999999Z" fill="none" stroke="#EE6A30" stroke-width="0.8" stroke-linejoin="miter"/>
<path d="M490.9 571.6L496.5 571.6L493.7 576.4Z" fill="none" stroke="#EE6A30" stroke-width="0.8" stroke-linejoin="miter"/>
<path d="M490.9 583.7L496.5 583.7L493.7 588.5Z" fill="none" stroke="#EE6A30" stroke-width="0.8" stroke-linejoin="miter"/>
<text x="493.7" y="538.6" font-size="13.5" fill="#111" text-anchor="middle" font-weight="bold" >*</text>
<text x="0" y="0" font-size="12" fill="#1a1a1a" text-anchor="middle" transform="translate(407.6 581.4) rotate(-90)">no. of BODIPY 493/503</text>
<text x="0" y="0" font-size="12" fill="#1a1a1a" text-anchor="middle" transform="translate(423.0 581.5) rotate(-90)">puncta</text>
<line x1="590.4" y1="525.6" x2="590.4" y2="641.7" stroke="#555555" stroke-width="1.0"/>
<line x1="590.4" y1="640.2" x2="649.6" y2="640.2" stroke="#555555" stroke-width="1.0"/>
<line x1="588.4" y1="525.6" x2="590.4" y2="525.6" stroke="#555555" stroke-width="1.0"/>
<text x="587.8" y="528.3000000000001" font-size="9.5" fill="#222" text-anchor="end" >0.8</text>
<line x1="588.4" y1="554.3" x2="590.4" y2="554.3" stroke="#555555" stroke-width="1.0"/>
<text x="587.8" y="557.0" font-size="9.5" fill="#222" text-anchor="end" >0.6</text>
<line x1="588.4" y1="583.0" x2="590.4" y2="583.0" stroke="#555555" stroke-width="1.0"/>
<text x="587.8" y="585.7" font-size="9.5" fill="#222" text-anchor="end" >0.4</text>
<line x1="588.4" y1="611.6" x2="590.4" y2="611.6" stroke="#555555" stroke-width="1.0"/>
<text x="587.8" y="614.3000000000001" font-size="9.5" fill="#222" text-anchor="end" >0.2</text>
<line x1="588.4" y1="640.2" x2="590.4" y2="640.2" stroke="#555555" stroke-width="1.0"/>
<text x="587.8" y="642.9000000000001" font-size="9.5" fill="#222" text-anchor="end" >0</text>
<line x1="605" y1="640.2" x2="605" y2="641.8" stroke="#555" stroke-width="0.8"/><line x1="635" y1="640.2" x2="635" y2="641.8" stroke="#555" stroke-width="0.8"/>
<rect x="597.5" y="603.3" width="14.8" height="36.9" fill="none" stroke="#222" stroke-width="1.1"/>
<rect x="627.3" y="565.4" width="15.2" height="74.8" fill="none" stroke="#EE6A30" stroke-width="1.1"/>
<line x1="604.9" y1="599" x2="604.9" y2="607.7" stroke="#222" stroke-width="0.8"/>
<line x1="601.6999999999999" y1="599" x2="608.1" y2="599" stroke="#222" stroke-width="0.8"/>
<line x1="601.6999999999999" y1="607.7" x2="608.1" y2="607.7" stroke="#222" stroke-width="0.8"/>
<line x1="634.9" y1="554.1" x2="634.9" y2="570.8" stroke="#EE6A30" stroke-width="0.8"/>
<line x1="631.6999999999999" y1="554.1" x2="638.1" y2="554.1" stroke="#EE6A30" stroke-width="0.8"/>
<line x1="631.6999999999999" y1="570.8" x2="638.1" y2="570.8" stroke="#EE6A30" stroke-width="0.8"/>
<path d="M601.4 594.7L604.1999999999999 597.5L601.4 600.3L598.6 597.5Z" fill="none" stroke="#1a1a1a" stroke-width="0.9"/>
<path d="M609 597.2L611.8 600L609 602.8L606.2 600Z" fill="none" stroke="#1a1a1a" stroke-width="0.9"/>
<path d="M604.7 608.8000000000001L607.5 611.6L604.7 614.4L601.9000000000001 611.6Z" fill="none" stroke="#1a1a1a" stroke-width="0.9"/>
<path d="M632.1 539.1L637.6999999999999 539.1L634.9 543.9Z" fill="none" stroke="#EE6A30" stroke-width="0.8" stroke-linejoin="miter"/>
<path d="M628.4000000000001 576.0L634.0 576.0L631.2 580.8Z" fill="none" stroke="#EE6A30" stroke-width="0.8" stroke-linejoin="miter"/>
<path d="M635.3000000000001 572.3000000000001L640.9 572.3000000000001L638.1 577.1Z" fill="none" stroke="#EE6A30" stroke-width="0.8" stroke-linejoin="miter"/>
<text x="634.9" y="537.9" font-size="13.5" fill="#111" text-anchor="middle" font-weight="bold" >*</text>
<text x="0" y="0" font-size="12" fill="#1a1a1a" text-anchor="middle" transform="translate(550.4 580.0) rotate(-90)">size of BODIPY 493/503</text>
<text x="0" y="0" font-size="12" fill="#1a1a1a" text-anchor="middle" transform="translate(565.4 579.5) rotate(-90)">puncta (µm<tspan font-size="7.5" dy="-4">2</tspan><tspan dy="4">)</tspan></text>
<text x="661.6" y="575.1" font-size="12" fill="#1a1a1a" text-anchor="start" >n=3</text>
<text x="661.6" y="590.3" font-size="12" fill="#EE6A30" text-anchor="start" >n=3</text>
</svg>
</body></html>
